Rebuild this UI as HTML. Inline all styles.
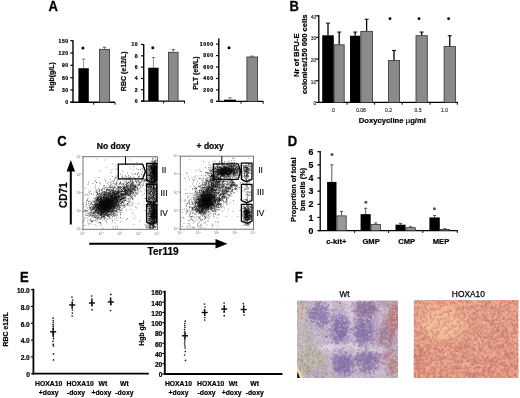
<!DOCTYPE html>
<html><head><meta charset="utf-8"><style>
html,body{margin:0;padding:0;background:#fff;width:520px;height:398px;overflow:hidden}
svg{display:block;will-change:transform}
text{font-family:"Liberation Sans",sans-serif}
</style></head><body>
<svg width="520" height="398" viewBox="0 0 520 398" font-family="Liberation Sans, sans-serif">
<defs>
<filter id="sb" x="-5%" y="-5%" width="110%" height="110%"><feGaussianBlur stdDeviation="1.15"/></filter>
<filter id="b6" x="-50%" y="-50%" width="200%" height="200%"><feGaussianBlur stdDeviation="6"/></filter>
<filter id="sb2" x="-5%" y="-5%" width="110%" height="110%"><feGaussianBlur stdDeviation="0.7"/></filter>
<filter id="sb3" x="-5%" y="-5%" width="110%" height="110%"><feGaussianBlur stdDeviation="1.3"/></filter>
<filter id="b2" x="-50%" y="-50%" width="200%" height="200%"><feGaussianBlur stdDeviation="2"/></filter>
<filter id="b3" x="-50%" y="-50%" width="200%" height="200%"><feGaussianBlur stdDeviation="3"/></filter>
<filter id="b4" x="-50%" y="-50%" width="200%" height="200%"><feGaussianBlur stdDeviation="4"/></filter>
<clipPath id="cL"><rect x="83" y="156.7" width="74" height="72.6"/></clipPath>
<clipPath id="cR"><rect x="180.3" y="156.2" width="73.2" height="73"/></clipPath>
<filter id="blur3" x="-50%" y="-50%" width="200%" height="200%"><feGaussianBlur stdDeviation="3.5"/></filter>
<filter id="blur2" x="-50%" y="-50%" width="200%" height="200%"><feGaussianBlur stdDeviation="2"/></filter>
<filter id="nz1" x="0" y="0" width="100%" height="100%"><feTurbulence type="fractalNoise" baseFrequency="0.42" numOctaves="2" seed="3"/><feColorMatrix type="matrix" values="0 0 0 0 1  0 0 0 0 0.97  0 0 0 0 0.95  3 0 0 0 -1.45"/></filter>
<filter id="nz2" x="0" y="0" width="100%" height="100%"><feTurbulence type="fractalNoise" baseFrequency="0.38" numOctaves="2" seed="11"/><feColorMatrix type="matrix" values="0 0 0 0 0.3  0 0 0 0 0.22  0 0 0 0 0.42  0 3 0 0 -1.5"/></filter>
<filter id="nz3" x="0" y="0" width="100%" height="100%"><feTurbulence type="fractalNoise" baseFrequency="0.38" numOctaves="2" seed="11"/><feColorMatrix type="matrix" values="0 0 0 0 0.6  0 0 0 0 0.3  0 0 0 0 0.3  0 3 0 0 -1.5"/></filter>
<filter id="noiseA" x="0" y="0" width="100%" height="100%"><feTurbulence type="fractalNoise" baseFrequency="0.45" numOctaves="2" seed="3"/><feColorMatrix type="matrix" values="0 0 0 0 1  0 0 0 0 1  0 0 0 0 1  3 0 0 0 -1.4"/></filter>
<filter id="noiseB" x="0" y="0" width="100%" height="100%"><feTurbulence type="fractalNoise" baseFrequency="0.5" numOctaves="2" seed="9"/><feColorMatrix type="matrix" values="0 0 0 0 0.45  0 0 0 0 0.2  0 0 0 0 0.3  3 0 0 0 -1.5"/></filter>
<clipPath id="cw"><rect x="297" y="300.5" width="101" height="77.5"/></clipPath>
<clipPath id="ch"><rect x="413.6" y="300.1" width="105" height="77.8"/></clipPath>
<linearGradient id="gr1" x1="0" x2="1" y1="0" y2="0"><stop offset="0.75" stop-color="#c25a5a" stop-opacity="0"/><stop offset="1" stop-color="#c25a5a" stop-opacity="0.8"/></linearGradient>
<radialGradient id="gh1" cx="0.3" cy="0.3" r="0.35"><stop offset="0" stop-color="#f3d6a6"/><stop offset="1" stop-color="#f3d6a6" stop-opacity="0"/></radialGradient>
</defs>
<rect width="520" height="398" fill="#fff"/>
<text transform="translate(48.6,10.7) scale(0.93,1)" font-size="14" font-weight="bold" stroke="#000" stroke-width="0.3">A</text>
<line x1="73" y1="40.3" x2="73" y2="103" stroke="#000" stroke-width="1.4"/>
<line x1="70.3" y1="102.3" x2="73" y2="102.3" stroke="#000" stroke-width="1.2"/>
<text x="68.8" y="104.14" font-size="5.1" font-weight="bold" text-anchor="end" fill="#000" stroke="#000" stroke-width="0.2" letter-spacing="0.6">0</text>
<line x1="70.3" y1="89.98" x2="73" y2="89.98" stroke="#000" stroke-width="1.2"/>
<text x="68.8" y="91.82" font-size="5.1" font-weight="bold" text-anchor="end" fill="#000" stroke="#000" stroke-width="0.2" letter-spacing="0.6">30</text>
<line x1="70.3" y1="77.66" x2="73" y2="77.66" stroke="#000" stroke-width="1.2"/>
<text x="68.8" y="79.5" font-size="5.1" font-weight="bold" text-anchor="end" fill="#000" stroke="#000" stroke-width="0.2" letter-spacing="0.6">60</text>
<line x1="70.3" y1="65.34" x2="73" y2="65.34" stroke="#000" stroke-width="1.2"/>
<text x="68.8" y="67.18" font-size="5.1" font-weight="bold" text-anchor="end" fill="#000" stroke="#000" stroke-width="0.2" letter-spacing="0.6">90</text>
<line x1="70.3" y1="53.02" x2="73" y2="53.02" stroke="#000" stroke-width="1.2"/>
<text x="68.8" y="54.86" font-size="5.1" font-weight="bold" text-anchor="end" fill="#000" stroke="#000" stroke-width="0.2" letter-spacing="0.6">120</text>
<line x1="70.3" y1="40.7" x2="73" y2="40.7" stroke="#000" stroke-width="1.2"/>
<text x="68.8" y="42.54" font-size="5.1" font-weight="bold" text-anchor="end" fill="#000" stroke="#000" stroke-width="0.2" letter-spacing="0.6">150</text>
<line x1="70.3" y1="102.3" x2="115" y2="102.3" stroke="#000" stroke-width="1.4"/>
<line x1="93.7" y1="102.3" x2="93.7" y2="104.6" stroke="#000" stroke-width="1"/>
<line x1="115" y1="102.3" x2="115" y2="104.6" stroke="#000" stroke-width="1"/>
<line x1="83.6" y1="68.21" x2="83.6" y2="59.18" stroke="#777" stroke-width="0.8"/>
<line x1="82" y1="59.18" x2="85.2" y2="59.18" stroke="#777" stroke-width="1.0"/>
<rect x="78.4" y="68.21" width="10.4" height="34.09" fill="#000" stroke="none" stroke-width="0"/>
<line x1="104.5" y1="48.91" x2="104.5" y2="47.27" stroke="#555" stroke-width="0.8"/>
<line x1="102.9" y1="47.27" x2="106.1" y2="47.27" stroke="#555" stroke-width="1.0"/>
<rect x="99.4" y="49.31" width="10.2" height="52.99" fill="#8a8a8a" stroke="#333" stroke-width="0.8"/>
<circle cx="82.9" cy="47.9" r="1.5" fill="#000"/>
<text transform="translate(51.5,76.5) rotate(-90)" x="0" y="0" font-size="7" font-weight="bold" text-anchor="middle" dominant-baseline="central" fill="#000" stroke="#000" stroke-width="0.2">Hgb(g/L)</text>
<line x1="143.7" y1="44.2" x2="143.7" y2="101.8" stroke="#000" stroke-width="1.4"/>
<line x1="141" y1="101.1" x2="143.7" y2="101.1" stroke="#000" stroke-width="1.2"/>
<text x="138.3" y="102.94" font-size="5.1" font-weight="bold" text-anchor="end" fill="#000" stroke="#000" stroke-width="0.2" letter-spacing="0.6">0</text>
<line x1="141" y1="89.78" x2="143.7" y2="89.78" stroke="#000" stroke-width="1.2"/>
<text x="138.3" y="91.62" font-size="5.1" font-weight="bold" text-anchor="end" fill="#000" stroke="#000" stroke-width="0.2" letter-spacing="0.6">2</text>
<line x1="141" y1="78.46" x2="143.7" y2="78.46" stroke="#000" stroke-width="1.2"/>
<text x="138.3" y="80.3" font-size="5.1" font-weight="bold" text-anchor="end" fill="#000" stroke="#000" stroke-width="0.2" letter-spacing="0.6">4</text>
<line x1="141" y1="67.14" x2="143.7" y2="67.14" stroke="#000" stroke-width="1.2"/>
<text x="138.3" y="68.98" font-size="5.1" font-weight="bold" text-anchor="end" fill="#000" stroke="#000" stroke-width="0.2" letter-spacing="0.6">6</text>
<line x1="141" y1="55.82" x2="143.7" y2="55.82" stroke="#000" stroke-width="1.2"/>
<text x="138.3" y="57.66" font-size="5.1" font-weight="bold" text-anchor="end" fill="#000" stroke="#000" stroke-width="0.2" letter-spacing="0.6">8</text>
<line x1="141" y1="44.5" x2="143.7" y2="44.5" stroke="#000" stroke-width="1.2"/>
<text x="138.3" y="46.34" font-size="5.1" font-weight="bold" text-anchor="end" fill="#000" stroke="#000" stroke-width="0.2" letter-spacing="0.6">10</text>
<line x1="141.3" y1="101.1" x2="184.8" y2="101.1" stroke="#000" stroke-width="1.4"/>
<line x1="163.7" y1="101.1" x2="163.7" y2="103.4" stroke="#000" stroke-width="1"/>
<line x1="184.5" y1="101.1" x2="184.5" y2="103.4" stroke="#000" stroke-width="1"/>
<line x1="153.4" y1="67.71" x2="153.4" y2="57.52" stroke="#777" stroke-width="0.8"/>
<line x1="151.8" y1="57.52" x2="155" y2="57.52" stroke="#777" stroke-width="1.0"/>
<rect x="148.2" y="67.71" width="10.4" height="33.39" fill="#000" stroke="none" stroke-width="0"/>
<line x1="173.25" y1="51.86" x2="173.25" y2="49.59" stroke="#555" stroke-width="0.8"/>
<line x1="171.65" y1="49.59" x2="174.85" y2="49.59" stroke="#555" stroke-width="1.0"/>
<rect x="168.4" y="52.26" width="9.7" height="48.84" fill="#8a8a8a" stroke="#333" stroke-width="0.8"/>
<circle cx="152.8" cy="47.8" r="1.5" fill="#000"/>
<text transform="translate(123.8,71.3) rotate(-90)" x="0" y="0" font-size="7" font-weight="bold" text-anchor="middle" dominant-baseline="central" fill="#000" stroke="#000" stroke-width="0.2">RBC (e12/L)</text>
<line x1="218.8" y1="38.4" x2="218.8" y2="102.1" stroke="#000" stroke-width="1.4"/>
<line x1="216.1" y1="101.4" x2="218.8" y2="101.4" stroke="#000" stroke-width="1.2"/>
<text x="213.6" y="103.24" font-size="5.1" font-weight="bold" text-anchor="end" fill="#000" stroke="#000" stroke-width="0.2" letter-spacing="0.6">0</text>
<line x1="216.1" y1="89.94" x2="218.8" y2="89.94" stroke="#000" stroke-width="1.2"/>
<text x="213.6" y="91.78" font-size="5.1" font-weight="bold" text-anchor="end" fill="#000" stroke="#000" stroke-width="0.2" letter-spacing="0.6">200</text>
<line x1="216.1" y1="78.48" x2="218.8" y2="78.48" stroke="#000" stroke-width="1.2"/>
<text x="213.6" y="80.32" font-size="5.1" font-weight="bold" text-anchor="end" fill="#000" stroke="#000" stroke-width="0.2" letter-spacing="0.6">400</text>
<line x1="216.1" y1="67.02" x2="218.8" y2="67.02" stroke="#000" stroke-width="1.2"/>
<text x="213.6" y="68.86" font-size="5.1" font-weight="bold" text-anchor="end" fill="#000" stroke="#000" stroke-width="0.2" letter-spacing="0.6">600</text>
<line x1="216.1" y1="55.56" x2="218.8" y2="55.56" stroke="#000" stroke-width="1.2"/>
<text x="213.6" y="57.4" font-size="5.1" font-weight="bold" text-anchor="end" fill="#000" stroke="#000" stroke-width="0.2" letter-spacing="0.6">800</text>
<line x1="216.1" y1="44.1" x2="218.8" y2="44.1" stroke="#000" stroke-width="1.2"/>
<text x="213.6" y="45.94" font-size="5.1" font-weight="bold" text-anchor="end" fill="#000" stroke="#000" stroke-width="0.2" letter-spacing="0.6">1000</text>
<line x1="216.1" y1="101.4" x2="263.4" y2="101.4" stroke="#000" stroke-width="1.4"/>
<line x1="241" y1="101.4" x2="241" y2="103.7" stroke="#000" stroke-width="1"/>
<line x1="263.2" y1="101.4" x2="263.2" y2="103.7" stroke="#000" stroke-width="1"/>
<line x1="230" y1="99.68" x2="230" y2="97.68" stroke="#777" stroke-width="0.8"/>
<line x1="228.4" y1="97.68" x2="231.6" y2="97.68" stroke="#777" stroke-width="1.0"/>
<rect x="224" y="99.68" width="12" height="1.72" fill="#000" stroke="none" stroke-width="0"/>
<line x1="252.25" y1="56.59" x2="252.25" y2="56.13" stroke="#555" stroke-width="0.8"/>
<line x1="250.65" y1="56.13" x2="253.85" y2="56.13" stroke="#555" stroke-width="1.0"/>
<rect x="246.9" y="56.99" width="10.7" height="44.41" fill="#8a8a8a" stroke="#333" stroke-width="0.8"/>
<circle cx="229" cy="47.8" r="1.5" fill="#000"/>
<text transform="translate(195.8,73) rotate(-90)" x="0" y="0" font-size="7" font-weight="bold" text-anchor="middle" dominant-baseline="central" fill="#000" stroke="#000" stroke-width="0.2">PLT (e9/L)</text>
<text transform="translate(289.5,11) scale(0.93,1)" font-size="14" font-weight="bold" stroke="#000" stroke-width="0.3">B</text>
<line x1="318.8" y1="15.3" x2="318.8" y2="103.05" stroke="#000" stroke-width="1.3"/>
<line x1="316.1" y1="102.4" x2="318.8" y2="102.4" stroke="#000" stroke-width="1.2"/>
<text x="316.2" y="105.33" font-size="4.8" font-weight="normal" text-anchor="end" fill="#222" stroke="#222" stroke-width="0.12" >0</text>
<line x1="316.1" y1="80.75" x2="318.8" y2="80.75" stroke="#000" stroke-width="1.2"/>
<text x="316.2" y="83.68" font-size="4.8" font-weight="normal" text-anchor="end" fill="#222" stroke="#222" stroke-width="0.12" >10</text>
<line x1="316.1" y1="59.1" x2="318.8" y2="59.1" stroke="#000" stroke-width="1.2"/>
<text x="316.2" y="62.03" font-size="4.8" font-weight="normal" text-anchor="end" fill="#222" stroke="#222" stroke-width="0.12" >20</text>
<line x1="316.1" y1="37.45" x2="318.8" y2="37.45" stroke="#000" stroke-width="1.2"/>
<text x="316.2" y="40.38" font-size="4.8" font-weight="normal" text-anchor="end" fill="#222" stroke="#222" stroke-width="0.12" >30</text>
<line x1="316.1" y1="15.8" x2="318.8" y2="15.8" stroke="#000" stroke-width="1.2"/>
<text x="316.2" y="18.73" font-size="4.8" font-weight="normal" text-anchor="end" fill="#222" stroke="#222" stroke-width="0.12" >40</text>
<line x1="318" y1="102.4" x2="457.8" y2="102.4" stroke="#000" stroke-width="1.3"/>
<line x1="347" y1="102.4" x2="347" y2="104.7" stroke="#000" stroke-width="1"/>
<line x1="374.6" y1="102.4" x2="374.6" y2="104.7" stroke="#000" stroke-width="1"/>
<line x1="402.2" y1="102.4" x2="402.2" y2="104.7" stroke="#000" stroke-width="1"/>
<line x1="430" y1="102.4" x2="430" y2="104.7" stroke="#000" stroke-width="1"/>
<line x1="457.3" y1="102.4" x2="457.3" y2="104.7" stroke="#000" stroke-width="1"/>
<line x1="328" y1="35.29" x2="328" y2="23.16" stroke="#000" stroke-width="1.3"/>
<line x1="326" y1="23.16" x2="330" y2="23.16" stroke="#000" stroke-width="1.0"/>
<rect x="322.2" y="35.29" width="11.6" height="67.11" fill="#000" stroke="none" stroke-width="0"/>
<line x1="339.2" y1="44.38" x2="339.2" y2="32.04" stroke="#000" stroke-width="1.3"/>
<line x1="337.2" y1="32.04" x2="341.2" y2="32.04" stroke="#000" stroke-width="1.0"/>
<rect x="334.2" y="44.78" width="10" height="57.62" fill="#8a8a8a" stroke="#333" stroke-width="0.8"/>
<line x1="355.2" y1="35.72" x2="355.2" y2="32.04" stroke="#000" stroke-width="1.3"/>
<line x1="353.2" y1="32.04" x2="357.2" y2="32.04" stroke="#000" stroke-width="1.0"/>
<rect x="350" y="35.72" width="10.4" height="66.68" fill="#000" stroke="none" stroke-width="0"/>
<line x1="366.6" y1="30.95" x2="366.6" y2="19.26" stroke="#000" stroke-width="1.3"/>
<line x1="364.6" y1="19.26" x2="368.6" y2="19.26" stroke="#000" stroke-width="1.0"/>
<rect x="360.8" y="31.35" width="11.6" height="71.05" fill="#8a8a8a" stroke="#333" stroke-width="0.8"/>
<line x1="394" y1="60.18" x2="394" y2="50.44" stroke="#000" stroke-width="1.3"/>
<line x1="392" y1="50.44" x2="396" y2="50.44" stroke="#000" stroke-width="1.0"/>
<rect x="388.4" y="60.58" width="11.2" height="41.82" fill="#8a8a8a" stroke="#333" stroke-width="0.8"/>
<line x1="421.65" y1="35.29" x2="421.65" y2="32.04" stroke="#000" stroke-width="1.3"/>
<line x1="419.65" y1="32.04" x2="423.65" y2="32.04" stroke="#000" stroke-width="1.0"/>
<rect x="416" y="35.69" width="11.3" height="66.71" fill="#8a8a8a" stroke="#333" stroke-width="0.8"/>
<line x1="449.75" y1="46.11" x2="449.75" y2="35.72" stroke="#000" stroke-width="1.3"/>
<line x1="447.75" y1="35.72" x2="451.75" y2="35.72" stroke="#000" stroke-width="1.0"/>
<rect x="444.1" y="46.51" width="11.3" height="55.89" fill="#8a8a8a" stroke="#333" stroke-width="0.8"/>
<circle cx="390" cy="18.7" r="1.4" fill="#000"/>
<circle cx="419" cy="18.7" r="1.4" fill="#000"/>
<circle cx="448.6" cy="18.7" r="1.4" fill="#000"/>
<text x="333.5" y="112.3" font-size="5" font-weight="normal" text-anchor="middle" fill="#222" stroke="#222" stroke-width="0.12" >0</text>
<text x="361" y="112.3" font-size="5" font-weight="normal" text-anchor="middle" fill="#222" stroke="#222" stroke-width="0.12" >0.08</text>
<text x="388.5" y="112.3" font-size="5" font-weight="normal" text-anchor="middle" fill="#222" stroke="#222" stroke-width="0.12" >0.2</text>
<text x="418" y="112.3" font-size="5" font-weight="normal" text-anchor="middle" fill="#222" stroke="#222" stroke-width="0.12" >0.5</text>
<text x="444.5" y="112.3" font-size="5" font-weight="normal" text-anchor="middle" fill="#222" stroke="#222" stroke-width="0.12" >1.0</text>
<text x="358.7" y="123.3" font-size="7.7" font-weight="bold" text-anchor="start" fill="#000" stroke="#000" stroke-width="0.2" >Doxycycline <tspan font-weight="normal">µ</tspan>g/ml</text>
<g transform="translate(298.7,55.2) rotate(-90)"><text x="0" y="0" font-size="7.7" font-weight="bold" text-anchor="middle" stroke="#000" stroke-width="0.2">Nr of BFU-E</text></g>
<g transform="translate(306.6,54.2) rotate(-90)"><text x="0" y="0" font-size="7.6" font-weight="bold" text-anchor="middle" stroke="#000" stroke-width="0.2">colonies/150 000 cells</text></g>
<text transform="translate(57.2,145.7) scale(0.93,1)" font-size="14" font-weight="bold" stroke="#000" stroke-width="0.3">C</text>
<text x="96.8" y="148.9" font-size="8.5" font-weight="bold" text-anchor="start" fill="#000" stroke="#000" stroke-width="0.2" >No doxy</text>
<text x="196.6" y="148.9" font-size="8.5" font-weight="bold" text-anchor="start" fill="#000" stroke="#000" stroke-width="0.2" >+ doxy</text>
<line x1="70.8" y1="171" x2="70.8" y2="224.5" stroke="#000" stroke-width="2"/>
<polygon points="70.8,160 66.6,171.5 75,171.5" fill="#000"/>
<line x1="89.2" y1="243.7" x2="216" y2="243.7" stroke="#000" stroke-width="2"/>
<polygon points="227.5,243.7 215.5,239 215.5,248.4" fill="#000"/>
<text transform="translate(63.8,195.2) rotate(-90)" x="0" y="0" font-size="10" font-weight="bold" text-anchor="middle" dominant-baseline="central" fill="#000" stroke="#000" stroke-width="0.2">CD71</text>
<text x="147.6" y="255.4" font-size="10" font-weight="bold" text-anchor="start" fill="#000" stroke="#000" stroke-width="0.2" >Ter119</text>
<rect x="83" y="156.7" width="74.5" height="72.6" fill="#fff"/>
<g transform="scale(.5)" filter="url(#sb)">
<path fill="none" stroke="#000" stroke-opacity="0.5" stroke-width="1.6" stroke-linecap="square" d="M311 315h0m-6 3h0m0 2h0m8 1h0m-10 1h0m5 0h0m4 0h0m-7 1h0m-31 2h0m33 0h0m3 0h0m2 0h0m-4 2h0m2 0h0m-6 1h0m5 0h0m4 0h0m-9 1h0m2 0h0m-3 1h0m4 0h0m1 0h0m-12 1h0m10 0h0m3 0h0m-16 1h0m12 0h0m2 0h0m1 0h0m2 0h0m-16 1h0m7 0h0m2 0h0m4 0h0m2 0h0m1 0h0m1 0h0m-2 1h0m1 0h0m-21 1h0m13 0h0m2 0h0m1 0h0m2 0h0m1 0h0m1 0h0m2 0h0m1 0h0m-16 1h0m7 0h0m1 0h0m3 0h0m1 0h0m4 0h0m-16 1h0m4 0h0m3 0h0m1 0h0m1 0h0m1 0h0m2 0h0m2 0h0m2 0h0m-39 1h0m32 0h0m1 0h0m1 0h0m3 0h0m1 0h0m1 0h0m-35 1h0m4 0h0m23 0h0m3 0h0m3 0h0m2 0h0m-12 1h0m2 0h0m5 0h0m1 0h0m2 0h0m1 0h0m-9 1h0m2 0h0m2 0h0m1 0h0m3 0h0m1 0h0m1 0h0m-9 1h0m2 0h0m3 0h0m2 0h0m1 0h0m1 0h0m-8 1h0m3 0h0m2 0h0m1 0h0m-10 1h0m2 0h0m2 0h0m2 0h0m1 0h0m1 0h0m1 0h0m1 0h0m1 0h0m1 0h0m-35 1h0m27 0h0m3 0h0m1 0h0m1 0h0m1 0h0m1 0h0m1 0h0m-20 1h0m8 0h0m1 0h0m1 0h0m6 0h0m1 0h0m1 0h0m2 0h0m-11 1h0m2 0h0m1 0h0m1 0h0m1 0h0m1 0h0m1 0h0m2 0h0m3 0h0m-18 1h0m2 0h0m5 0h0m3 0h0m1 0h0m1 0h0m4 0h0m1 0h0m1 0h0m-30 1h0m21 0h0m1 0h0m1 0h0m1 0h0m1 0h0m1 0h0m3 0h0m1 0h0m-68 1h0m44 0h0m7 0h0m9 0h0m1 0h0m1 0h0m1 0h0m1 0h0m3 0h0m-19 1h0m3 0h0m2 0h0m4 0h0m6 0h0m1 0h0m1 0h0m-75 1h0m67 0h0m1 0h0m3 0h0m4 0h0m1 0h0m1 0h0m-68 1h0m57 0h0m3 0h0m2 0h0m1 0h0m1 0h0m3 0h0m-43 1h0m40 0h0m1 0h0m1 0h0m1 0h0m-54 1h0m41 0h0m4 0h0m2 0h0m1 0h0m1 0h0m2 0h0m1 0h0m-65 1h0m9 0h0m34 0h0m6 0h0m9 0h0m10 0h0m-52 1h0m26 0h0m4 0h0m4 0h0m10 0h0m3 0h0m1 0h0m1 0h0m2 0h0m-27 1h0m1 0h0m19 0h0m2 0h0m1 0h0m3 0h0m1 0h0m-91 1h0m20 0h0m16 0h0m35 0h0m9 0h0m1 0h0m1 0h0m7 0h0m-61 1h0m42 0h0m6 0h0m2 0h0m-70 1h0m69 0h0m4 0h0m9 0h0m-75 1h0m40 0h0m10 0h0m4 0h0m8 0h0m8 0h0m8 0h0m-91 1h0m30 0h0m14 0h0m36 0h0m2 0h0m5 0h0m3 0h0m-71 1h0m12 0h0m20 0h0m25 0h0m4 0h0m2 0h0m3 0h0m2 0h0m2 0h0m-118 1h0m7 0h0m52 0h0m5 0h0m7 0h0m1 0h0m2 0h0m6 0h0m7 0h0m24 0h0m3 0h0m3 0h0m2 0h0m-78 1h0m15 0h0m6 0h0m2 0h0m7 0h0m34 0h0m1 0h0m2 0h0m4 0h0m2 0h0m6 0h0m-113 1h0m14 0h0m13 0h0m14 0h0m22 0h0m33 0h0m2 0h0m7 0h0m4 0h0m-132 1h0m44 0h0m9 0h0m15 0h0m2 0h0m7 0h0m11 0h0m2 0h0m3 0h0m6 0h0m17 0h0m10 0h0m4 0h0m-60 1h0m4 0h0m28 0h0m21 0h0m3 0h0m4 0h0m1 0h0m1 0h0m1 0h0m-47 1h0m2 0h0m1 0h0m4 0h0m29 0h0m8 0h0m2 0h0m2 0h0m-102 1h0m45 0h0m1 0h0m3 0h0m21 0h0m23 0h0m-95 1h0m5 0h0m32 0h0m5 0h0m6 0h0m10 0h0m31 0h0m16 0h0m-83 1h0m19 0h0m2 0h0m3 0h0m18 0h0m24 0h0m8 0h0m4 0h0m-77 1h0m7 0h0m5 0h0m14 0h0m12 0h0m3 0h0m1 0h0m25 0h0m3 0h0m2 0h0m4 0h0m1 0h0m2 0h0m-89 1h0m3 0h0m19 0h0m16 0h0m4 0h0m38 0h0m1 0h0m6 0h0m6 0h0m-99 1h0m1 0h0m12 0h0m11 0h0m12 0h0m6 0h0m1 0h0m4 0h0m13 0h0m1 0h0m25 0h0m2 0h0m8 0h0m-84 1h0m11 0h0m4 0h0m5 0h0m1 0h0m14 0h0m7 0h0m7 0h0m31 0h0m3 0h0m-53 1h0m1 0h0m1 0h0m5 0h0m1 0h0m6 0h0m-67 1h0m1 0h0m21 0h0m18 0h0m14 0h0m1 0h0m2 0h0m5 0h0m3 0h0m1 0h0m37 0h0m1 0h0m2 0h0m-105 1h0m9 0h0m24 0h0m7 0h0m8 0h0m2 0h0m3 0h0m51 0h0m-95 1h0m4 0h0m7 0h0m21 0h0m6 0h0m10 0h0m9 0h0m1 0h0m2 0h0m26 0h0m1 0h0m3 0h0m6 0h0m-99 1h0m4 0h0m1 0h0m8 0h0m2 0h0m2 0h0m3 0h0m5 0h0m1 0h0m7 0h0m5 0h0m12 0h0m2 0h0m13 0h0m26 0h0m3 0h0m-106 1h0m1 0h0m11 0h0m8 0h0m15 0h0m15 0h0m1 0h0m10 0h0m6 0h0m41 0h0m2 0h0m-100 1h0m1 0h0m4 0h0m6 0h0m9 0h0m8 0h0m4 0h0m2 0h0m7 0h0m2 0h0m11 0h0m5 0h0m4 0h0m34 0h0m7 0h0m-117 1h0m5 0h0m12 0h0m6 0h0m7 0h0m1 0h0m11 0h0m2 0h0m11 0h0m2 0h0m18 0h0m39 0h0m-106 1h0m5 0h0m2 0h0m11 0h0m3 0h0m5 0h0m4 0h0m18 0h0m7 0h0m10 0h0m31 0h0m2 0h0m-122 1h0m4 0h0m37 0h0m1 0h0m2 0h0m8 0h0m2 0h0m3 0h0m2 0h0m13 0h0m5 0h0m8 0h0m9 0h0m23 0h0m9 0h0m2 0h0m1 0h0m-105 1h0m9 0h0m1 0h0m4 0h0m1 0h0m6 0h0m3 0h0m8 0h0m2 0h0m5 0h0m5 0h0m4 0h0m10 0h0m14 0h0m32 0h0m2 0h0m-138 1h0m23 0h0m9 0h0m13 0h0m1 0h0m9 0h0m3 0h0m8 0h0m10 0h0m2 0h0m1 0h0m1 0h0m6 0h0m41 0h0m-106 1h0m6 0h0m3 0h0m10 0h0m1 0h0m7 0h0m3 0h0m1 0h0m2 0h0m5 0h0m5 0h0m12 0h0m1 0h0m1 0h0m1 0h0m5 0h0m1 0h0m2 0h0m42 0h0m2 0h0m-86 1h0m6 0h0m5 0h0m3 0h0m1 0h0m2 0h0m4 0h0m20 0h0m2 0h0m3 0h0m45 0h0m6 0h0m-120 1h0m9 0h0m4 0h0m4 0h0m1 0h0m11 0h0m1 0h0m11 0h0m9 0h0m4 0h0m51 0h0m10 0h0m-112 1h0m1 0h0m12 0h0m5 0h0m5 0h0m2 0h0m1 0h0m3 0h0m4 0h0m4 0h0m4 0h0m1 0h0m4 0h0m19 0h0m9 0h0m28 0h0m8 0h0m1 0h0m4 0h0m-115 1h0m6 0h0m13 0h0m2 0h0m4 0h0m4 0h0m1 0h0m4 0h0m1 0h0m3 0h0m5 0h0m2 0h0m5 0h0m4 0h0m13 0h0m40 0h0m1 0h0m4 0h0m-116 1h0m5 0h0m23 0h0m1 0h0m5 0h0m3 0h0m6 0h0m10 0h0m18 0h0m36 0h0m1 0h0m7 0h0m2 0h0m-116 1h0m3 0h0m12 0h0m5 0h0m1 0h0m5 0h0m2 0h0m3 0h0m2 0h0m7 0h0m5 0h0m2 0h0m5 0h0m5 0h0m53 0h0m4 0h0m1 0h0m-132 1h0m20 0h0m5 0h0m2 0h0m5 0h0m5 0h0m4 0h0m5 0h0m7 0h0m5 0h0m10 0h0m2 0h0m1 0h0m3 0h0m10 0h0m6 0h0m25 0h0m4 0h0m2 0h0m3 0h0m6 0h0m4 0h0m1 0h0m-122 1h0m3 0h0m11 0h0m6 0h0m1 0h0m1 0h0m1 0h0m1 0h0m2 0h0m2 0h0m3 0h0m2 0h0m2 0h0m2 0h0m5 0h0m1 0h0m3 0h0m13 0h0m10 0h0m6 0h0m1 0h0m39 0h0m1 0h0m1 0h0m4 0h0m-118 1h0m1 0h0m7 0h0m4 0h0m1 0h0m2 0h0m1 0h0m6 0h0m2 0h0m3 0h0m1 0h0m5 0h0m2 0h0m2 0h0m2 0h0m2 0h0m3 0h0m3 0h0m2 0h0m1 0h0m55 0h0m2 0h0m5 0h0m6 0h0m-108 1h0m3 0h0m1 0h0m5 0h0m1 0h0m1 0h0m1 0h0m1 0h0m3 0h0m1 0h0m2 0h0m2 0h0m5 0h0m5 0h0m1 0h0m1 0h0m3 0h0m19 0h0m40 0h0m4 0h0m-109 1h0m6 0h0m9 0h0m1 0h0m1 0h0m1 0h0m3 0h0m4 0h0m1 0h0m2 0h0m1 0h0m3 0h0m1 0h0m1 0h0m1 0h0m2 0h0m1 0h0m21 0h0m44 0h0m7 0h0m3 0h0m-111 1h0m2 0h0m2 0h0m3 0h0m2 0h0m1 0h0m2 0h0m2 0h0m1 0h0m1 0h0m4 0h0m2 0h0m1 0h0m1 0h0m4 0h0m1 0h0m1 0h0m1 0h0m2 0h0m2 0h0m2 0h0m1 0h0m3 0h0m4 0h0m21 0h0m41 0h0m6 0h0m-110 1h0m3 0h0m3 0h0m5 0h0m1 0h0m1 0h0m2 0h0m1 0h0m4 0h0m1 0h0m1 0h0m1 0h0m1 0h0m1 0h0m1 0h0m1 0h0m1 0h0m7 0h0m3 0h0m4 0h0m2 0h0m1 0h0m3 0h0m55 0h0m4 0h0m3 0h0m2 0h0m1 0h0m-112 1h0m2 0h0m1 0h0m5 0h0m1 0h0m2 0h0m2 0h0m3 0h0m1 0h0m1 0h0m1 0h0m1 0h0m3 0h0m3 0h0m2 0h0m5 0h0m3 0h0m2 0h0m29 0h0m-64 1h0m1 0h0m4 0h0m2 0h0m1 0h0m1 0h0m4 0h0m2 0h0m3 0h0m1 0h0m1 0h0m2 0h0m2 0h0m1 0h0m2 0h0m1 0h0m3 0h0m3 0h0m62 0h0m3 0h0m1 0h0m2 0h0m1 0h0m4 0h0m2 0h0m-137 1h0m9 0h0m10 0h0m6 0h0m2 0h0m2 0h0m2 0h0m4 0h0m3 0h0m2 0h0m1 0h0m3 0h0m2 0h0m2 0h0m3 0h0m2 0h0m1 0h0m1 0h0m2 0h0m1 0h0m1 0h0m71 0h0m2 0h0m3 0h0m1 0h0m-132 1h0m13 0h0m4 0h0m1 0h0m5 0h0m2 0h0m1 0h0m1 0h0m1 0h0m4 0h0m1 0h0m1 0h0m1 0h0m1 0h0m2 0h0m1 0h0m2 0h0m2 0h0m2 0h0m1 0h0m1 0h0m1 0h0m2 0h0m1 0h0m4 0h0m5 0h0m1 0h0m17 0h0m10 0h0m34 0h0m8 0h0m2 0h0m-110 1h0m2 0h0m1 0h0m3 0h0m2 0h0m1 0h0m4 0h0m1 0h0m1 0h0m1 0h0m1 0h0m1 0h0m1 0h0m2 0h0m2 0h0m2 0h0m2 0h0m1 0h0m1 0h0m1 0h0m2 0h0m2 0h0m10 0h0m8 0h0m5 0h0m10 0h0m32 0h0m4 0h0m-114 1h0m1 0h0m3 0h0m7 0h0m4 0h0m1 0h0m1 0h0m4 0h0m1 0h0m1 0h0m2 0h0m1 0h0m1 0h0m1 0h0m12 0h0m25 0h0m3 0h0m41 0h0m1 0h0m3 0h0m10 0h0m-144 1h0m5 0h0m20 0h0m1 0h0m1 0h0m5 0h0m1 0h0m2 0h0m2 0h0m1 0h0m1 0h0m1 0h0m1 0h0m2 0h0m1 0h0m2 0h0m2 0h0m1 0h0m1 0h0m1 0h0m2 0h0m6 0h0m3 0h0m4 0h0m3 0h0m3 0h0m9 0h0m48 0h0m13 0h0m1 0h0m1 0h0m-126 1h0m13 0h0m2 0h0m1 0h0m2 0h0m1 0h0m3 0h0m1 0h0m3 0h0m2 0h0m2 0h0m1 0h0m1 0h0m1 0h0m1 0h0m1 0h0m1 0h0m2 0h0m1 0h0m17 0h0m2 0h0m6 0h0m15 0h0m35 0h0m5 0h0m1 0h0m1 0h0m7 0h0m-134 1h0m8 0h0m3 0h0m3 0h0m1 0h0m10 0h0m3 0h0m2 0h0m3 0h0m1 0h0m1 0h0m1 0h0m2 0h0m2 0h0m1 0h0m1 0h0m3 0h0m1 0h0m2 0h0m4 0h0m12 0h0m59 0h0m5 0h0m2 0h0m4 0h0m-125 1h0m3 0h0m1 0h0m3 0h0m4 0h0m1 0h0m2 0h0m2 0h0m1 0h0m1 0h0m3 0h0m2 0h0m1 0h0m1 0h0m1 0h0m1 0h0m4 0h0m4 0h0m2 0h0m1 0h0m1 0h0m68 0h0m1 0h0m4 0h0m4 0h0m3 0h0m1 0h0m3 0h0m-124 1h0m3 0h0m6 0h0m1 0h0m1 0h0m5 0h0m3 0h0m1 0h0m2 0h0m1 0h0m1 0h0m2 0h0m2 0h0m1 0h0m1 0h0m1 0h0m1 0h0m1 0h0m2 0h0m1 0h0m7 0h0m5 0h0m2 0h0m12 0h0m1 0h0m47 0h0m4 0h0m2 0h0m1 0h0m1 0h0m4 0h0m-142 1h0m12 0h0m2 0h0m4 0h0m5 0h0m4 0h0m2 0h0m1 0h0m4 0h0m1 0h0m1 0h0m1 0h0m1 0h0m1 0h0m3 0h0m3 0h0m2 0h0m3 0h0m1 0h0m1 0h0m1 0h0m2 0h0m6 0h0m11 0h0m2 0h0m65 0h0m3 0h0m2 0h0m-135 1h0m3 0h0m8 0h0m1 0h0m5 0h0m4 0h0m9 0h0m2 0h0m2 0h0m2 0h0m2 0h0m2 0h0m2 0h0m1 0h0m6 0h0m2 0h0m1 0h0m1 0h0m4 0h0m68 0h0m6 0h0m2 0h0m2 0h0m1 0h0m-123 1h0m6 0h0m2 0h0m1 0h0m3 0h0m3 0h0m2 0h0m1 0h0m2 0h0m2 0h0m2 0h0m1 0h0m1 0h0m5 0h0m3 0h0m1 0h0m3 0h0m6 0h0m66 0h0m1 0h0m2 0h0m1 0h0m1 0h0m1 0h0m1 0h0m3 0h0m-128 1h0m5 0h0m4 0h0m9 0h0m3 0h0m1 0h0m1 0h0m1 0h0m2 0h0m1 0h0m1 0h0m4 0h0m2 0h0m1 0h0m2 0h0m3 0h0m3 0h0m1 0h0m5 0h0m9 0h0m5 0h0m60 0h0m1 0h0m3 0h0m-125 1h0m1 0h0m8 0h0m6 0h0m2 0h0m1 0h0m2 0h0m1 0h0m1 0h0m2 0h0m7 0h0m1 0h0m1 0h0m11 0h0m7 0h0m5 0h0m61 0h0m3 0h0m1 0h0m2 0h0m1 0h0m2 0h0m2 0h0m1 0h0m-127 1h0m9 0h0m4 0h0m4 0h0m2 0h0m4 0h0m3 0h0m1 0h0m2 0h0m2 0h0m2 0h0m1 0h0m23 0h0m57 0h0m6 0h0m4 0h0m2 0h0m1 0h0m-128 1h0m6 0h0m1 0h0m5 0h0m1 0h0m2 0h0m2 0h0m5 0h0m1 0h0m1 0h0m1 0h0m1 0h0m1 0h0m2 0h0m1 0h0m3 0h0m1 0h0m2 0h0m4 0h0m6 0h0m11 0h0m58 0h0m2 0h0m7 0h0m1 0h0m-118 1h0m8 0h0m5 0h0m2 0h0m13 0h0m3 0h0m1 0h0m3 0h0m1 0h0m6 0h0m66 0h0m1 0h0m1 0h0m4 0h0m2 0h0m3 0h0m1 0h0m-144 1h0m17 0h0m17 0h0m3 0h0m8 0h0m3 0h0m6 0h0m2 0h0m1 0h0m10 0h0m63 0h0m3 0h0m3 0h0m1 0h0m1 0h0m1 0h0m1 0h0m2 0h0m1 0h0m2 0h0m-141 1h0m20 0h0m12 0h0m3 0h0m1 0h0m1 0h0m1 0h0m7 0h0m6 0h0m18 0h0m62 0h0m1 0h0m2 0h0m1 0h0m1 0h0m1 0h0m2 0h0m2 0h0m1 0h0m-131 1h0m5 0h0m2 0h0m2 0h0m7 0h0m7 0h0m3 0h0m2 0h0m13 0h0m1 0h0m74 0h0m4 0h0m2 0h0m1 0h0m2 0h0m1 0h0m1 0h0m3 0h0m-131 1h0m15 0h0m6 0h0m1 0h0m2 0h0m3 0h0m10 0h0m9 0h0m9 0h0m65 0h0m1 0h0m2 0h0m1 0h0m1 0h0m2 0h0m1 0h0m1 0h0m1 0h0m-113 1h0m1 0h0m2 0h0m1 0h0m11 0h0m5 0h0m79 0h0m1 0h0m5 0h0m3 0h0m1 0h0m2 0h0m1 0h0m1 0h0m-117 1h0m6 0h0m4 0h0m2 0h0m5 0h0m2 0h0m2 0h0m11 0h0m76 0h0m3 0h0m2 0h0m2 0h0m-118 1h0m12 0h0m1 0h0m3 0h0m1 0h0m1 0h0m8 0h0m2 0h0m2 0h0m1 0h0m75 0h0m5 0h0m1 0h0m1 0h0m4 0h0m1 0h0m1 0h0m1 0h0m-140 1h0m11 0h0m3 0h0m15 0h0m1 0h0m2 0h0m6 0h0m1 0h0m2 0h0m23 0h0m6 0h0m63 0h0m1 0h0m1 0h0m1 0h0m1 0h0m2 0h0m-116 1h0m7 0h0m5 0h0m9 0h0m13 0h0m5 0h0m70 0h0m1 0h0m1 0h0m1 0h0m1 0h0m2 0h0m2 0h0m-134 1h0m11 0h0m41 0h0m69 0h0m3 0h0m1 0h0m3 0h0m1 0h0m1 0h0m1 0h0m3 0h0m-103 1h0m1 0h0m87 0h0m3 0h0m1 0h0m3 0h0m1 0h0m1 0h0m1 0h0m1 0h0m1 0h0m1 0h0m3 0h0m-9 1h0m1 0h0m1 0h0m1 0h0m1 0h0m1 0h0m3 0h0m-141 1h0m19 0h0m6 0h0m106 0h0m2 0h0m1 0h0m2 0h0m1 0h0m1 0h0m3 0h0m-129 1h0m9 0h0m9 0h0m3 0h0m7 0h0m9 0h0m2 0h0m12 0h0m9 0h0m62 0h0m2 0h0m4 0h0m1 0h0m-119 1h0m3 0h0m103 0h0m3 0h0m2 0h0m1 0h0m1 0h0m2 0h0m1 0h0m2 0h0m2 0h0m-98 1h0m88 0h0m3 0h0m2 0h0m1 0h0m-107 1h0m8 0h0m91 0h0m9 0h0m3 0h0m-132 1h0m117 0h0m9 0h0m-94 1h0m86 0h0m4 0h0m2 0h0m3 0h0m2 0h0m2 0h0m-14 1h0m9 0h0m4 0h0m-127 1h0m2 0h0m117 0h0m1 0h0m3 0h0m3 0h0m3 0h0m-130 1h0m59 0h0m55 0h0m7 0h0m3 0h0m1 0h0m-107 1h0m1 0h0m103 0h0m2 0h0m1 0h0m1 0h0m3 0h0m-135 1h0m25 0h0m94 0h0m2 0h0m2 0h0m2 0h0m5 0h0m4 0h0m3 0h0m-12 1h0m1 0h0m5 1h0m1 0h0m5 0h0m-123 1h0m78 0h0m31 0h0m1 0h0m2 0h0m1 0h0m-3 1h0m7 0h0m2 0h0m-17 1h0m4 0h0m2 0h0m3 0h0m4 0h0m-3 1h0m2 0h0m1 0h0m4 1h0m-16 1h0m1 0h0m2 0h0m11 0h0m3 0h0m2 0h0m-10 1h0m9 0h0m-15 1h0m8 0h0m-5 1h0m6 0h0"/>
<path fill="none" stroke="#000" stroke-opacity="0.5" stroke-width="1.6" stroke-linecap="square" d="M307 317h0m4 3h0m-1 3h0m-9 1h0m8 1h0m2 0h0m-5 2h0m5 0h0m1 0h0m-86 1h0m80 0h0m1 0h0m1 0h0m1 1h0m-14 1h0m7 0h0m3 0h0m2 0h0m3 0h0m1 0h0m-17 1h0m6 0h0m1 0h0m3 0h0m5 0h0m1 0h0m-11 1h0m2 0h0m2 0h0m1 0h0m1 0h0m5 0h0m3 0h0m-46 1h0m29 0h0m3 0h0m3 0h0m1 0h0m5 0h0m4 0h0m-13 1h0m4 0h0m1 0h0m1 0h0m8 0h0m-13 1h0m3 0h0m2 0h0m1 0h0m2 0h0m2 0h0m1 0h0m-10 1h0m1 0h0m3 0h0m2 0h0m1 0h0m1 0h0m1 0h0m1 0h0m-9 1h0m3 0h0m1 0h0m1 0h0m1 0h0m2 0h0m1 0h0m1 0h0m-15 1h0m1 0h0m2 0h0m3 0h0m2 0h0m1 0h0m2 0h0m1 0h0m1 0h0m1 0h0m1 0h0m-15 1h0m6 0h0m1 0h0m1 0h0m2 0h0m4 0h0m-9 1h0m1 0h0m2 0h0m1 0h0m2 0h0m2 0h0m-26 1h0m12 0h0m9 0h0m2 0h0m1 0h0m1 0h0m2 0h0m-111 1h0m97 0h0m8 0h0m1 0h0m3 0h0m1 0h0m2 0h0m-14 1h0m1 0h0m7 0h0m1 0h0m1 0h0m2 0h0m1 0h0m-17 1h0m10 0h0m1 0h0m1 0h0m2 0h0m2 0h0m1 0h0m1 0h0m-27 1h0m4 0h0m6 0h0m7 0h0m4 0h0m1 0h0m1 0h0m2 0h0m-14 1h0m10 0h0m1 0h0m3 0h0m1 0h0m-14 1h0m8 0h0m1 0h0m1 0h0m1 0h0m1 0h0m1 0h0m1 0h0m1 0h0m1 0h0m-31 1h0m16 0h0m9 0h0m1 0h0m1 0h0m1 0h0m-43 1h0m27 0h0m8 0h0m2 0h0m2 0h0m2 0h0m4 0h0m-37 1h0m24 0h0m1 0h0m2 0h0m4 0h0m1 0h0m1 0h0m3 0h0m1 0h0m-55 1h0m40 0h0m3 0h0m1 0h0m1 0h0m2 0h0m3 0h0m1 0h0m1 0h0m-2 1h0m1 0h0m1 0h0m2 0h0m1 0h0m-87 1h0m36 0h0m42 0h0m1 0h0m1 0h0m1 0h0m1 0h0m1 0h0m2 0h0m1 0h0m2 0h0m-83 1h0m14 0h0m54 0h0m2 0h0m2 0h0m4 0h0m4 0h0m1 0h0m2 0h0m-67 1h0m56 0h0m2 0h0m1 0h0m1 0h0m2 0h0m1 0h0m-49 1h0m39 0h0m4 0h0m3 0h0m1 0h0m1 0h0m2 0h0m3 0h0m-82 1h0m43 0h0m22 0h0m4 0h0m4 0h0m2 0h0m3 0h0m-99 1h0m19 0h0m31 0h0m11 0h0m16 0h0m8 0h0m3 0h0m3 0h0m2 0h0m1 0h0m2 0h0m1 0h0m-54 1h0m6 0h0m24 0h0m18 0h0m3 0h0m3 0h0m2 0h0m2 0h0m-63 1h0m10 0h0m20 0h0m10 0h0m14 0h0m6 0h0m2 0h0m-45 1h0m24 0h0m14 0h0m1 0h0m3 0h0m2 0h0m3 0h0m-87 1h0m39 0h0m18 0h0m1 0h0m26 0h0m-48 1h0m34 0h0m6 0h0m12 0h0m-80 1h0m27 0h0m32 0h0m9 0h0m11 0h0m-119 1h0m29 0h0m18 0h0m59 0h0m5 0h0m3 0h0m2 0h0m-79 1h0m34 0h0m2 0h0m11 0h0m3 0h0m-47 1h0m6 0h0m1 0h0m14 0h0m1 0h0m7 0h0m18 0h0m16 0h0m3 0h0m4 0h0m2 0h0m4 0h0m1 0h0m1 0h0m1 0h0m1 0h0m-89 1h0m23 0h0m14 0h0m43 0h0m2 0h0m1 0h0m2 0h0m-70 1h0m14 0h0m8 0h0m5 0h0m37 0h0m-112 1h0m9 0h0m34 0h0m33 0h0m9 0h0m17 0h0m8 0h0m-80 1h0m45 0h0m5 0h0m15 0h0m5 0h0m13 0h0m-66 1h0m20 0h0m13 0h0m14 0h0m15 0h0m3 0h0m1 0h0m2 0h0m1 0h0m-69 1h0m7 0h0m6 0h0m8 0h0m2 0h0m2 0h0m6 0h0m26 0h0m7 0h0m5 0h0m-82 1h0m5 0h0m16 0h0m1 0h0m1 0h0m5 0h0m17 0h0m5 0h0m19 0h0m1 0h0m1 0h0m1 0h0m4 0h0m3 0h0m3 0h0m-96 1h0m9 0h0m19 0h0m8 0h0m1 0h0m1 0h0m7 0h0m9 0h0m1 0h0m16 0h0m15 0h0m7 0h0m3 0h0m1 0h0m-84 1h0m3 0h0m22 0h0m3 0h0m11 0h0m34 0h0m5 0h0m1 0h0m1 0h0m4 0h0m3 0h0m-84 1h0m10 0h0m3 0h0m6 0h0m2 0h0m1 0h0m1 0h0m6 0h0m6 0h0m4 0h0m40 0h0m1 0h0m2 0h0m2 0h0m-102 1h0m18 0h0m6 0h0m11 0h0m2 0h0m1 0h0m1 0h0m11 0h0m9 0h0m8 0h0m20 0h0m3 0h0m10 0h0m2 0h0m-94 1h0m2 0h0m24 0h0m10 0h0m14 0h0m34 0h0m9 0h0m-111 1h0m5 0h0m10 0h0m18 0h0m18 0h0m1 0h0m7 0h0m9 0h0m36 0h0m-109 1h0m9 0h0m19 0h0m2 0h0m2 0h0m1 0h0m2 0h0m7 0h0m9 0h0m4 0h0m3 0h0m4 0h0m1 0h0m7 0h0m2 0h0m3 0h0m1 0h0m38 0h0m-88 1h0m4 0h0m7 0h0m5 0h0m3 0h0m5 0h0m11 0h0m3 0h0m37 0h0m2 0h0m12 0h0m3 0h0m-119 1h0m33 0h0m4 0h0m1 0h0m1 0h0m5 0h0m8 0h0m1 0h0m2 0h0m1 0h0m2 0h0m4 0h0m3 0h0m3 0h0m1 0h0m1 0h0m33 0h0m5 0h0m9 0h0m-120 1h0m18 0h0m5 0h0m7 0h0m1 0h0m1 0h0m2 0h0m1 0h0m8 0h0m2 0h0m3 0h0m3 0h0m10 0h0m4 0h0m54 0h0m-131 1h0m35 0h0m4 0h0m11 0h0m9 0h0m16 0h0m1 0h0m42 0h0m3 0h0m1 0h0m8 0h0m1 0h0m-105 1h0m10 0h0m5 0h0m1 0h0m5 0h0m6 0h0m3 0h0m1 0h0m3 0h0m3 0h0m9 0h0m1 0h0m1 0h0m3 0h0m2 0h0m2 0h0m35 0h0m14 0h0m5 0h0m-118 1h0m4 0h0m7 0h0m6 0h0m4 0h0m11 0h0m2 0h0m1 0h0m3 0h0m1 0h0m1 0h0m10 0h0m4 0h0m3 0h0m1 0h0m1 0h0m8 0h0m44 0h0m-95 1h0m4 0h0m2 0h0m20 0h0m5 0h0m3 0h0m1 0h0m19 0h0m9 0h0m21 0h0m2 0h0m7 0h0m2 0h0m1 0h0m2 0h0m-103 1h0m2 0h0m5 0h0m5 0h0m4 0h0m6 0h0m4 0h0m4 0h0m4 0h0m1 0h0m1 0h0m4 0h0m6 0h0m8 0h0m40 0h0m1 0h0m10 0h0m-109 1h0m6 0h0m21 0h0m2 0h0m1 0h0m4 0h0m8 0h0m3 0h0m6 0h0m1 0h0m16 0h0m16 0h0m-88 1h0m7 0h0m7 0h0m3 0h0m9 0h0m1 0h0m4 0h0m1 0h0m11 0h0m4 0h0m3 0h0m18 0h0m35 0h0m-89 1h0m9 0h0m3 0h0m1 0h0m4 0h0m1 0h0m1 0h0m6 0h0m2 0h0m4 0h0m17 0h0m3 0h0m35 0h0m4 0h0m1 0h0m-97 1h0m1 0h0m1 0h0m13 0h0m1 0h0m1 0h0m1 0h0m4 0h0m2 0h0m1 0h0m4 0h0m1 0h0m7 0h0m13 0h0m51 0h0m-111 1h0m6 0h0m6 0h0m2 0h0m3 0h0m2 0h0m4 0h0m2 0h0m1 0h0m3 0h0m3 0h0m1 0h0m4 0h0m1 0h0m1 0h0m1 0h0m4 0h0m3 0h0m58 0h0m5 0h0m6 0h0m-117 1h0m10 0h0m2 0h0m1 0h0m1 0h0m2 0h0m2 0h0m4 0h0m1 0h0m2 0h0m1 0h0m2 0h0m6 0h0m3 0h0m1 0h0m4 0h0m12 0h0m2 0h0m13 0h0m43 0h0m1 0h0m4 0h0m-113 1h0m2 0h0m5 0h0m5 0h0m2 0h0m5 0h0m3 0h0m1 0h0m2 0h0m2 0h0m1 0h0m1 0h0m1 0h0m3 0h0m1 0h0m5 0h0m2 0h0m4 0h0m6 0h0m2 0h0m8 0h0m46 0h0m-105 1h0m6 0h0m1 0h0m2 0h0m3 0h0m1 0h0m1 0h0m4 0h0m4 0h0m3 0h0m1 0h0m1 0h0m3 0h0m1 0h0m1 0h0m4 0h0m7 0h0m2 0h0m2 0h0m7 0h0m-60 1h0m1 0h0m3 0h0m3 0h0m2 0h0m3 0h0m5 0h0m1 0h0m2 0h0m2 0h0m4 0h0m5 0h0m1 0h0m2 0h0m1 0h0m6 0h0m1 0h0m6 0h0m3 0h0m15 0h0m4 0h0m1 0h0m34 0h0m6 0h0m6 0h0m-115 1h0m2 0h0m4 0h0m5 0h0m4 0h0m2 0h0m1 0h0m1 0h0m1 0h0m1 0h0m4 0h0m1 0h0m1 0h0m4 0h0m3 0h0m2 0h0m4 0h0m69 0h0m4 0h0m-117 1h0m1 0h0m1 0h0m6 0h0m1 0h0m1 0h0m2 0h0m4 0h0m3 0h0m1 0h0m1 0h0m2 0h0m1 0h0m1 0h0m1 0h0m3 0h0m2 0h0m2 0h0m4 0h0m2 0h0m2 0h0m7 0h0m7 0h0m-75 1h0m13 0h0m8 0h0m8 0h0m7 0h0m6 0h0m1 0h0m1 0h0m1 0h0m1 0h0m3 0h0m2 0h0m1 0h0m1 0h0m2 0h0m6 0h0m5 0h0m3 0h0m9 0h0m48 0h0m11 0h0m-117 1h0m1 0h0m2 0h0m1 0h0m4 0h0m1 0h0m4 0h0m2 0h0m1 0h0m2 0h0m2 0h0m1 0h0m2 0h0m1 0h0m1 0h0m2 0h0m1 0h0m2 0h0m7 0h0m5 0h0m2 0h0m7 0h0m51 0h0m9 0h0m3 0h0m4 0h0m-131 1h0m6 0h0m5 0h0m10 0h0m1 0h0m4 0h0m1 0h0m2 0h0m1 0h0m1 0h0m2 0h0m3 0h0m1 0h0m3 0h0m3 0h0m2 0h0m1 0h0m3 0h0m6 0h0m4 0h0m55 0h0m3 0h0m3 0h0m3 0h0m6 0h0m-114 1h0m3 0h0m2 0h0m1 0h0m1 0h0m5 0h0m2 0h0m1 0h0m1 0h0m1 0h0m4 0h0m1 0h0m2 0h0m1 0h0m2 0h0m1 0h0m2 0h0m1 0h0m1 0h0m2 0h0m4 0h0m12 0h0m3 0h0m49 0h0m8 0h0m-117 1h0m2 0h0m3 0h0m6 0h0m5 0h0m1 0h0m3 0h0m2 0h0m1 0h0m2 0h0m2 0h0m1 0h0m1 0h0m1 0h0m2 0h0m4 0h0m3 0h0m3 0h0m5 0h0m67 0h0m9 0h0m-119 1h0m8 0h0m4 0h0m3 0h0m2 0h0m3 0h0m1 0h0m2 0h0m1 0h0m1 0h0m1 0h0m2 0h0m6 0h0m3 0h0m8 0h0m3 0h0m2 0h0m4 0h0m49 0h0m6 0h0m10 0h0m-110 1h0m1 0h0m1 0h0m2 0h0m1 0h0m2 0h0m1 0h0m8 0h0m1 0h0m1 0h0m2 0h0m1 0h0m1 0h0m2 0h0m2 0h0m5 0h0m1 0h0m8 0h0m56 0h0m8 0h0m1 0h0m1 0h0m3 0h0m-144 1h0m15 0h0m10 0h0m6 0h0m1 0h0m2 0h0m5 0h0m5 0h0m1 0h0m5 0h0m1 0h0m4 0h0m1 0h0m3 0h0m1 0h0m1 0h0m1 0h0m1 0h0m1 0h0m18 0h0m60 0h0m2 0h0m-119 1h0m5 0h0m1 0h0m5 0h0m1 0h0m4 0h0m1 0h0m2 0h0m1 0h0m1 0h0m2 0h0m2 0h0m1 0h0m1 0h0m1 0h0m1 0h0m6 0h0m4 0h0m1 0h0m6 0h0m65 0h0m1 0h0m3 0h0m1 0h0m-129 1h0m15 0h0m1 0h0m1 0h0m1 0h0m2 0h0m3 0h0m1 0h0m2 0h0m4 0h0m1 0h0m1 0h0m1 0h0m1 0h0m1 0h0m1 0h0m1 0h0m2 0h0m1 0h0m4 0h0m1 0h0m6 0h0m3 0h0m1 0h0m3 0h0m59 0h0m1 0h0m10 0h0m1 0h0m1 0h0m1 0h0m4 0h0m-115 1h0m1 0h0m3 0h0m1 0h0m2 0h0m1 0h0m1 0h0m2 0h0m1 0h0m1 0h0m2 0h0m1 0h0m1 0h0m2 0h0m1 0h0m2 0h0m3 0h0m1 0h0m1 0h0m4 0h0m1 0h0m5 0h0m2 0h0m3 0h0m9 0h0m7 0h0m4 0h0m34 0h0m6 0h0m7 0h0m-115 1h0m5 0h0m1 0h0m1 0h0m3 0h0m3 0h0m1 0h0m3 0h0m1 0h0m1 0h0m1 0h0m2 0h0m1 0h0m1 0h0m1 0h0m3 0h0m6 0h0m1 0h0m3 0h0m1 0h0m1 0h0m6 0h0m54 0h0m6 0h0m5 0h0m2 0h0m1 0h0m1 0h0m2 0h0m2 0h0m2 0h0m-141 1h0m14 0h0m1 0h0m8 0h0m1 0h0m2 0h0m4 0h0m4 0h0m1 0h0m4 0h0m1 0h0m1 0h0m1 0h0m1 0h0m1 0h0m3 0h0m2 0h0m1 0h0m1 0h0m3 0h0m3 0h0m1 0h0m73 0h0m2 0h0m1 0h0m3 0h0m2 0h0m1 0h0m-118 1h0m1 0h0m3 0h0m3 0h0m1 0h0m1 0h0m2 0h0m2 0h0m1 0h0m4 0h0m2 0h0m2 0h0m1 0h0m2 0h0m3 0h0m8 0h0m6 0h0m3 0h0m68 0h0m1 0h0m2 0h0m-126 1h0m10 0h0m3 0h0m3 0h0m1 0h0m3 0h0m2 0h0m1 0h0m1 0h0m1 0h0m1 0h0m1 0h0m1 0h0m2 0h0m1 0h0m3 0h0m4 0h0m8 0h0m4 0h0m64 0h0m4 0h0m1 0h0m2 0h0m3 0h0m1 0h0m1 0h0m2 0h0m-126 1h0m4 0h0m3 0h0m4 0h0m2 0h0m3 0h0m1 0h0m6 0h0m1 0h0m1 0h0m2 0h0m3 0h0m3 0h0m2 0h0m1 0h0m1 0h0m1 0h0m1 0h0m4 0h0m66 0h0m7 0h0m6 0h0m3 0h0m-130 1h0m4 0h0m3 0h0m5 0h0m10 0h0m2 0h0m2 0h0m1 0h0m1 0h0m1 0h0m1 0h0m1 0h0m1 0h0m1 0h0m3 0h0m1 0h0m3 0h0m3 0h0m4 0h0m4 0h0m66 0h0m8 0h0m1 0h0m1 0h0m-126 1h0m13 0h0m2 0h0m2 0h0m5 0h0m1 0h0m1 0h0m3 0h0m2 0h0m4 0h0m1 0h0m1 0h0m11 0h0m71 0h0m5 0h0m2 0h0m1 0h0m1 0h0m2 0h0m1 0h0m1 0h0m-126 1h0m7 0h0m4 0h0m1 0h0m1 0h0m1 0h0m1 0h0m1 0h0m2 0h0m1 0h0m2 0h0m1 0h0m1 0h0m1 0h0m1 0h0m2 0h0m1 0h0m1 0h0m2 0h0m1 0h0m1 0h0m1 0h0m1 0h0m16 0h0m56 0h0m12 0h0m1 0h0m1 0h0m1 0h0m2 0h0m2 0h0m-130 1h0m10 0h0m1 0h0m7 0h0m2 0h0m2 0h0m4 0h0m3 0h0m2 0h0m3 0h0m10 0h0m8 0h0m63 0h0m1 0h0m7 0h0m2 0h0m1 0h0m3 0h0m1 0h0m1 0h0m-139 1h0m18 0h0m2 0h0m3 0h0m6 0h0m1 0h0m3 0h0m1 0h0m1 0h0m2 0h0m4 0h0m3 0h0m6 0h0m2 0h0m16 0h0m59 0h0m3 0h0m1 0h0m1 0h0m1 0h0m1 0h0m1 0h0m2 0h0m2 0h0m-144 1h0m14 0h0m9 0h0m1 0h0m2 0h0m1 0h0m3 0h0m3 0h0m1 0h0m4 0h0m1 0h0m3 0h0m1 0h0m3 0h0m2 0h0m9 0h0m3 0h0m3 0h0m69 0h0m2 0h0m4 0h0m1 0h0m1 0h0m1 0h0m2 0h0m-123 1h0m3 0h0m3 0h0m6 0h0m7 0h0m1 0h0m3 0h0m4 0h0m2 0h0m1 0h0m11 0h0m3 0h0m1 0h0m71 0h0m1 0h0m1 0h0m2 0h0m-120 1h0m4 0h0m8 0h0m3 0h0m2 0h0m1 0h0m1 0h0m9 0h0m2 0h0m2 0h0m5 0h0m12 0h0m66 0h0m2 0h0m3 0h0m2 0h0m2 0h0m-117 1h0m1 0h0m6 0h0m4 0h0m1 0h0m1 0h0m4 0h0m1 0h0m1 0h0m1 0h0m11 0h0m75 0h0m1 0h0m1 0h0m1 0h0m1 0h0m2 0h0m1 0h0m2 0h0m2 0h0m-138 1h0m1 0h0m8 0h0m3 0h0m2 0h0m3 0h0m9 0h0m5 0h0m2 0h0m4 0h0m2 0h0m5 0h0m12 0h0m10 0h0m55 0h0m3 0h0m1 0h0m3 0h0m1 0h0m1 0h0m1 0h0m2 0h0m1 0h0m1 0h0m1 0h0m-127 1h0m4 0h0m7 0h0m2 0h0m5 0h0m20 0h0m80 0h0m2 0h0m1 0h0m6 0h0m1 0h0m-126 1h0m1 0h0m2 0h0m12 0h0m12 0h0m1 0h0m13 0h0m2 0h0m73 0h0m6 0h0m1 0h0m1 0h0m-120 1h0m8 0h0m2 0h0m4 0h0m3 0h0m3 0h0m1 0h0m19 0h0m11 0h0m58 0h0m3 0h0m1 0h0m4 0h0m1 0h0m1 0h0m2 0h0m1 0h0m1 0h0m-137 1h0m4 0h0m2 0h0m4 0h0m13 0h0m5 0h0m2 0h0m4 0h0m6 0h0m1 0h0m3 0h0m79 0h0m4 0h0m2 0h0m5 0h0m1 0h0m1 0h0m-138 1h0m13 0h0m3 0h0m13 0h0m9 0h0m3 0h0m11 0h0m76 0h0m2 0h0m1 0h0m2 0h0m1 0h0m1 0h0m-103 1h0m9 0h0m2 0h0m76 0h0m5 0h0m3 0h0m3 0h0m2 0h0m1 0h0m5 0h0m-133 1h0m25 0h0m1 0h0m4 0h0m6 0h0m3 0h0m2 0h0m10 0h0m78 0h0m1 0h0m3 0h0m-103 1h0m90 0h0m4 0h0m1 0h0m2 0h0m2 0h0m2 0h0m1 0h0m1 0h0m-109 1h0m4 0h0m3 0h0m92 0h0m2 0h0m1 0h0m2 0h0m2 0h0m1 0h0m2 0h0m-107 1h0m13 0h0m82 0h0m5 0h0m6 0h0m2 0h0m-120 1h0m16 0h0m87 0h0m3 0h0m3 0h0m4 0h0m1 0h0m2 0h0m1 0h0m1 0h0m-142 1h0m26 0h0m3 0h0m5 0h0m21 0h0m73 0h0m8 0h0m2 0h0m3 0h0m2 0h0m1 0h0m-14 1h0m1 0h0m3 0h0m1 0h0m3 0h0m2 0h0m-103 1h0m89 0h0m5 0h0m4 0h0m5 0h0m1 0h0m2 0h0m-125 1h0m2 0h0m2 0h0m41 0h0m74 0h0m6 0h0m-33 1h0m30 0h0m-8 1h0m8 0h0m-143 1h0m59 0h0m70 0h0m6 0h0m1 0h0m4 0h0m2 0h0m3 0h0m-8 1h0m5 0h0m-5 1h0m4 0h0m4 0h0m-133 1h0m121 0h0m5 0h0m-101 1h0m11 0h0m93 1h0m-3 1h0m1 0h0m3 0h0m5 0h0m-142 1h0m130 0h0m-1 3h0m3 0h0m3 0h0m2 0h0m-14 1h0m6 0h0m6 0h0m2 0h0m-73 1h0m57 0h0m9 1h0m3 0h0"/>
<path fill="none" stroke="#000" stroke-opacity="0.5" stroke-width="1.6" stroke-linecap="square" d="M306 316h0m-112 2h0m118 0h0m-1 3h0m-3 1h0m1 0h0m2 1h0m-7 1h0m5 0h0m1 1h0m-2 1h0m2 0h0m-5 1h0m3 0h0m4 0h0m-58 1h0m51 0h0m-73 2h0m68 0h0m4 0h0m2 0h0m3 0h0m1 0h0m-13 1h0m2 0h0m8 0h0m3 0h0m-9 1h0m3 0h0m1 0h0m2 0h0m1 0h0m1 0h0m1 0h0m3 0h0m-11 1h0m4 0h0m1 0h0m1 0h0m1 0h0m2 0h0m-99 1h0m86 0h0m5 0h0m1 0h0m3 0h0m1 0h0m1 0h0m4 0h0m-7 1h0m3 0h0m1 0h0m1 0h0m1 0h0m-13 1h0m4 0h0m4 0h0m1 0h0m1 0h0m2 0h0m1 0h0m1 0h0m-13 1h0m2 0h0m2 0h0m1 0h0m1 0h0m1 0h0m1 0h0m1 0h0m-74 1h0m67 0h0m1 0h0m2 0h0m1 0h0m1 0h0m2 0h0m2 0h0m-45 1h0m33 0h0m1 0h0m3 0h0m1 0h0m2 0h0m2 0h0m1 0h0m1 0h0m1 0h0m-17 1h0m1 0h0m4 0h0m3 0h0m1 0h0m1 0h0m1 0h0m1 0h0m1 0h0m2 0h0m1 0h0m3 0h0m-17 1h0m2 0h0m1 0h0m5 0h0m3 0h0m1 0h0m2 0h0m1 0h0m1 0h0m-19 1h0m9 0h0m1 0h0m2 0h0m1 0h0m1 0h0m1 0h0m1 0h0m1 0h0m-10 1h0m1 0h0m3 0h0m2 0h0m1 0h0m3 0h0m1 0h0m-9 1h0m2 0h0m2 0h0m2 0h0m1 0h0m1 0h0m-13 1h0m4 0h0m3 0h0m2 0h0m2 0h0m1 0h0m1 0h0m1 0h0m1 0h0m1 0h0m-58 1h0m45 0h0m3 0h0m3 0h0m1 0h0m1 0h0m1 0h0m1 0h0m1 0h0m2 0h0m-42 1h0m5 0h0m25 0h0m5 0h0m1 0h0m2 0h0m1 0h0m1 0h0m-40 1h0m30 0h0m3 0h0m1 0h0m2 0h0m1 0h0m1 0h0m-22 1h0m13 0h0m5 0h0m3 0h0m1 0h0m1 0h0m1 0h0m1 0h0m1 0h0m-18 1h0m1 0h0m4 0h0m2 0h0m4 0h0m1 0h0m2 0h0m1 0h0m2 0h0m-14 1h0m5 0h0m3 0h0m1 0h0m2 0h0m1 0h0m2 0h0m-33 1h0m1 0h0m5 0h0m15 0h0m1 0h0m1 0h0m6 0h0m1 0h0m1 0h0m-56 1h0m23 0h0m1 0h0m29 0h0m1 0h0m2 0h0m1 0h0m1 0h0m-62 1h0m8 0h0m38 0h0m6 0h0m1 0h0m1 0h0m4 0h0m-48 1h0m16 0h0m31 0h0m2 0h0m1 0h0m1 0h0m1 0h0m-120 1h0m71 0h0m39 0h0m6 0h0m1 0h0m-32 1h0m26 0h0m4 0h0m5 0h0m-12 1h0m3 0h0m1 0h0m3 0h0m4 0h0m1 0h0m-41 1h0m24 0h0m13 0h0m2 0h0m2 0h0m-24 1h0m15 0h0m3 0h0m2 0h0m3 0h0m-82 1h0m32 0h0m3 0h0m31 0h0m8 0h0m4 0h0m2 0h0m-59 1h0m4 0h0m7 0h0m41 0h0m3 0h0m2 0h0m-117 1h0m72 0h0m10 0h0m5 0h0m26 0h0m4 0h0m1 0h0m1 0h0m2 0h0m1 0h0m-85 1h0m14 0h0m38 0h0m28 0h0m2 0h0m3 0h0m-95 1h0m24 0h0m18 0h0m47 0h0m3 0h0m-76 1h0m26 0h0m4 0h0m23 0h0m11 0h0m2 0h0m1 0h0m4 0h0m1 0h0m1 0h0m5 0h0m2 0h0m-21 1h0m9 0h0m1 0h0m-67 1h0m9 0h0m22 0h0m21 0h0m8 0h0m1 0h0m9 0h0m1 0h0m7 0h0m-83 1h0m33 0h0m15 0h0m1 0h0m21 0h0m5 0h0m-88 1h0m6 0h0m30 0h0m3 0h0m1 0h0m3 0h0m1 0h0m1 0h0m7 0h0m7 0h0m7 0h0m11 0h0m7 0h0m2 0h0m1 0h0m1 0h0m3 0h0m2 0h0m3 0h0m-65 1h0m50 0h0m3 0h0m6 0h0m-99 1h0m41 0h0m4 0h0m2 0h0m9 0h0m3 0h0m1 0h0m3 0h0m28 0h0m13 0h0m-92 1h0m2 0h0m14 0h0m18 0h0m11 0h0m2 0h0m2 0h0m2 0h0m2 0h0m27 0h0m1 0h0m2 0h0m5 0h0m-47 1h0m36 0h0m2 0h0m7 0h0m3 0h0m3 0h0m-104 1h0m12 0h0m9 0h0m10 0h0m9 0h0m2 0h0m4 0h0m1 0h0m15 0h0m5 0h0m18 0h0m14 0h0m5 0h0m-115 1h0m15 0h0m9 0h0m14 0h0m13 0h0m6 0h0m1 0h0m3 0h0m3 0h0m6 0h0m3 0h0m-42 1h0m4 0h0m8 0h0m33 0h0m27 0h0m4 0h0m2 0h0m3 0h0m-103 1h0m3 0h0m5 0h0m35 0h0m1 0h0m1 0h0m1 0h0m11 0h0m1 0h0m3 0h0m2 0h0m28 0h0m4 0h0m1 0h0m5 0h0m4 0h0m-119 1h0m6 0h0m19 0h0m23 0h0m8 0h0m12 0h0m1 0h0m5 0h0m4 0h0m6 0h0m23 0h0m3 0h0m-104 1h0m21 0h0m13 0h0m10 0h0m9 0h0m1 0h0m1 0h0m2 0h0m4 0h0m1 0h0m11 0h0m5 0h0m21 0h0m5 0h0m1 0h0m5 0h0m3 0h0m2 0h0m-89 1h0m6 0h0m18 0h0m2 0h0m2 0h0m9 0h0m33 0h0m3 0h0m10 0h0m-86 1h0m4 0h0m12 0h0m3 0h0m5 0h0m15 0h0m3 0h0m2 0h0m38 0h0m3 0h0m-101 1h0m23 0h0m7 0h0m7 0h0m1 0h0m1 0h0m4 0h0m6 0h0m1 0h0m5 0h0m22 0h0m19 0h0m2 0h0m7 0h0m-99 1h0m16 0h0m3 0h0m1 0h0m5 0h0m2 0h0m1 0h0m17 0h0m1 0h0m3 0h0m5 0h0m32 0h0m7 0h0m3 0h0m1 0h0m2 0h0m-117 1h0m23 0h0m4 0h0m6 0h0m3 0h0m4 0h0m2 0h0m3 0h0m8 0h0m15 0h0m3 0h0m3 0h0m30 0h0m10 0h0m5 0h0m-102 1h0m7 0h0m3 0h0m2 0h0m6 0h0m4 0h0m1 0h0m1 0h0m1 0h0m2 0h0m5 0h0m1 0h0m10 0h0m1 0h0m7 0h0m2 0h0m1 0h0m37 0h0m5 0h0m3 0h0m-112 1h0m2 0h0m3 0h0m11 0h0m5 0h0m4 0h0m6 0h0m1 0h0m3 0h0m11 0h0m1 0h0m1 0h0m3 0h0m1 0h0m4 0h0m2 0h0m10 0h0m35 0h0m5 0h0m6 0h0m-116 1h0m9 0h0m4 0h0m1 0h0m8 0h0m1 0h0m1 0h0m9 0h0m7 0h0m18 0h0m9 0h0m12 0h0m29 0h0m5 0h0m2 0h0m3 0h0m-131 1h0m5 0h0m14 0h0m7 0h0m1 0h0m2 0h0m5 0h0m9 0h0m5 0h0m2 0h0m6 0h0m5 0h0m1 0h0m13 0h0m44 0h0m4 0h0m5 0h0m1 0h0m-111 1h0m1 0h0m1 0h0m6 0h0m1 0h0m1 0h0m1 0h0m2 0h0m4 0h0m2 0h0m1 0h0m4 0h0m1 0h0m2 0h0m3 0h0m1 0h0m12 0h0m1 0h0m4 0h0m4 0h0m1 0h0m5 0h0m48 0h0m1 0h0m1 0h0m2 0h0m-94 1h0m1 0h0m2 0h0m3 0h0m1 0h0m7 0h0m1 0h0m6 0h0m2 0h0m1 0h0m3 0h0m3 0h0m1 0h0m13 0h0m41 0h0m3 0h0m2 0h0m2 0h0m1 0h0m3 0h0m-111 1h0m2 0h0m3 0h0m1 0h0m1 0h0m16 0h0m5 0h0m5 0h0m1 0h0m4 0h0m3 0h0m3 0h0m24 0h0m2 0h0m24 0h0m2 0h0m9 0h0m2 0h0m-108 1h0m3 0h0m18 0h0m1 0h0m4 0h0m3 0h0m3 0h0m4 0h0m3 0h0m4 0h0m5 0h0m17 0h0m-64 1h0m10 0h0m1 0h0m3 0h0m1 0h0m9 0h0m4 0h0m1 0h0m1 0h0m2 0h0m2 0h0m15 0h0m49 0h0m1 0h0m6 0h0m-110 1h0m6 0h0m1 0h0m1 0h0m2 0h0m1 0h0m1 0h0m16 0h0m3 0h0m3 0h0m3 0h0m5 0h0m9 0h0m54 0h0m3 0h0m1 0h0m2 0h0m1 0h0m3 0h0m-119 1h0m4 0h0m2 0h0m1 0h0m2 0h0m6 0h0m1 0h0m5 0h0m4 0h0m1 0h0m5 0h0m1 0h0m2 0h0m2 0h0m3 0h0m3 0h0m1 0h0m2 0h0m2 0h0m7 0h0m52 0h0m5 0h0m-115 1h0m7 0h0m6 0h0m3 0h0m3 0h0m7 0h0m2 0h0m2 0h0m4 0h0m3 0h0m2 0h0m2 0h0m14 0h0m14 0h0m33 0h0m9 0h0m3 0h0m-109 1h0m1 0h0m3 0h0m3 0h0m4 0h0m4 0h0m1 0h0m1 0h0m5 0h0m8 0h0m6 0h0m3 0h0m6 0h0m6 0h0m55 0h0m4 0h0m-106 1h0m2 0h0m1 0h0m3 0h0m5 0h0m3 0h0m1 0h0m1 0h0m2 0h0m1 0h0m1 0h0m6 0h0m3 0h0m6 0h0m1 0h0m3 0h0m5 0h0m2 0h0m1 0h0m2 0h0m5 0h0m45 0h0m13 0h0m-105 1h0m4 0h0m3 0h0m1 0h0m3 0h0m1 0h0m1 0h0m1 0h0m2 0h0m1 0h0m1 0h0m3 0h0m7 0h0m1 0h0m2 0h0m2 0h0m5 0h0m6 0h0m59 0h0m1 0h0m-118 1h0m2 0h0m4 0h0m7 0h0m1 0h0m3 0h0m3 0h0m4 0h0m4 0h0m1 0h0m1 0h0m1 0h0m2 0h0m2 0h0m1 0h0m1 0h0m1 0h0m5 0h0m1 0h0m7 0h0m9 0h0m47 0h0m3 0h0m12 0h0m-132 1h0m14 0h0m3 0h0m4 0h0m2 0h0m1 0h0m2 0h0m1 0h0m1 0h0m3 0h0m3 0h0m1 0h0m1 0h0m1 0h0m2 0h0m1 0h0m1 0h0m1 0h0m3 0h0m2 0h0m2 0h0m4 0h0m1 0h0m64 0h0m4 0h0m5 0h0m5 0h0m-135 1h0m12 0h0m10 0h0m1 0h0m1 0h0m3 0h0m1 0h0m1 0h0m4 0h0m1 0h0m1 0h0m1 0h0m1 0h0m3 0h0m1 0h0m1 0h0m2 0h0m2 0h0m1 0h0m2 0h0m2 0h0m2 0h0m1 0h0m8 0h0m6 0h0m54 0h0m1 0h0m2 0h0m9 0h0m1 0h0m-139 1h0m5 0h0m16 0h0m5 0h0m1 0h0m1 0h0m3 0h0m1 0h0m2 0h0m2 0h0m6 0h0m1 0h0m7 0h0m2 0h0m1 0h0m1 0h0m6 0h0m62 0h0m11 0h0m1 0h0m-124 1h0m14 0h0m2 0h0m3 0h0m3 0h0m2 0h0m1 0h0m1 0h0m2 0h0m1 0h0m3 0h0m2 0h0m2 0h0m1 0h0m1 0h0m2 0h0m2 0h0m2 0h0m3 0h0m2 0h0m1 0h0m11 0h0m1 0h0m15 0h0m47 0h0m6 0h0m-130 1h0m1 0h0m13 0h0m4 0h0m2 0h0m1 0h0m2 0h0m3 0h0m3 0h0m2 0h0m1 0h0m2 0h0m1 0h0m3 0h0m2 0h0m1 0h0m1 0h0m9 0h0m1 0h0m3 0h0m3 0h0m2 0h0m57 0h0m1 0h0m2 0h0m6 0h0m-118 1h0m1 0h0m3 0h0m6 0h0m1 0h0m1 0h0m1 0h0m1 0h0m5 0h0m1 0h0m1 0h0m2 0h0m1 0h0m1 0h0m4 0h0m3 0h0m2 0h0m1 0h0m2 0h0m4 0h0m1 0h0m5 0h0m3 0h0m17 0h0m38 0h0m1 0h0m10 0h0m-123 1h0m8 0h0m1 0h0m1 0h0m4 0h0m3 0h0m1 0h0m2 0h0m2 0h0m1 0h0m2 0h0m1 0h0m2 0h0m1 0h0m1 0h0m2 0h0m3 0h0m1 0h0m2 0h0m2 0h0m1 0h0m2 0h0m5 0h0m1 0h0m1 0h0m4 0h0m4 0h0m61 0h0m4 0h0m2 0h0m-124 1h0m9 0h0m1 0h0m3 0h0m2 0h0m2 0h0m1 0h0m1 0h0m2 0h0m1 0h0m1 0h0m6 0h0m2 0h0m1 0h0m2 0h0m1 0h0m1 0h0m1 0h0m1 0h0m1 0h0m2 0h0m3 0h0m1 0h0m3 0h0m1 0h0m62 0h0m3 0h0m4 0h0m2 0h0m-114 1h0m8 0h0m2 0h0m3 0h0m3 0h0m3 0h0m1 0h0m1 0h0m1 0h0m1 0h0m6 0h0m2 0h0m8 0h0m5 0h0m1 0h0m1 0h0m7 0h0m3 0h0m54 0h0m3 0h0m6 0h0m-120 1h0m1 0h0m4 0h0m5 0h0m2 0h0m1 0h0m1 0h0m1 0h0m2 0h0m1 0h0m1 0h0m1 0h0m2 0h0m1 0h0m1 0h0m1 0h0m3 0h0m2 0h0m1 0h0m2 0h0m1 0h0m4 0h0m1 0h0m6 0h0m1 0h0m3 0h0m6 0h0m57 0h0m3 0h0m2 0h0m1 0h0m-116 1h0m1 0h0m3 0h0m1 0h0m2 0h0m1 0h0m3 0h0m1 0h0m2 0h0m1 0h0m1 0h0m1 0h0m1 0h0m1 0h0m1 0h0m1 0h0m3 0h0m1 0h0m3 0h0m2 0h0m2 0h0m4 0h0m1 0h0m3 0h0m8 0h0m61 0h0m2 0h0m3 0h0m4 0h0m-127 1h0m6 0h0m2 0h0m4 0h0m1 0h0m1 0h0m5 0h0m2 0h0m1 0h0m4 0h0m1 0h0m1 0h0m5 0h0m1 0h0m1 0h0m1 0h0m1 0h0m1 0h0m5 0h0m9 0h0m60 0h0m1 0h0m7 0h0m2 0h0m1 0h0m1 0h0m3 0h0m-123 1h0m5 0h0m4 0h0m2 0h0m3 0h0m1 0h0m1 0h0m1 0h0m1 0h0m4 0h0m4 0h0m1 0h0m1 0h0m1 0h0m1 0h0m3 0h0m2 0h0m2 0h0m2 0h0m1 0h0m3 0h0m1 0h0m3 0h0m37 0h0m31 0h0m3 0h0m4 0h0m3 0h0m-131 1h0m11 0h0m2 0h0m2 0h0m1 0h0m5 0h0m2 0h0m1 0h0m1 0h0m2 0h0m2 0h0m4 0h0m3 0h0m4 0h0m4 0h0m2 0h0m1 0h0m12 0h0m59 0h0m4 0h0m4 0h0m5 0h0m-122 1h0m4 0h0m4 0h0m3 0h0m1 0h0m1 0h0m1 0h0m2 0h0m3 0h0m2 0h0m1 0h0m1 0h0m1 0h0m2 0h0m3 0h0m1 0h0m1 0h0m2 0h0m8 0h0m14 0h0m48 0h0m10 0h0m1 0h0m3 0h0m1 0h0m-126 1h0m5 0h0m6 0h0m5 0h0m2 0h0m5 0h0m3 0h0m4 0h0m1 0h0m1 0h0m1 0h0m2 0h0m3 0h0m1 0h0m1 0h0m8 0h0m9 0h0m58 0h0m10 0h0m1 0h0m1 0h0m-124 1h0m4 0h0m2 0h0m1 0h0m3 0h0m6 0h0m2 0h0m1 0h0m4 0h0m3 0h0m2 0h0m1 0h0m4 0h0m1 0h0m1 0h0m4 0h0m10 0h0m8 0h0m57 0h0m4 0h0m3 0h0m3 0h0m-120 1h0m5 0h0m2 0h0m4 0h0m2 0h0m4 0h0m1 0h0m1 0h0m3 0h0m1 0h0m3 0h0m4 0h0m4 0h0m4 0h0m9 0h0m1 0h0m25 0h0m41 0h0m1 0h0m1 0h0m1 0h0m3 0h0m2 0h0m-142 1h0m18 0h0m4 0h0m8 0h0m2 0h0m1 0h0m1 0h0m3 0h0m5 0h0m1 0h0m2 0h0m1 0h0m11 0h0m1 0h0m26 0h0m45 0h0m2 0h0m1 0h0m3 0h0m3 0h0m1 0h0m2 0h0m3 0h0m-138 1h0m27 0h0m2 0h0m1 0h0m2 0h0m1 0h0m1 0h0m1 0h0m3 0h0m2 0h0m2 0h0m15 0h0m2 0h0m5 0h0m60 0h0m5 0h0m4 0h0m1 0h0m1 0h0m1 0h0m1 0h0m-140 1h0m19 0h0m7 0h0m4 0h0m4 0h0m1 0h0m2 0h0m1 0h0m1 0h0m2 0h0m4 0h0m1 0h0m1 0h0m1 0h0m5 0h0m4 0h0m16 0h0m51 0h0m4 0h0m2 0h0m2 0h0m-113 1h0m5 0h0m2 0h0m3 0h0m1 0h0m7 0h0m3 0h0m5 0h0m1 0h0m2 0h0m3 0h0m1 0h0m3 0h0m1 0h0m72 0h0m1 0h0m1 0h0m3 0h0m1 0h0m1 0h0m4 0h0m-123 1h0m9 0h0m3 0h0m2 0h0m1 0h0m1 0h0m1 0h0m8 0h0m16 0h0m3 0h0m67 0h0m4 0h0m4 0h0m1 0h0m1 0h0m-125 1h0m12 0h0m5 0h0m2 0h0m1 0h0m2 0h0m1 0h0m3 0h0m1 0h0m5 0h0m5 0h0m76 0h0m8 0h0m2 0h0m1 0h0m2 0h0m-132 1h0m11 0h0m8 0h0m3 0h0m6 0h0m1 0h0m3 0h0m5 0h0m50 0h0m33 0h0m4 0h0m1 0h0m3 0h0m1 0h0m1 0h0m1 0h0m1 0h0m1 0h0m-132 1h0m8 0h0m8 0h0m3 0h0m3 0h0m7 0h0m3 0h0m4 0h0m12 0h0m74 0h0m5 0h0m2 0h0m1 0h0m4 0h0m-120 1h0m10 0h0m1 0h0m20 0h0m3 0h0m78 0h0m2 0h0m2 0h0m1 0h0m1 0h0m2 0h0m-111 1h0m7 0h0m3 0h0m1 0h0m6 0h0m15 0h0m69 0h0m1 0h0m2 0h0m1 0h0m2 0h0m2 0h0m-131 1h0m2 0h0m14 0h0m1 0h0m1 0h0m8 0h0m7 0h0m5 0h0m78 0h0m2 0h0m5 0h0m1 0h0m1 0h0m1 0h0m1 0h0m-133 1h0m14 0h0m4 0h0m3 0h0m6 0h0m9 0h0m4 0h0m3 0h0m5 0h0m1 0h0m82 0h0m1 0h0m2 0h0m1 0h0m-124 1h0m20 0h0m14 0h0m10 0h0m41 0h0m32 0h0m3 0h0m1 0h0m4 0h0m-126 1h0m10 0h0m9 0h0m1 0h0m2 0h0m1 0h0m9 0h0m83 0h0m1 0h0m1 0h0m8 0h0m1 0h0m1 0h0m-113 1h0m27 0h0m77 0h0m1 0h0m1 0h0m1 0h0m1 0h0m1 0h0m1 0h0m-122 1h0m14 0h0m11 0h0m30 0h0m59 0h0m1 0h0m3 0h0m3 0h0m1 0h0m2 0h0m1 0h0m2 0h0m-138 1h0m26 0h0m6 0h0m91 0h0m5 0h0m1 0h0m4 0h0m1 0h0m3 0h0m-117 1h0m60 0h0m13 0h0m36 0h0m1 0h0m1 0h0m2 0h0m1 0h0m-127 1h0m32 0h0m88 0h0m3 0h0m3 0h0m3 0h0m2 0h0m-60 1h0m49 0h0m1 0h0m2 0h0m1 0h0m2 0h0m-9 1h0m3 0h0m3 0h0m-137 1h0m57 0h0m74 0h0m2 0h0m3 0h0m5 0h0m1 0h0m-127 1h0m120 0h0m2 0h0m1 0h0m1 0h0m2 0h0m2 0h0m-98 1h0m89 0h0m5 0h0m3 0h0m2 0h0m-129 1h0m116 0h0m8 0h0m-108 1h0m100 0h0m2 0h0m5 0h0m1 0h0m2 0h0m1 0h0m1 0h0m-115 1h0m4 0h0m96 0h0m8 0h0m1 0h0m2 0h0m2 0h0m1 0h0m1 0h0m-11 1h0m1 0h0m4 0h0m2 0h0m1 0h0m5 0h0m-17 1h0m1 0h0m3 0h0m3 0h0m5 0h0m3 0h0m-10 1h0m6 0h0m-7 1h0m6 0h0m-6 1h0m5 1h0m2 0h0m2 0h0m-82 1h0m73 0h0m6 0h0m-7 1h0m1 0h0m6 0h0m-1 1h0m-5 1h0m4 0h0"/>
<path fill="none" stroke="#000" stroke-opacity="0.5" stroke-width="1.6" stroke-linecap="square" d="M210 320h0m49 0h0m49 2h0m-2 1h0m-1 1h0m4 3h0m-3 1h0m0 1h0m3 0h0m-3 1h0m1 0h0m4 0h0m-8 1h0m4 0h0m1 0h0m1 0h0m1 0h0m-11 1h0m3 0h0m2 0h0m3 0h0m4 0h0m2 0h0m-16 1h0m3 0h0m1 0h0m6 0h0m1 0h0m2 0h0m-13 1h0m5 0h0m1 0h0m2 0h0m2 0h0m1 0h0m3 0h0m1 0h0m-15 1h0m4 0h0m2 0h0m1 0h0m1 0h0m3 0h0m1 0h0m-49 1h0m38 0h0m2 0h0m1 0h0m1 0h0m1 0h0m4 0h0m1 0h0m1 0h0m-25 1h0m5 0h0m7 0h0m10 0h0m2 0h0m1 0h0m1 0h0m1 0h0m1 0h0m1 0h0m-82 1h0m76 0h0m2 0h0m1 0h0m-11 1h0m2 0h0m3 0h0m2 0h0m1 0h0m1 0h0m1 0h0m3 0h0m-88 1h0m62 0h0m20 0h0m1 0h0m2 0h0m1 0h0m2 0h0m-7 1h0m3 0h0m2 0h0m3 0h0m-67 1h0m54 0h0m4 0h0m1 0h0m1 0h0m2 0h0m1 0h0m3 0h0m1 0h0m-14 1h0m8 0h0m1 0h0m1 0h0m1 0h0m-6 1h0m1 0h0m1 0h0m1 0h0m2 0h0m1 0h0m-88 1h0m78 0h0m3 0h0m2 0h0m1 0h0m2 0h0m1 0h0m2 0h0m-11 1h0m1 0h0m1 0h0m2 0h0m1 0h0m4 0h0m1 0h0m1 0h0m-5 1h0m1 0h0m1 0h0m1 0h0m1 0h0m3 0h0m-49 1h0m11 0h0m24 0h0m2 0h0m2 0h0m1 0h0m3 0h0m3 0h0m1 0h0m1 0h0m-71 1h0m34 0h0m24 0h0m9 0h0m1 0h0m1 0h0m2 0h0m-16 1h0m3 0h0m1 0h0m6 0h0m1 0h0m2 0h0m3 0h0m-61 1h0m45 0h0m3 0h0m2 0h0m6 0h0m1 0h0m2 0h0m2 0h0m-80 1h0m64 0h0m3 0h0m4 0h0m1 0h0m1 0h0m1 0h0m1 0h0m2 0h0m1 0h0m3 0h0m-15 1h0m4 0h0m1 0h0m3 0h0m1 0h0m1 0h0m3 0h0m-8 1h0m3 0h0m2 0h0m1 0h0m-111 1h0m35 0h0m35 0h0m42 0h0m2 0h0m-81 1h0m20 0h0m31 0h0m17 0h0m2 0h0m1 0h0m2 0h0m1 0h0m1 0h0m-52 1h0m11 0h0m31 0h0m5 0h0m3 0h0m3 0h0m1 0h0m1 0h0m-14 1h0m6 0h0m2 0h0m2 0h0m2 0h0m1 0h0m1 0h0m1 0h0m1 0h0m1 0h0m-76 1h0m47 0h0m7 0h0m10 0h0m3 0h0m1 0h0m4 0h0m1 0h0m1 0h0m-74 1h0m25 0h0m30 0h0m7 0h0m7 0h0m2 0h0m-117 1h0m81 0h0m2 0h0m4 0h0m13 0h0m5 0h0m3 0h0m4 0h0m7 0h0m2 0h0m-100 1h0m1 0h0m75 0h0m12 0h0m1 0h0m3 0h0m3 0h0m2 0h0m1 0h0m3 0h0m-42 1h0m8 0h0m12 0h0m-113 1h0m80 0h0m9 0h0m18 0h0m9 0h0m3 0h0m13 0h0m2 0h0m-52 1h0m8 0h0m6 0h0m8 0h0m22 0h0m2 0h0m2 0h0m1 0h0m3 0h0m1 0h0m-66 1h0m33 0h0m18 0h0m6 0h0m3 0h0m3 0h0m-123 1h0m68 0h0m40 0h0m3 0h0m5 0h0m3 0h0m-52 1h0m12 0h0m9 0h0m27 0h0m4 0h0m-73 1h0m10 0h0m10 0h0m8 0h0m36 0h0m7 0h0m6 0h0m-135 1h0m90 0h0m8 0h0m14 0h0m18 0h0m1 0h0m4 0h0m-76 1h0m28 0h0m3 0h0m3 0h0m9 0h0m1 0h0m19 0h0m2 0h0m1 0h0m8 0h0m-88 1h0m6 0h0m3 0h0m26 0h0m3 0h0m6 0h0m4 0h0m5 0h0m9 0h0m17 0h0m10 0h0m-70 1h0m3 0h0m19 0h0m1 0h0m3 0h0m34 0h0m2 0h0m9 0h0m-73 1h0m7 0h0m9 0h0m1 0h0m8 0h0m9 0h0m2 0h0m32 0h0m3 0h0m-116 1h0m26 0h0m9 0h0m9 0h0m2 0h0m4 0h0m1 0h0m9 0h0m18 0h0m2 0h0m30 0h0m6 0h0m-136 1h0m50 0h0m11 0h0m4 0h0m18 0h0m6 0h0m5 0h0m1 0h0m14 0h0m18 0h0m2 0h0m1 0h0m2 0h0m5 0h0m-102 1h0m39 0h0m7 0h0m12 0h0m5 0h0m1 0h0m37 0h0m1 0h0m4 0h0m-98 1h0m34 0h0m6 0h0m3 0h0m1 0h0m6 0h0m14 0h0m26 0h0m1 0h0m-92 1h0m2 0h0m3 0h0m5 0h0m12 0h0m2 0h0m14 0h0m4 0h0m6 0h0m37 0h0m7 0h0m1 0h0m2 0h0m1 0h0m1 0h0m-91 1h0m2 0h0m6 0h0m12 0h0m10 0h0m7 0h0m1 0h0m1 0h0m5 0h0m2 0h0m25 0h0m8 0h0m6 0h0m-112 1h0m8 0h0m18 0h0m9 0h0m10 0h0m5 0h0m7 0h0m5 0h0m6 0h0m45 0h0m3 0h0m3 0h0m1 0h0m-134 1h0m35 0h0m7 0h0m1 0h0m7 0h0m3 0h0m6 0h0m7 0h0m5 0h0m3 0h0m1 0h0m1 0h0m10 0h0m14 0h0m21 0h0m4 0h0m3 0h0m4 0h0m-129 1h0m26 0h0m2 0h0m30 0h0m2 0h0m2 0h0m7 0h0m2 0h0m6 0h0m5 0h0m1 0h0m5 0h0m30 0h0m2 0h0m2 0h0m4 0h0m2 0h0m1 0h0m-115 1h0m39 0h0m3 0h0m10 0h0m7 0h0m2 0h0m50 0h0m-112 1h0m11 0h0m3 0h0m3 0h0m4 0h0m9 0h0m3 0h0m1 0h0m9 0h0m14 0h0m2 0h0m8 0h0m13 0h0m2 0h0m25 0h0m3 0h0m1 0h0m5 0h0m-106 1h0m2 0h0m6 0h0m14 0h0m1 0h0m1 0h0m10 0h0m3 0h0m10 0h0m5 0h0m2 0h0m1 0h0m3 0h0m5 0h0m4 0h0m28 0h0m1 0h0m4 0h0m6 0h0m-101 1h0m7 0h0m3 0h0m7 0h0m3 0h0m2 0h0m1 0h0m6 0h0m4 0h0m1 0h0m5 0h0m7 0h0m11 0h0m23 0h0m10 0h0m1 0h0m-105 1h0m4 0h0m7 0h0m11 0h0m5 0h0m1 0h0m2 0h0m1 0h0m2 0h0m5 0h0m1 0h0m1 0h0m14 0h0m9 0h0m2 0h0m1 0h0m36 0h0m1 0h0m1 0h0m1 0h0m-126 1h0m21 0h0m2 0h0m10 0h0m2 0h0m3 0h0m9 0h0m6 0h0m4 0h0m12 0h0m2 0h0m6 0h0m4 0h0m5 0h0m1 0h0m6 0h0m3 0h0m-58 1h0m4 0h0m4 0h0m8 0h0m2 0h0m2 0h0m1 0h0m1 0h0m2 0h0m10 0h0m2 0h0m9 0h0m39 0h0m6 0h0m2 0h0m3 0h0m-131 1h0m33 0h0m1 0h0m7 0h0m1 0h0m1 0h0m3 0h0m1 0h0m1 0h0m1 0h0m2 0h0m1 0h0m9 0h0m1 0h0m2 0h0m3 0h0m8 0h0m3 0h0m49 0h0m5 0h0m1 0h0m1 0h0m2 0h0m-118 1h0m5 0h0m14 0h0m1 0h0m2 0h0m1 0h0m5 0h0m1 0h0m10 0h0m9 0h0m3 0h0m61 0h0m-107 1h0m8 0h0m5 0h0m3 0h0m1 0h0m4 0h0m4 0h0m2 0h0m10 0h0m3 0h0m4 0h0m9 0h0m8 0h0m38 0h0m7 0h0m6 0h0m-115 1h0m3 0h0m1 0h0m6 0h0m4 0h0m4 0h0m2 0h0m4 0h0m3 0h0m2 0h0m1 0h0m7 0h0m2 0h0m15 0h0m63 0h0m-116 1h0m6 0h0m2 0h0m4 0h0m2 0h0m2 0h0m1 0h0m2 0h0m1 0h0m5 0h0m2 0h0m3 0h0m1 0h0m2 0h0m1 0h0m4 0h0m1 0h0m1 0h0m2 0h0m2 0h0m4 0h0m1 0h0m1 0h0m1 0h0m3 0h0m13 0h0m33 0h0m1 0h0m2 0h0m2 0h0m1 0h0m-113 1h0m14 0h0m12 0h0m1 0h0m6 0h0m2 0h0m5 0h0m1 0h0m1 0h0m1 0h0m1 0h0m5 0h0m2 0h0m2 0h0m53 0h0m1 0h0m8 0h0m2 0h0m3 0h0m-113 1h0m4 0h0m1 0h0m1 0h0m7 0h0m2 0h0m3 0h0m1 0h0m7 0h0m1 0h0m2 0h0m1 0h0m1 0h0m1 0h0m1 0h0m1 0h0m1 0h0m14 0h0m1 0h0m3 0h0m52 0h0m4 0h0m3 0h0m1 0h0m-119 1h0m4 0h0m1 0h0m13 0h0m1 0h0m1 0h0m2 0h0m1 0h0m2 0h0m3 0h0m1 0h0m1 0h0m9 0h0m2 0h0m9 0h0m1 0h0m55 0h0m1 0h0m1 0h0m2 0h0m-126 1h0m21 0h0m2 0h0m3 0h0m3 0h0m1 0h0m6 0h0m1 0h0m1 0h0m1 0h0m2 0h0m1 0h0m1 0h0m1 0h0m1 0h0m2 0h0m1 0h0m1 0h0m1 0h0m3 0h0m5 0h0m3 0h0m2 0h0m3 0h0m1 0h0m57 0h0m6 0h0m4 0h0m2 0h0m-116 1h0m7 0h0m3 0h0m1 0h0m4 0h0m2 0h0m2 0h0m1 0h0m1 0h0m1 0h0m2 0h0m1 0h0m3 0h0m1 0h0m1 0h0m1 0h0m1 0h0m2 0h0m3 0h0m3 0h0m1 0h0m4 0h0m2 0h0m4 0h0m7 0h0m49 0h0m-127 1h0m23 0h0m1 0h0m4 0h0m3 0h0m4 0h0m3 0h0m2 0h0m1 0h0m1 0h0m2 0h0m1 0h0m1 0h0m1 0h0m3 0h0m2 0h0m4 0h0m2 0h0m4 0h0m10 0h0m60 0h0m3 0h0m1 0h0m-119 1h0m2 0h0m5 0h0m1 0h0m1 0h0m2 0h0m5 0h0m1 0h0m1 0h0m3 0h0m4 0h0m2 0h0m1 0h0m3 0h0m2 0h0m2 0h0m9 0h0m10 0h0m3 0h0m1 0h0m4 0h0m6 0h0m48 0h0m-121 1h0m2 0h0m8 0h0m2 0h0m3 0h0m4 0h0m1 0h0m1 0h0m2 0h0m1 0h0m2 0h0m1 0h0m1 0h0m1 0h0m2 0h0m1 0h0m2 0h0m1 0h0m1 0h0m6 0h0m3 0h0m1 0h0m1 0h0m1 0h0m2 0h0m19 0h0m2 0h0m42 0h0m2 0h0m1 0h0m4 0h0m-117 1h0m3 0h0m8 0h0m2 0h0m1 0h0m3 0h0m1 0h0m4 0h0m1 0h0m5 0h0m2 0h0m1 0h0m1 0h0m3 0h0m2 0h0m12 0h0m4 0h0m1 0h0m2 0h0m53 0h0m4 0h0m-103 1h0m3 0h0m1 0h0m1 0h0m2 0h0m1 0h0m1 0h0m1 0h0m3 0h0m1 0h0m3 0h0m3 0h0m1 0h0m1 0h0m1 0h0m3 0h0m2 0h0m3 0h0m1 0h0m5 0h0m10 0h0m11 0h0m37 0h0m-106 1h0m5 0h0m4 0h0m1 0h0m3 0h0m2 0h0m1 0h0m1 0h0m2 0h0m1 0h0m1 0h0m1 0h0m1 0h0m2 0h0m1 0h0m3 0h0m1 0h0m2 0h0m3 0h0m2 0h0m7 0h0m2 0h0m3 0h0m9 0h0m52 0h0m1 0h0m8 0h0m2 0h0m2 0h0m-121 1h0m3 0h0m1 0h0m3 0h0m1 0h0m1 0h0m1 0h0m1 0h0m4 0h0m1 0h0m1 0h0m2 0h0m3 0h0m1 0h0m2 0h0m1 0h0m3 0h0m4 0h0m1 0h0m2 0h0m1 0h0m5 0h0m22 0h0m22 0h0m24 0h0m6 0h0m1 0h0m-127 1h0m16 0h0m1 0h0m1 0h0m5 0h0m2 0h0m1 0h0m2 0h0m1 0h0m2 0h0m1 0h0m2 0h0m3 0h0m1 0h0m3 0h0m1 0h0m1 0h0m2 0h0m1 0h0m10 0h0m60 0h0m10 0h0m4 0h0m-138 1h0m11 0h0m4 0h0m1 0h0m7 0h0m1 0h0m2 0h0m2 0h0m5 0h0m1 0h0m2 0h0m1 0h0m3 0h0m1 0h0m1 0h0m1 0h0m2 0h0m2 0h0m3 0h0m2 0h0m3 0h0m3 0h0m68 0h0m-111 1h0m4 0h0m1 0h0m1 0h0m3 0h0m2 0h0m1 0h0m5 0h0m1 0h0m1 0h0m2 0h0m1 0h0m2 0h0m1 0h0m1 0h0m1 0h0m1 0h0m1 0h0m1 0h0m1 0h0m3 0h0m2 0h0m4 0h0m4 0h0m2 0h0m1 0h0m20 0h0m47 0h0m4 0h0m1 0h0m1 0h0m2 0h0m3 0h0m-133 1h0m10 0h0m4 0h0m1 0h0m5 0h0m3 0h0m1 0h0m1 0h0m1 0h0m3 0h0m1 0h0m2 0h0m2 0h0m4 0h0m1 0h0m1 0h0m2 0h0m3 0h0m2 0h0m10 0h0m11 0h0m1 0h0m54 0h0m8 0h0m-122 1h0m4 0h0m4 0h0m3 0h0m1 0h0m5 0h0m1 0h0m1 0h0m1 0h0m2 0h0m1 0h0m2 0h0m2 0h0m2 0h0m1 0h0m2 0h0m3 0h0m1 0h0m1 0h0m1 0h0m1 0h0m1 0h0m2 0h0m2 0h0m1 0h0m16 0h0m49 0h0m5 0h0m1 0h0m2 0h0m6 0h0m-116 1h0m1 0h0m1 0h0m1 0h0m2 0h0m2 0h0m2 0h0m1 0h0m1 0h0m3 0h0m1 0h0m1 0h0m1 0h0m5 0h0m1 0h0m1 0h0m2 0h0m1 0h0m2 0h0m2 0h0m1 0h0m9 0h0m58 0h0m1 0h0m3 0h0m1 0h0m6 0h0m3 0h0m-128 1h0m8 0h0m1 0h0m3 0h0m5 0h0m1 0h0m2 0h0m2 0h0m3 0h0m2 0h0m1 0h0m4 0h0m1 0h0m1 0h0m1 0h0m1 0h0m5 0h0m3 0h0m3 0h0m1 0h0m3 0h0m3 0h0m3 0h0m8 0h0m46 0h0m12 0h0m2 0h0m-122 1h0m3 0h0m2 0h0m5 0h0m2 0h0m1 0h0m3 0h0m1 0h0m1 0h0m2 0h0m1 0h0m1 0h0m2 0h0m1 0h0m2 0h0m1 0h0m1 0h0m4 0h0m4 0h0m1 0h0m3 0h0m76 0h0m4 0h0m1 0h0m1 0h0m1 0h0m-134 1h0m15 0h0m5 0h0m1 0h0m1 0h0m2 0h0m1 0h0m3 0h0m1 0h0m1 0h0m2 0h0m3 0h0m1 0h0m4 0h0m2 0h0m1 0h0m1 0h0m8 0h0m2 0h0m6 0h0m1 0h0m37 0h0m36 0h0m-112 1h0m1 0h0m3 0h0m1 0h0m1 0h0m2 0h0m2 0h0m2 0h0m1 0h0m1 0h0m2 0h0m4 0h0m1 0h0m2 0h0m3 0h0m1 0h0m9 0h0m4 0h0m61 0h0m3 0h0m1 0h0m1 0h0m4 0h0m1 0h0m2 0h0m-123 1h0m5 0h0m2 0h0m1 0h0m1 0h0m1 0h0m2 0h0m1 0h0m1 0h0m3 0h0m4 0h0m2 0h0m4 0h0m3 0h0m6 0h0m2 0h0m69 0h0m10 0h0m3 0h0m2 0h0m1 0h0m1 0h0m-133 1h0m8 0h0m6 0h0m3 0h0m3 0h0m2 0h0m1 0h0m1 0h0m3 0h0m1 0h0m3 0h0m1 0h0m2 0h0m3 0h0m1 0h0m5 0h0m4 0h0m4 0h0m80 0h0m1 0h0m1 0h0m1 0h0m-141 1h0m17 0h0m8 0h0m7 0h0m1 0h0m3 0h0m7 0h0m1 0h0m3 0h0m4 0h0m1 0h0m1 0h0m6 0h0m63 0h0m6 0h0m6 0h0m4 0h0m-137 1h0m10 0h0m11 0h0m1 0h0m4 0h0m4 0h0m8 0h0m2 0h0m3 0h0m2 0h0m2 0h0m1 0h0m4 0h0m1 0h0m6 0h0m59 0h0m11 0h0m8 0h0m2 0h0m-139 1h0m9 0h0m11 0h0m12 0h0m2 0h0m2 0h0m1 0h0m1 0h0m3 0h0m12 0h0m8 0h0m68 0h0m1 0h0m4 0h0m1 0h0m1 0h0m1 0h0m1 0h0m-137 1h0m6 0h0m8 0h0m7 0h0m2 0h0m3 0h0m1 0h0m1 0h0m1 0h0m1 0h0m2 0h0m3 0h0m4 0h0m1 0h0m1 0h0m2 0h0m3 0h0m1 0h0m3 0h0m83 0h0m2 0h0m2 0h0m-113 1h0m1 0h0m5 0h0m1 0h0m3 0h0m1 0h0m4 0h0m1 0h0m2 0h0m1 0h0m9 0h0m76 0h0m2 0h0m3 0h0m1 0h0m1 0h0m1 0h0m4 0h0m-130 1h0m7 0h0m2 0h0m2 0h0m1 0h0m2 0h0m6 0h0m3 0h0m1 0h0m2 0h0m2 0h0m5 0h0m18 0h0m8 0h0m51 0h0m13 0h0m1 0h0m1 0h0m1 0h0m2 0h0m1 0h0m1 0h0m-132 1h0m11 0h0m4 0h0m2 0h0m4 0h0m2 0h0m2 0h0m2 0h0m2 0h0m3 0h0m91 0h0m1 0h0m1 0h0m2 0h0m1 0h0m1 0h0m2 0h0m-135 1h0m8 0h0m13 0h0m5 0h0m3 0h0m6 0h0m9 0h0m3 0h0m5 0h0m2 0h0m66 0h0m1 0h0m8 0h0m2 0h0m1 0h0m1 0h0m1 0h0m1 0h0m-140 1h0m26 0h0m5 0h0m2 0h0m7 0h0m11 0h0m71 0h0m1 0h0m1 0h0m4 0h0m2 0h0m5 0h0m2 0h0m3 0h0m-108 1h0m9 0h0m4 0h0m1 0h0m7 0h0m76 0h0m3 0h0m1 0h0m1 0h0m1 0h0m1 0h0m-129 1h0m2 0h0m27 0h0m1 0h0m8 0h0m83 0h0m5 0h0m1 0h0m1 0h0m1 0h0m1 0h0m3 0h0m-127 1h0m16 0h0m2 0h0m11 0h0m1 0h0m12 0h0m4 0h0m65 0h0m6 0h0m4 0h0m1 0h0m2 0h0m1 0h0m-126 1h0m8 0h0m16 0h0m94 0h0m1 0h0m1 0h0m1 0h0m2 0h0m1 0h0m-120 1h0m4 0h0m6 0h0m8 0h0m10 0h0m9 0h0m72 0h0m1 0h0m2 0h0m2 0h0m1 0h0m3 0h0m1 0h0m1 0h0m1 0h0m1 0h0m-121 1h0m2 0h0m1 0h0m4 0h0m40 0h0m66 0h0m1 0h0m1 0h0m5 0h0m1 0h0m-118 1h0m5 0h0m6 0h0m92 0h0m6 0h0m2 0h0m1 0h0m7 0h0m1 0h0m-114 1h0m110 0h0m1 0h0m1 0h0m1 0h0m-14 1h0m4 0h0m5 0h0m1 0h0m3 0h0m1 0h0m-112 1h0m20 0h0m10 0h0m65 0h0m3 0h0m2 0h0m7 0h0m3 0h0m-3 1h0m2 0h0m-130 1h0m126 0h0m3 0h0m1 0h0m-127 1h0m3 0h0m10 0h0m103 0h0m1 0h0m11 0h0m-134 1h0m21 0h0m104 0h0m9 0h0m-124 1h0m109 0h0m8 0h0m2 0h0m1 0h0m1 0h0m3 0h0m-117 1h0m106 0h0m5 0h0m2 0h0m5 0h0m3 0h0m-16 1h0m14 0h0m1 0h0m-82 1h0m66 0h0m2 0h0m3 0h0m6 0h0m0 1h0m-125 1h0m122 0h0m-14 1h0m10 0h0m3 0h0m2 0h0m1 0h0m-129 1h0m117 0h0m10 0h0m2 0h0m-104 1h0m106 0h0m-114 1h0m40 0h0m60 0h0m5 0h0m7 0h0m2 0h0m-7 1h0m6 0h0m4 0h0m-12 1h0m13 0h0m-12 1h0m7 0h0m2 0h0m-103 1h0m25 0h0m66 0h0m3 0h0m-74 1h0m75 0h0m6 0h0"/>
</g>
<rect x="83" y="156.7" width="74.5" height="72.60000000000002" fill="none" stroke="#666" stroke-width="0.9"/>
<line x1="83" y1="229.3" x2="83" y2="230.5" stroke="#666" stroke-width="0.6"/>
<text x="82.6" y="234.5" font-size="3.4" text-anchor="middle" fill="#777">10<tspan font-size="2.3" dy="-1.3">0</tspan></text>
<line x1="81.8" y1="229.3" x2="83" y2="229.3" stroke="#666" stroke-width="0.6"/>
<text x="81.4" y="230.1" font-size="3.4" text-anchor="end" fill="#777">10<tspan font-size="2.3" dy="-1.3">0</tspan></text>
<line x1="101.62" y1="229.3" x2="101.62" y2="230.5" stroke="#666" stroke-width="0.6"/>
<text x="101.22" y="234.5" font-size="3.4" text-anchor="middle" fill="#777">10<tspan font-size="2.3" dy="-1.3">1</tspan></text>
<line x1="81.8" y1="211.15" x2="83" y2="211.15" stroke="#666" stroke-width="0.6"/>
<text x="81.4" y="211.95" font-size="3.4" text-anchor="end" fill="#777">10<tspan font-size="2.3" dy="-1.3">1</tspan></text>
<line x1="120.25" y1="229.3" x2="120.25" y2="230.5" stroke="#666" stroke-width="0.6"/>
<text x="119.85" y="234.5" font-size="3.4" text-anchor="middle" fill="#777">10<tspan font-size="2.3" dy="-1.3">2</tspan></text>
<line x1="81.8" y1="193" x2="83" y2="193" stroke="#666" stroke-width="0.6"/>
<text x="81.4" y="193.8" font-size="3.4" text-anchor="end" fill="#777">10<tspan font-size="2.3" dy="-1.3">2</tspan></text>
<line x1="138.88" y1="229.3" x2="138.88" y2="230.5" stroke="#666" stroke-width="0.6"/>
<text x="138.47" y="234.5" font-size="3.4" text-anchor="middle" fill="#777">10<tspan font-size="2.3" dy="-1.3">3</tspan></text>
<line x1="81.8" y1="174.85" x2="83" y2="174.85" stroke="#666" stroke-width="0.6"/>
<text x="81.4" y="175.65" font-size="3.4" text-anchor="end" fill="#777">10<tspan font-size="2.3" dy="-1.3">3</tspan></text>
<line x1="157.5" y1="229.3" x2="157.5" y2="230.5" stroke="#666" stroke-width="0.6"/>
<text x="157.1" y="234.5" font-size="3.4" text-anchor="middle" fill="#777">10<tspan font-size="2.3" dy="-1.3">4</tspan></text>
<line x1="81.8" y1="156.7" x2="83" y2="156.7" stroke="#666" stroke-width="0.6"/>
<text x="81.4" y="157.5" font-size="3.4" text-anchor="end" fill="#777">10<tspan font-size="2.3" dy="-1.3">4</tspan></text>
<polygon points="118.3,164.2 142.6,164.2 145.4,171.55 142.6,178.9 118.3,178.9" fill="none" stroke="#000" stroke-width="1.3"/>
<line x1="125.5" y1="156.7" x2="125.5" y2="164.2" stroke="#000" stroke-width="1"/>
<polygon points="146.6,163.5 156.7,163.5 156.7,180.2 151.64999999999998,182.2 146.6,180.2" fill="none" stroke="#000" stroke-width="1.3"/>
<polygon points="146.6,184.4 156.7,184.4 156.7,201.2 151.64999999999998,202.9 146.6,201.2" fill="none" stroke="#000" stroke-width="1.3"/>
<polygon points="146.6,204.5 156.7,204.5 156.7,222 151.64999999999998,224 146.6,222" fill="none" stroke="#000" stroke-width="1.3"/>
<text x="164" y="172.7" font-size="8.4" font-weight="normal" text-anchor="middle" fill="#000" stroke="#000" stroke-width="0.12" >II</text>
<text x="164" y="195.7" font-size="8.4" font-weight="normal" text-anchor="middle" fill="#000" stroke="#000" stroke-width="0.12" >III</text>
<text x="164" y="215.8" font-size="8.4" font-weight="normal" text-anchor="middle" fill="#000" stroke="#000" stroke-width="0.12" >IV</text>
<rect x="180.3" y="156.2" width="73.2" height="73" fill="#fff"/>
<g transform="scale(.5)" filter="url(#sb)">
<path fill="none" stroke="#000" stroke-opacity="0.5" stroke-width="1.6" stroke-linecap="square" d="M470 316h0m28 1h0m-118 2h0m70 6h0m10 0h0m4 0h0m28 0h0m-47 1h0m20 0h0m4 0h0m25 0h0m-46 1h0m11 0h0m7 0h0m17 0h0m-24 1h0m-14 1h0m22 0h0m30 0h0m-69 1h0m25 0h0m1 0h0m8 0h0m-18 1h0m10 0h0m8 0h0m5 0h0m4 0h0m-49 1h0m17 0h0m7 0h0m2 0h0m5 0h0m8 0h0m2 0h0m7 0h0m4 0h0m16 0h0m10 0h0m-67 1h0m1 0h0m16 0h0m9 0h0m1 0h0m4 0h0m9 0h0m15 0h0m5 0h0m6 0h0m-67 1h0m3 0h0m3 0h0m1 0h0m1 0h0m8 0h0m6 0h0m4 0h0m3 0h0m5 0h0m13 0h0m16 0h0m6 0h0m-90 1h0m9 0h0m21 0h0m6 0h0m2 0h0m1 0h0m2 0h0m1 0h0m4 0h0m2 0h0m21 0h0m7 0h0m3 0h0m2 0h0m2 0h0m-64 1h0m7 0h0m3 0h0m4 0h0m5 0h0m2 0h0m7 0h0m3 0h0m16 0h0m15 0h0m3 0h0m-54 1h0m3 0h0m2 0h0m3 0h0m2 0h0m3 0h0m2 0h0m1 0h0m5 0h0m2 0h0m4 0h0m3 0h0m9 0h0m-44 1h0m4 0h0m3 0h0m1 0h0m1 0h0m2 0h0m1 0h0m3 0h0m2 0h0m3 0h0m1 0h0m1 0h0m1 0h0m2 0h0m5 0h0m2 0h0m1 0h0m7 0h0m3 0h0m19 0h0m-73 1h0m8 0h0m3 0h0m1 0h0m2 0h0m1 0h0m2 0h0m4 0h0m2 0h0m3 0h0m4 0h0m1 0h0m1 0h0m5 0h0m1 0h0m1 0h0m2 0h0m9 0h0m17 0h0m1 0h0m7 0h0m-79 1h0m9 0h0m1 0h0m1 0h0m4 0h0m4 0h0m2 0h0m1 0h0m1 0h0m1 0h0m4 0h0m1 0h0m1 0h0m1 0h0m2 0h0m2 0h0m1 0h0m2 0h0m3 0h0m3 0h0m4 0h0m4 0h0m22 0h0m4 0h0m-72 1h0m2 0h0m13 0h0m1 0h0m1 0h0m1 0h0m4 0h0m4 0h0m1 0h0m2 0h0m1 0h0m1 0h0m1 0h0m2 0h0m3 0h0m1 0h0m2 0h0m1 0h0m1 0h0m5 0h0m20 0h0m1 0h0m2 0h0m5 0h0m-77 1h0m12 0h0m2 0h0m5 0h0m1 0h0m2 0h0m2 0h0m5 0h0m1 0h0m7 0h0m1 0h0m6 0h0m6 0h0m5 0h0m1 0h0m16 0h0m-63 1h0m7 0h0m2 0h0m4 0h0m1 0h0m4 0h0m4 0h0m1 0h0m2 0h0m3 0h0m1 0h0m4 0h0m3 0h0m10 0h0m5 0h0m5 0h0m-77 1h0m8 0h0m6 0h0m4 0h0m1 0h0m2 0h0m6 0h0m1 0h0m2 0h0m11 0h0m3 0h0m6 0h0m1 0h0m1 0h0m4 0h0m1 0h0m4 0h0m19 0h0m3 0h0m-123 1h0m39 0h0m14 0h0m10 0h0m4 0h0m4 0h0m2 0h0m1 0h0m2 0h0m5 0h0m4 0h0m2 0h0m9 0h0m1 0h0m1 0h0m1 0h0m2 0h0m4 0h0m12 0h0m7 0h0m-75 1h0m9 0h0m3 0h0m2 0h0m2 0h0m1 0h0m4 0h0m1 0h0m3 0h0m1 0h0m1 0h0m1 0h0m1 0h0m1 0h0m2 0h0m1 0h0m13 0h0m2 0h0m8 0h0m11 0h0m5 0h0m2 0h0m-66 1h0m6 0h0m2 0h0m1 0h0m1 0h0m5 0h0m2 0h0m1 0h0m3 0h0m1 0h0m2 0h0m2 0h0m1 0h0m2 0h0m3 0h0m3 0h0m8 0h0m16 0h0m-74 1h0m2 0h0m11 0h0m5 0h0m3 0h0m9 0h0m2 0h0m1 0h0m2 0h0m1 0h0m1 0h0m2 0h0m1 0h0m1 0h0m1 0h0m2 0h0m1 0h0m6 0h0m3 0h0m2 0h0m5 0h0m19 0h0m1 0h0m-72 1h0m2 0h0m8 0h0m1 0h0m1 0h0m2 0h0m4 0h0m3 0h0m1 0h0m1 0h0m2 0h0m3 0h0m4 0h0m1 0h0m9 0h0m9 0h0m1 0h0m-54 1h0m3 0h0m9 0h0m9 0h0m2 0h0m2 0h0m8 0h0m1 0h0m14 0h0m20 0h0m-79 1h0m12 0h0m23 0h0m3 0h0m5 0h0m23 0h0m20 0h0m-78 1h0m5 0h0m18 0h0m5 0h0m18 0h0m2 0h0m27 0h0m2 0h0m-73 1h0m10 0h0m7 0h0m1 0h0m6 0h0m5 0h0m41 0h0m-66 1h0m2 0h0m3 0h0m1 0h0m1 0h0m13 0h0m3 0h0m2 0h0m2 0h0m12 0h0m7 0h0m15 0h0m15 0h0m-83 1h0m5 0h0m6 0h0m1 0h0m4 0h0m17 0h0m8 0h0m-35 1h0m2 0h0m2 0h0m7 0h0m1 0h0m12 0h0m41 0h0m-121 1h0m29 0h0m14 0h0m21 0h0m6 0h0m1 0h0m5 0h0m-23 1h0m1 0h0m2 0h0m5 0h0m4 0h0m3 0h0m4 0h0m9 0h0m-32 1h0m4 0h0m11 0h0m1 0h0m4 0h0m3 0h0m17 0h0m-55 1h0m7 0h0m13 0h0m12 0h0m7 0h0m55 0h0m1 0h0m-111 1h0m17 0h0m8 0h0m8 0h0m2 0h0m1 0h0m13 0h0m4 0h0m18 0h0m-47 1h0m9 0h0m4 0h0m1 0h0m3 0h0m4 0h0m3 0h0m6 0h0m-29 1h0m7 0h0m1 0h0m7 0h0m1 0h0m1 0h0m6 0h0m1 0h0m1 0h0m7 0h0m9 0h0m2 0h0m9 0h0m-78 1h0m17 0h0m4 0h0m11 0h0m5 0h0m2 0h0m4 0h0m6 0h0m2 0h0m1 0h0m5 0h0m3 0h0m19 0h0m33 0h0m-90 1h0m12 0h0m3 0h0m8 0h0m1 0h0m1 0h0m4 0h0m2 0h0m22 0h0m6 0h0m-51 1h0m5 0h0m6 0h0m2 0h0m6 0h0m33 0h0m-56 1h0m1 0h0m20 0h0m60 0h0m-109 1h0m25 0h0m4 0h0m14 0h0m3 0h0m36 0h0m2 0h0m2 0h0m-44 1h0m1 0h0m6 0h0m2 0h0m11 0h0m13 0h0m5 0h0m3 0h0m2 0h0m-54 1h0m8 0h0m3 0h0m1 0h0m3 0h0m1 0h0m11 0h0m5 0h0m18 0h0m22 0h0m7 0h0m-94 1h0m10 0h0m7 0h0m4 0h0m1 0h0m1 0h0m1 0h0m1 0h0m3 0h0m2 0h0m1 0h0m3 0h0m1 0h0m2 0h0m23 0h0m1 0h0m1 0h0m10 0h0m2 0h0m-78 1h0m19 0h0m1 0h0m12 0h0m8 0h0m21 0h0m17 0h0m17 0h0m-76 1h0m2 0h0m8 0h0m1 0h0m1 0h0m2 0h0m4 0h0m24 0h0m6 0h0m-74 1h0m21 0h0m6 0h0m7 0h0m2 0h0m5 0h0m2 0h0m1 0h0m6 0h0m10 0h0m4 0h0m-39 1h0m3 0h0m17 0h0m5 0h0m1 0h0m4 0h0m9 0h0m3 0h0m8 0h0m29 0h0m-88 1h0m2 0h0m3 0h0m2 0h0m3 0h0m12 0h0m6 0h0m19 0h0m1 0h0m-40 1h0m3 0h0m3 0h0m2 0h0m18 0h0m6 0h0m5 0h0m5 0h0m17 0h0m-65 1h0m8 0h0m9 0h0m1 0h0m15 0h0m7 0h0m6 0h0m3 0h0m12 0h0m2 0h0m-59 1h0m2 0h0m7 0h0m3 0h0m1 0h0m1 0h0m3 0h0m4 0h0m14 0h0m3 0h0m21 0h0m-81 1h0m2 0h0m11 0h0m4 0h0m5 0h0m1 0h0m5 0h0m19 0h0m8 0h0m4 0h0m2 0h0m-49 1h0m1 0h0m4 0h0m4 0h0m4 0h0m6 0h0m1 0h0m9 0h0m3 0h0m4 0h0m14 0h0m12 0h0m-73 1h0m8 0h0m12 0h0m9 0h0m3 0h0m2 0h0m5 0h0m15 0h0m8 0h0m1 0h0m3 0h0m2 0h0m4 0h0m13 0h0m-71 1h0m3 0h0m6 0h0m1 0h0m3 0h0m4 0h0m11 0h0m13 0h0m2 0h0m5 0h0m-63 1h0m9 0h0m6 0h0m2 0h0m1 0h0m4 0h0m3 0h0m9 0h0m1 0h0m6 0h0m14 0h0m3 0h0m4 0h0m42 0h0m-101 1h0m6 0h0m5 0h0m2 0h0m1 0h0m5 0h0m2 0h0m2 0h0m1 0h0m2 0h0m1 0h0m1 0h0m6 0h0m3 0h0m2 0h0m4 0h0m8 0h0m10 0h0m-60 1h0m1 0h0m16 0h0m1 0h0m1 0h0m9 0h0m2 0h0m1 0h0m4 0h0m5 0h0m19 0h0m-48 1h0m1 0h0m1 0h0m1 0h0m5 0h0m4 0h0m2 0h0m2 0h0m2 0h0m3 0h0m-35 1h0m27 0h0m1 0h0m2 0h0m1 0h0m11 0h0m2 0h0m1 0h0m10 0h0m10 0h0m-61 1h0m5 0h0m2 0h0m1 0h0m1 0h0m7 0h0m3 0h0m3 0h0m4 0h0m1 0h0m5 0h0m23 0h0m8 0h0m-56 1h0m2 0h0m6 0h0m5 0h0m1 0h0m2 0h0m3 0h0m1 0h0m1 0h0m1 0h0m1 0h0m2 0h0m9 0h0m4 0h0m1 0h0m1 0h0m-40 1h0m1 0h0m3 0h0m1 0h0m2 0h0m3 0h0m2 0h0m2 0h0m1 0h0m1 0h0m6 0h0m4 0h0m1 0h0m1 0h0m2 0h0m9 0h0m7 0h0m7 0h0m3 0h0m39 0h0m-107 1h0m12 0h0m10 0h0m2 0h0m1 0h0m1 0h0m1 0h0m3 0h0m6 0h0m2 0h0m10 0h0m8 0h0m6 0h0m6 0h0m37 0h0m-101 1h0m6 0h0m1 0h0m2 0h0m4 0h0m2 0h0m2 0h0m1 0h0m1 0h0m4 0h0m1 0h0m4 0h0m1 0h0m1 0h0m2 0h0m1 0h0m12 0h0m-45 1h0m10 0h0m1 0h0m2 0h0m1 0h0m1 0h0m1 0h0m3 0h0m2 0h0m3 0h0m1 0h0m1 0h0m5 0h0m5 0h0m6 0h0m8 0h0m2 0h0m3 0h0m46 0h0m-98 1h0m6 0h0m5 0h0m1 0h0m2 0h0m2 0h0m1 0h0m3 0h0m2 0h0m1 0h0m2 0h0m1 0h0m3 0h0m3 0h0m4 0h0m-40 1h0m12 0h0m3 0h0m1 0h0m1 0h0m1 0h0m1 0h0m1 0h0m1 0h0m1 0h0m2 0h0m4 0h0m1 0h0m2 0h0m1 0h0m2 0h0m2 0h0m-33 1h0m1 0h0m5 0h0m2 0h0m1 0h0m1 0h0m2 0h0m1 0h0m2 0h0m1 0h0m1 0h0m3 0h0m1 0h0m3 0h0m2 0h0m5 0h0m8 0h0m1 0h0m1 0h0m2 0h0m-41 1h0m3 0h0m2 0h0m2 0h0m1 0h0m5 0h0m1 0h0m2 0h0m1 0h0m1 0h0m1 0h0m4 0h0m3 0h0m3 0h0m2 0h0m11 0h0m1 0h0m12 0h0m39 0h0m-97 1h0m3 0h0m1 0h0m4 0h0m2 0h0m1 0h0m1 0h0m1 0h0m1 0h0m1 0h0m1 0h0m2 0h0m11 0h0m4 0h0m1 0h0m4 0h0m1 0h0m4 0h0m1 0h0m55 0h0m-102 1h0m6 0h0m3 0h0m4 0h0m1 0h0m1 0h0m3 0h0m1 0h0m1 0h0m2 0h0m1 0h0m1 0h0m1 0h0m2 0h0m1 0h0m1 0h0m2 0h0m3 0h0m11 0h0m3 0h0m14 0h0m36 0h0m3 0h0m1 0h0m-96 1h0m1 0h0m3 0h0m1 0h0m3 0h0m1 0h0m1 0h0m1 0h0m1 0h0m1 0h0m2 0h0m1 0h0m1 0h0m1 0h0m1 0h0m1 0h0m4 0h0m1 0h0m5 0h0m2 0h0m1 0h0m7 0h0m2 0h0m2 0h0m25 0h0m-84 1h0m5 0h0m9 0h0m3 0h0m3 0h0m4 0h0m1 0h0m1 0h0m1 0h0m1 0h0m3 0h0m1 0h0m1 0h0m1 0h0m2 0h0m2 0h0m1 0h0m2 0h0m2 0h0m3 0h0m1 0h0m1 0h0m4 0h0m9 0h0m1 0h0m47 0h0m3 0h0m-96 1h0m1 0h0m1 0h0m1 0h0m1 0h0m2 0h0m1 0h0m1 0h0m1 0h0m3 0h0m2 0h0m2 0h0m1 0h0m2 0h0m6 0h0m1 0h0m4 0h0m1 0h0m1 0h0m5 0h0m16 0h0m-74 1h0m25 0h0m1 0h0m1 0h0m1 0h0m1 0h0m1 0h0m1 0h0m1 0h0m1 0h0m1 0h0m3 0h0m3 0h0m1 0h0m1 0h0m1 0h0m1 0h0m1 0h0m7 0h0m9 0h0m10 0h0m41 0h0m1 0h0m-113 1h0m11 0h0m3 0h0m13 0h0m1 0h0m1 0h0m2 0h0m1 0h0m4 0h0m1 0h0m4 0h0m2 0h0m10 0h0m65 0h0m-112 1h0m8 0h0m11 0h0m2 0h0m2 0h0m1 0h0m1 0h0m1 0h0m3 0h0m3 0h0m3 0h0m3 0h0m4 0h0m1 0h0m4 0h0m1 0h0m6 0h0m-52 1h0m4 0h0m4 0h0m1 0h0m4 0h0m4 0h0m2 0h0m2 0h0m1 0h0m3 0h0m2 0h0m2 0h0m2 0h0m3 0h0m1 0h0m3 0h0m1 0h0m1 0h0m1 0h0m10 0h0m6 0h0m50 0h0m-117 1h0m16 0h0m5 0h0m3 0h0m1 0h0m4 0h0m3 0h0m2 0h0m3 0h0m4 0h0m2 0h0m4 0h0m4 0h0m3 0h0m5 0h0m18 0h0m1 0h0m46 0h0m-120 1h0m4 0h0m3 0h0m16 0h0m6 0h0m1 0h0m1 0h0m1 0h0m1 0h0m1 0h0m1 0h0m2 0h0m3 0h0m2 0h0m2 0h0m2 0h0m9 0h0m3 0h0m-47 1h0m1 0h0m8 0h0m1 0h0m2 0h0m3 0h0m6 0h0m1 0h0m4 0h0m1 0h0m2 0h0m1 0h0m1 0h0m4 0h0m-54 1h0m25 0h0m2 0h0m1 0h0m5 0h0m3 0h0m2 0h0m1 0h0m1 0h0m2 0h0m3 0h0m1 0h0m1 0h0m3 0h0m1 0h0m1 0h0m1 0h0m2 0h0m6 0h0m-32 1h0m2 0h0m1 0h0m1 0h0m1 0h0m2 0h0m5 0h0m2 0h0m3 0h0m1 0h0m7 0h0m7 0h0m64 0h0m-109 1h0m3 0h0m5 0h0m3 0h0m8 0h0m1 0h0m3 0h0m1 0h0m1 0h0m3 0h0m2 0h0m1 0h0m15 0h0m53 0h0m12 0h0m-113 1h0m13 0h0m1 0h0m3 0h0m1 0h0m3 0h0m3 0h0m2 0h0m2 0h0m1 0h0m6 0h0m3 0h0m6 0h0m65 0h0m3 0h0m-98 1h0m5 0h0m1 0h0m3 0h0m2 0h0m1 0h0m1 0h0m2 0h0m2 0h0m1 0h0m2 0h0m13 0h0m4 0h0m53 0h0m-105 1h0m1 0h0m5 0h0m13 0h0m4 0h0m7 0h0m11 0h0m6 0h0m66 0h0m7 0h0m-110 1h0m3 0h0m5 0h0m2 0h0m3 0h0m2 0h0m3 0h0m7 0h0m4 0h0m60 0h0m7 0h0m4 0h0m1 0h0m-123 1h0m11 0h0m1 0h0m8 0h0m1 0h0m7 0h0m2 0h0m2 0h0m4 0h0m1 0h0m3 0h0m4 0h0m1 0h0m13 0h0m61 0h0m4 0h0m-105 1h0m2 0h0m12 0h0m2 0h0m13 0h0m17 0h0m55 0h0m1 0h0m1 0h0m-121 1h0m16 0h0m3 0h0m4 0h0m4 0h0m2 0h0m2 0h0m2 0h0m83 0h0m3 0h0m1 0h0m-118 1h0m20 0h0m4 0h0m5 0h0m1 0h0m1 0h0m1 0h0m23 0h0m59 0h0m1 0h0m3 0h0m1 0h0m1 0h0m2 0h0m-97 1h0m1 0h0m1 0h0m14 0h0m9 0h0m5 0h0m54 0h0m6 0h0m5 0h0m2 0h0m-125 1h0m27 0h0m1 0h0m4 0h0m8 0h0m20 0h0m58 0h0m2 0h0m1 0h0m1 0h0m-119 1h0m22 0h0m4 0h0m3 0h0m4 0h0m80 0h0m1 0h0m4 0h0m1 0h0m2 0h0m4 0h0m2 0h0m-118 1h0m8 0h0m7 0h0m2 0h0m8 0h0m5 0h0m76 0h0m1 0h0m4 0h0m4 0h0m3 0h0m-104 1h0m9 0h0m1 0h0m1 0h0m11 0h0m74 0h0m1 0h0m2 0h0m-112 1h0m12 0h0m5 0h0m6 0h0m22 0h0m60 0h0m3 0h0m1 0h0m1 0h0m2 0h0m1 0h0m-126 1h0m8 0h0m1 0h0m8 0h0m8 0h0m6 0h0m8 0h0m8 0h0m71 0h0m8 0h0m1 0h0m1 0h0m-69 1h0m57 0h0m1 0h0m2 0h0m2 0h0m2 0h0m-58 1h0m57 0h0m4 0h0m-6 1h0m5 0h0m2 0h0m-14 1h0m5 0h0m2 0h0m1 0h0m7 0h0m3 0h0m-103 1h0m18 0h0m34 0h0m24 0h0m18 0h0m1 0h0m1 0h0m6 0h0m-118 1h0m107 0h0m3 0h0m1 0h0m4 0h0m-100 1h0m90 0h0m3 0h0m3 0h0m2 0h0m1 0h0m-90 1h0m8 0h0m73 0h0m2 0h0m1 0h0m7 0h0m-131 1h0m32 0h0m83 0h0m3 0h0m2 0h0m9 0h0m1 0h0m-6 1h0m2 0h0m1 0h0m2 0h0m1 0h0m1 0h0m1 0h0m-92 1h0m86 0h0m3 0h0m3 0h0m-138 1h0m34 0h0m-4 1h0m97 0h0m1 0h0m-111 1h0m37 0h0m79 0h0m0 1h0m-64 1h0m5 1h0m65 0h0m-114 1h0m24 0h0m82 0h0m3 0h0m1 0h0m-129 1h0m11 1h0m111 0h0m1 1h0m-2 1h0m4 0h0m3 0h0m-118 1h0m25 0h0m21 0h0m-59 2h0m19 3h0"/>
<path fill="none" stroke="#000" stroke-opacity="0.5" stroke-width="1.6" stroke-linecap="square" d="M463 321h0m-5 1h0m-9 1h0m-31 1h0m39 0h0m15 1h0m-4 1h0m-28 2h0m26 0h0m-32 1h0m5 0h0m61 0h0m-64 1h0m1 0h0m26 0h0m10 0h0m24 0h0m-40 1h0m3 0h0m8 0h0m18 0h0m1 0h0m4 0h0m-42 1h0m5 0h0m2 0h0m5 0h0m3 0h0m5 0h0m1 0h0m21 0h0m-61 1h0m29 0h0m3 0h0m1 0h0m1 0h0m8 0h0m1 0h0m19 0h0m4 0h0m2 0h0m-52 1h0m4 0h0m4 0h0m1 0h0m1 0h0m11 0h0m1 0h0m26 0h0m-59 1h0m4 0h0m7 0h0m2 0h0m3 0h0m1 0h0m1 0h0m1 0h0m3 0h0m5 0h0m10 0h0m2 0h0m17 0h0m2 0h0m3 0h0m-74 1h0m6 0h0m3 0h0m3 0h0m4 0h0m1 0h0m3 0h0m5 0h0m4 0h0m3 0h0m3 0h0m2 0h0m9 0h0m5 0h0m6 0h0m17 0h0m-67 1h0m5 0h0m10 0h0m3 0h0m1 0h0m1 0h0m3 0h0m2 0h0m1 0h0m2 0h0m3 0h0m2 0h0m2 0h0m3 0h0m4 0h0m4 0h0m1 0h0m24 0h0m-60 1h0m2 0h0m1 0h0m2 0h0m4 0h0m2 0h0m1 0h0m1 0h0m8 0h0m4 0h0m7 0h0m4 0h0m3 0h0m2 0h0m9 0h0m3 0h0m1 0h0m-59 1h0m1 0h0m3 0h0m3 0h0m3 0h0m1 0h0m3 0h0m3 0h0m2 0h0m1 0h0m2 0h0m2 0h0m1 0h0m2 0h0m1 0h0m2 0h0m4 0h0m2 0h0m3 0h0m8 0h0m5 0h0m13 0h0m-70 1h0m5 0h0m3 0h0m3 0h0m1 0h0m4 0h0m1 0h0m1 0h0m2 0h0m5 0h0m2 0h0m1 0h0m1 0h0m1 0h0m3 0h0m1 0h0m1 0h0m9 0h0m3 0h0m12 0h0m4 0h0m5 0h0m-79 1h0m7 0h0m7 0h0m2 0h0m1 0h0m3 0h0m1 0h0m1 0h0m2 0h0m1 0h0m2 0h0m1 0h0m2 0h0m1 0h0m2 0h0m1 0h0m2 0h0m4 0h0m2 0h0m1 0h0m3 0h0m3 0h0m9 0h0m13 0h0m-68 1h0m17 0h0m4 0h0m1 0h0m2 0h0m1 0h0m1 0h0m1 0h0m4 0h0m1 0h0m5 0h0m1 0h0m1 0h0m3 0h0m1 0h0m13 0h0m14 0h0m-92 1h0m2 0h0m24 0h0m10 0h0m5 0h0m4 0h0m1 0h0m8 0h0m6 0h0m2 0h0m3 0h0m2 0h0m2 0h0m4 0h0m2 0h0m9 0h0m7 0h0m1 0h0m1 0h0m1 0h0m-61 1h0m2 0h0m1 0h0m1 0h0m1 0h0m1 0h0m1 0h0m1 0h0m7 0h0m5 0h0m1 0h0m4 0h0m3 0h0m2 0h0m3 0h0m27 0h0m6 0h0m3 0h0m-74 1h0m9 0h0m1 0h0m5 0h0m1 0h0m2 0h0m1 0h0m1 0h0m2 0h0m1 0h0m1 0h0m1 0h0m4 0h0m1 0h0m1 0h0m3 0h0m1 0h0m10 0h0m6 0h0m4 0h0m10 0h0m3 0h0m-85 1h0m1 0h0m4 0h0m16 0h0m2 0h0m3 0h0m1 0h0m1 0h0m2 0h0m1 0h0m3 0h0m2 0h0m3 0h0m1 0h0m4 0h0m6 0h0m3 0h0m3 0h0m1 0h0m25 0h0m1 0h0m1 0h0m-75 1h0m17 0h0m2 0h0m2 0h0m2 0h0m4 0h0m1 0h0m1 0h0m2 0h0m1 0h0m1 0h0m2 0h0m11 0h0m3 0h0m1 0h0m-95 1h0m50 0h0m11 0h0m1 0h0m3 0h0m3 0h0m3 0h0m2 0h0m1 0h0m1 0h0m3 0h0m5 0h0m3 0h0m7 0h0m-35 1h0m1 0h0m1 0h0m2 0h0m3 0h0m4 0h0m10 0h0m3 0h0m18 0h0m-51 1h0m2 0h0m1 0h0m1 0h0m1 0h0m2 0h0m8 0h0m16 0h0m4 0h0m1 0h0m5 0h0m6 0h0m12 0h0m12 0h0m-92 1h0m21 0h0m4 0h0m1 0h0m7 0h0m7 0h0m1 0h0m5 0h0m8 0h0m2 0h0m8 0h0m4 0h0m18 0h0m4 0h0m-97 1h0m24 0h0m3 0h0m3 0h0m1 0h0m1 0h0m1 0h0m1 0h0m3 0h0m9 0h0m2 0h0m12 0h0m5 0h0m2 0h0m1 0h0m6 0h0m15 0h0m4 0h0m1 0h0m3 0h0m1 0h0m1 0h0m-73 1h0m1 0h0m14 0h0m4 0h0m3 0h0m4 0h0m6 0h0m3 0h0m3 0h0m8 0h0m-91 1h0m50 0h0m1 0h0m2 0h0m3 0h0m2 0h0m7 0h0m10 0h0m3 0h0m1 0h0m3 0h0m-42 1h0m20 0h0m4 0h0m-14 1h0m1 0h0m1 0h0m9 0h0m1 0h0m-23 1h0m11 0h0m2 0h0m8 0h0m2 0h0m17 0h0m5 0h0m-51 1h0m4 0h0m14 0h0m9 0h0m4 0h0m50 0h0m-112 1h0m41 0h0m11 0h0m5 0h0m3 0h0m9 0h0m45 0h0m-87 1h0m7 0h0m1 0h0m10 0h0m2 0h0m7 0h0m2 0h0m1 0h0m5 0h0m16 0h0m5 0h0m-47 1h0m2 0h0m5 0h0m6 0h0m18 0h0m17 0h0m2 0h0m28 0h0m2 0h0m-73 1h0m5 0h0m5 0h0m1 0h0m31 0h0m-69 1h0m20 0h0m12 0h0m6 0h0m11 0h0m2 0h0m1 0h0m1 0h0m5 0h0m-30 1h0m14 0h0m1 0h0m4 0h0m18 0h0m2 0h0m5 0h0m29 0h0m-79 1h0m10 0h0m4 0h0m6 0h0m1 0h0m28 0h0m3 0h0m12 0h0m-75 1h0m6 0h0m14 0h0m6 0h0m2 0h0m3 0h0m-38 1h0m20 0h0m4 0h0m3 0h0m9 0h0m1 0h0m21 0h0m5 0h0m2 0h0m28 0h0m-86 1h0m16 0h0m1 0h0m2 0h0m14 0h0m5 0h0m19 0h0m2 0h0m15 0h0m10 0h0m-82 1h0m5 0h0m5 0h0m1 0h0m2 0h0m17 0h0m2 0h0m6 0h0m7 0h0m1 0h0m13 0h0m-59 1h0m2 0h0m4 0h0m9 0h0m5 0h0m4 0h0m8 0h0m8 0h0m7 0h0m3 0h0m3 0h0m6 0h0m5 0h0m-66 1h0m21 0h0m16 0h0m5 0h0m14 0h0m5 0h0m1 0h0m-80 1h0m21 0h0m5 0h0m23 0h0m9 0h0m16 0h0m32 0h0m-114 1h0m35 0h0m4 0h0m3 0h0m1 0h0m4 0h0m1 0h0m3 0h0m14 0h0m2 0h0m5 0h0m9 0h0m-59 1h0m11 0h0m6 0h0m1 0h0m1 0h0m1 0h0m9 0h0m4 0h0m3 0h0m1 0h0m5 0h0m1 0h0m8 0h0m11 0h0m-59 1h0m7 0h0m3 0h0m3 0h0m3 0h0m2 0h0m2 0h0m3 0h0m2 0h0m5 0h0m9 0h0m3 0h0m11 0h0m28 0h0m-95 1h0m1 0h0m14 0h0m1 0h0m12 0h0m1 0h0m2 0h0m27 0h0m2 0h0m8 0h0m2 0h0m13 0h0m-81 1h0m20 0h0m7 0h0m2 0h0m1 0h0m1 0h0m16 0h0m1 0h0m4 0h0m10 0h0m1 0h0m15 0h0m-60 1h0m4 0h0m2 0h0m4 0h0m2 0h0m36 0h0m13 0h0m25 0h0m-88 1h0m5 0h0m1 0h0m2 0h0m1 0h0m2 0h0m2 0h0m3 0h0m7 0h0m24 0h0m5 0h0m4 0h0m24 0h0m1 0h0m5 0h0m-97 1h0m16 0h0m1 0h0m8 0h0m1 0h0m1 0h0m2 0h0m4 0h0m58 0h0m-89 1h0m5 0h0m6 0h0m5 0h0m2 0h0m11 0h0m1 0h0m5 0h0m15 0h0m15 0h0m-64 1h0m13 0h0m6 0h0m3 0h0m2 0h0m3 0h0m3 0h0m20 0h0m2 0h0m1 0h0m32 0h0m-92 1h0m5 0h0m8 0h0m3 0h0m3 0h0m2 0h0m1 0h0m8 0h0m2 0h0m14 0h0m13 0h0m1 0h0m4 0h0m7 0h0m29 0h0m-91 1h0m6 0h0m9 0h0m1 0h0m4 0h0m23 0h0m9 0h0m35 0h0m-93 1h0m4 0h0m6 0h0m8 0h0m4 0h0m3 0h0m1 0h0m6 0h0m19 0h0m21 0h0m25 0h0m-104 1h0m14 0h0m12 0h0m4 0h0m9 0h0m1 0h0m23 0h0m15 0h0m35 0h0m-128 1h0m19 0h0m7 0h0m4 0h0m2 0h0m2 0h0m4 0h0m1 0h0m4 0h0m1 0h0m1 0h0m14 0h0m10 0h0m4 0h0m2 0h0m2 0h0m50 0h0m-105 1h0m9 0h0m3 0h0m2 0h0m9 0h0m3 0h0m8 0h0m9 0h0m3 0h0m4 0h0m16 0h0m29 0h0m-90 1h0m1 0h0m3 0h0m1 0h0m5 0h0m1 0h0m2 0h0m1 0h0m5 0h0m2 0h0m1 0h0m4 0h0m67 0h0m-93 1h0m1 0h0m5 0h0m1 0h0m1 0h0m2 0h0m2 0h0m2 0h0m4 0h0m7 0h0m7 0h0m9 0h0m4 0h0m-57 1h0m9 0h0m1 0h0m6 0h0m1 0h0m2 0h0m2 0h0m2 0h0m6 0h0m1 0h0m1 0h0m3 0h0m2 0h0m3 0h0m9 0h0m8 0h0m2 0h0m55 0h0m-125 1h0m19 0h0m5 0h0m1 0h0m2 0h0m6 0h0m6 0h0m1 0h0m1 0h0m5 0h0m4 0h0m4 0h0m29 0h0m22 0h0m9 0h0m-96 1h0m3 0h0m2 0h0m3 0h0m2 0h0m3 0h0m7 0h0m1 0h0m1 0h0m1 0h0m2 0h0m2 0h0m3 0h0m1 0h0m2 0h0m-25 1h0m1 0h0m3 0h0m2 0h0m1 0h0m1 0h0m1 0h0m8 0h0m3 0h0m4 0h0m1 0h0m1 0h0m16 0h0m1 0h0m-54 1h0m5 0h0m6 0h0m1 0h0m5 0h0m3 0h0m7 0h0m1 0h0m2 0h0m2 0h0m1 0h0m1 0h0m1 0h0m2 0h0m19 0h0m-73 1h0m29 0h0m1 0h0m2 0h0m1 0h0m1 0h0m3 0h0m1 0h0m1 0h0m3 0h0m1 0h0m2 0h0m3 0h0m1 0h0m3 0h0m7 0h0m2 0h0m18 0h0m1 0h0m-62 1h0m3 0h0m1 0h0m6 0h0m1 0h0m1 0h0m2 0h0m1 0h0m4 0h0m1 0h0m3 0h0m2 0h0m3 0h0m1 0h0m3 0h0m15 0h0m3 0h0m4 0h0m-61 1h0m1 0h0m8 0h0m4 0h0m2 0h0m3 0h0m1 0h0m4 0h0m2 0h0m1 0h0m1 0h0m1 0h0m1 0h0m3 0h0m1 0h0m1 0h0m1 0h0m1 0h0m1 0h0m12 0h0m1 0h0m64 0h0m-119 1h0m6 0h0m9 0h0m1 0h0m4 0h0m2 0h0m2 0h0m1 0h0m1 0h0m4 0h0m1 0h0m1 0h0m1 0h0m1 0h0m2 0h0m1 0h0m3 0h0m3 0h0m1 0h0m7 0h0m1 0h0m10 0h0m48 0h0m-121 1h0m19 0h0m4 0h0m3 0h0m1 0h0m5 0h0m2 0h0m1 0h0m3 0h0m1 0h0m2 0h0m1 0h0m1 0h0m1 0h0m3 0h0m1 0h0m3 0h0m4 0h0m5 0h0m2 0h0m8 0h0m3 0h0m-41 1h0m2 0h0m1 0h0m1 0h0m1 0h0m1 0h0m1 0h0m1 0h0m1 0h0m2 0h0m2 0h0m1 0h0m1 0h0m1 0h0m2 0h0m2 0h0m5 0h0m1 0h0m4 0h0m5 0h0m9 0h0m-70 1h0m13 0h0m1 0h0m6 0h0m2 0h0m4 0h0m4 0h0m2 0h0m1 0h0m3 0h0m1 0h0m1 0h0m1 0h0m1 0h0m3 0h0m3 0h0m14 0h0m-38 1h0m1 0h0m4 0h0m1 0h0m1 0h0m1 0h0m3 0h0m2 0h0m1 0h0m2 0h0m1 0h0m1 0h0m3 0h0m7 0h0m6 0h0m20 0h0m45 0h0m-104 1h0m4 0h0m1 0h0m3 0h0m1 0h0m1 0h0m1 0h0m1 0h0m7 0h0m1 0h0m2 0h0m1 0h0m1 0h0m3 0h0m1 0h0m1 0h0m5 0h0m2 0h0m-37 1h0m3 0h0m2 0h0m1 0h0m3 0h0m2 0h0m2 0h0m2 0h0m1 0h0m1 0h0m1 0h0m1 0h0m2 0h0m2 0h0m8 0h0m2 0h0m5 0h0m20 0h0m-53 1h0m2 0h0m5 0h0m1 0h0m3 0h0m2 0h0m4 0h0m2 0h0m3 0h0m1 0h0m1 0h0m1 0h0m2 0h0m9 0h0m13 0h0m49 0h0m-121 1h0m16 0h0m10 0h0m3 0h0m1 0h0m1 0h0m4 0h0m1 0h0m3 0h0m2 0h0m1 0h0m2 0h0m7 0h0m10 0h0m-46 1h0m6 0h0m9 0h0m2 0h0m1 0h0m2 0h0m1 0h0m1 0h0m6 0h0m4 0h0m1 0h0m1 0h0m3 0h0m2 0h0m7 0h0m2 0h0m3 0h0m48 0h0m-91 1h0m1 0h0m3 0h0m1 0h0m3 0h0m3 0h0m1 0h0m2 0h0m1 0h0m2 0h0m3 0h0m1 0h0m2 0h0m3 0h0m1 0h0m1 0h0m1 0h0m7 0h0m5 0h0m2 0h0m2 0h0m-57 1h0m5 0h0m7 0h0m2 0h0m1 0h0m1 0h0m1 0h0m1 0h0m1 0h0m1 0h0m3 0h0m1 0h0m1 0h0m1 0h0m3 0h0m1 0h0m1 0h0m1 0h0m1 0h0m3 0h0m1 0h0m3 0h0m10 0h0m-41 1h0m6 0h0m1 0h0m2 0h0m2 0h0m2 0h0m1 0h0m1 0h0m2 0h0m1 0h0m1 0h0m2 0h0m13 0h0m1 0h0m8 0h0m58 0h0m-100 1h0m1 0h0m2 0h0m1 0h0m1 0h0m2 0h0m1 0h0m1 0h0m2 0h0m1 0h0m1 0h0m1 0h0m2 0h0m1 0h0m1 0h0m1 0h0m1 0h0m6 0h0m2 0h0m5 0h0m1 0h0m7 0h0m56 0h0m-120 1h0m22 0h0m1 0h0m8 0h0m4 0h0m2 0h0m4 0h0m3 0h0m3 0h0m1 0h0m5 0h0m3 0h0m4 0h0m12 0h0m51 0h0m5 0h0m-111 1h0m3 0h0m3 0h0m2 0h0m9 0h0m1 0h0m5 0h0m2 0h0m5 0h0m4 0h0m65 0h0m1 0h0m13 0h0m-120 1h0m6 0h0m4 0h0m5 0h0m4 0h0m1 0h0m1 0h0m1 0h0m3 0h0m3 0h0m1 0h0m6 0h0m5 0h0m7 0h0m5 0h0m54 0h0m6 0h0m-108 1h0m8 0h0m3 0h0m1 0h0m1 0h0m3 0h0m3 0h0m1 0h0m7 0h0m1 0h0m2 0h0m1 0h0m2 0h0m1 0h0m3 0h0m12 0h0m6 0h0m46 0h0m2 0h0m7 0h0m-109 1h0m8 0h0m3 0h0m6 0h0m3 0h0m17 0h0m4 0h0m60 0h0m3 0h0m6 0h0m-119 1h0m5 0h0m1 0h0m6 0h0m11 0h0m5 0h0m2 0h0m1 0h0m5 0h0m2 0h0m4 0h0m2 0h0m6 0h0m59 0h0m6 0h0m3 0h0m3 0h0m-108 1h0m3 0h0m2 0h0m3 0h0m3 0h0m1 0h0m2 0h0m7 0h0m4 0h0m7 0h0m6 0h0m62 0h0m-94 1h0m16 0h0m10 0h0m8 0h0m59 0h0m3 0h0m4 0h0m-109 1h0m8 0h0m5 0h0m3 0h0m2 0h0m4 0h0m3 0h0m22 0h0m44 0h0m10 0h0m3 0h0m1 0h0m2 0h0m-118 1h0m13 0h0m7 0h0m4 0h0m3 0h0m3 0h0m10 0h0m8 0h0m4 0h0m61 0h0m1 0h0m3 0h0m1 0h0m1 0h0m-97 1h0m1 0h0m1 0h0m10 0h0m83 0h0m3 0h0m-113 1h0m9 0h0m1 0h0m4 0h0m4 0h0m3 0h0m81 0h0m2 0h0m2 0h0m1 0h0m3 0h0m2 0h0m2 0h0m1 0h0m1 0h0m-102 1h0m5 0h0m4 0h0m9 0h0m67 0h0m4 0h0m3 0h0m3 0h0m6 0h0m1 0h0m-102 1h0m85 0h0m4 0h0m2 0h0m3 0h0m1 0h0m2 0h0m-84 1h0m77 0h0m2 0h0m3 0h0m1 0h0m1 0h0m1 0h0m2 0h0m-119 1h0m28 0h0m4 0h0m74 0h0m7 0h0m-100 1h0m9 0h0m37 0h0m49 0h0m2 0h0m1 0h0m1 0h0m3 0h0m3 0h0m1 0h0m-89 1h0m76 0h0m7 0h0m2 0h0m-91 1h0m87 0h0m2 0h0m1 0h0m1 0h0m2 0h0m3 0h0m1 0h0m-92 1h0m12 0h0m6 0h0m59 0h0m8 0h0m6 0h0m-122 1h0m27 0h0m84 0h0m3 0h0m3 0h0m5 0h0m1 0h0m-137 1h0m47 0h0m3 0h0m74 0h0m3 0h0m1 0h0m2 0h0m9 0h0m-121 1h0m108 0h0m2 0h0m4 0h0m3 0h0m-106 1h0m5 0h0m92 0h0m3 0h0m2 0h0m1 0h0m2 0h0m2 0h0m-9 1h0m1 0h0m5 0h0m-10 2h0m3 0h0m1 0h0m1 0h0m1 0h0m4 0h0m-110 1h0m106 0h0m1 0h0m1 0h0m3 0h0m-113 1h0m18 0h0m87 0h0m3 0h0m2 0h0m-95 1h0m-2 3h0m10 1h0m86 0h0m6 1h0m-2 1h0m1 0h0m-5 2h0m-98 2h0m4 0h0m-19 1h0m5 1h0m38 0h0m-23 2h0"/>
<path fill="none" stroke="#000" stroke-opacity="0.5" stroke-width="1.6" stroke-linecap="square" d="M468 321h0m-38 1h0m-23 1h0m19 0h0m42 2h0m-5 2h0m-45 1h0m36 0h0m3 0h0m16 0h0m27 0h0m-72 1h0m5 0h0m1 0h0m2 0h0m19 0h0m39 1h0m3 0h0m-61 1h0m13 0h0m18 0h0m2 0h0m1 0h0m20 0h0m3 0h0m1 0h0m-58 1h0m10 0h0m15 0h0m-14 1h0m11 0h0m6 0h0m5 0h0m5 0h0m5 0h0m9 0h0m-54 1h0m1 0h0m6 0h0m5 0h0m3 0h0m1 0h0m13 0h0m4 0h0m-38 1h0m10 0h0m7 0h0m5 0h0m5 0h0m7 0h0m2 0h0m2 0h0m8 0h0m1 0h0m14 0h0m1 0h0m4 0h0m-71 1h0m13 0h0m1 0h0m19 0h0m1 0h0m4 0h0m8 0h0m3 0h0m14 0h0m1 0h0m3 0h0m3 0h0m1 0h0m-67 1h0m2 0h0m1 0h0m3 0h0m1 0h0m9 0h0m1 0h0m1 0h0m3 0h0m1 0h0m1 0h0m6 0h0m1 0h0m2 0h0m6 0h0m3 0h0m7 0h0m6 0h0m14 0h0m2 0h0m-78 1h0m10 0h0m11 0h0m1 0h0m2 0h0m1 0h0m1 0h0m3 0h0m3 0h0m2 0h0m3 0h0m2 0h0m2 0h0m3 0h0m3 0h0m4 0h0m4 0h0m2 0h0m3 0h0m13 0h0m3 0h0m1 0h0m-72 1h0m9 0h0m8 0h0m2 0h0m1 0h0m1 0h0m1 0h0m1 0h0m2 0h0m1 0h0m3 0h0m1 0h0m3 0h0m4 0h0m1 0h0m6 0h0m1 0h0m4 0h0m20 0h0m-62 1h0m2 0h0m3 0h0m1 0h0m1 0h0m2 0h0m6 0h0m1 0h0m1 0h0m1 0h0m2 0h0m6 0h0m2 0h0m2 0h0m9 0h0m2 0h0m3 0h0m7 0h0m7 0h0m-58 1h0m13 0h0m2 0h0m2 0h0m2 0h0m1 0h0m1 0h0m2 0h0m1 0h0m1 0h0m3 0h0m5 0h0m2 0h0m3 0h0m1 0h0m2 0h0m6 0h0m8 0h0m2 0h0m7 0h0m-74 1h0m1 0h0m13 0h0m1 0h0m1 0h0m2 0h0m1 0h0m1 0h0m3 0h0m2 0h0m3 0h0m1 0h0m1 0h0m3 0h0m4 0h0m2 0h0m1 0h0m1 0h0m7 0h0m11 0h0m-59 1h0m6 0h0m2 0h0m1 0h0m3 0h0m1 0h0m1 0h0m4 0h0m1 0h0m4 0h0m1 0h0m2 0h0m1 0h0m2 0h0m1 0h0m1 0h0m1 0h0m1 0h0m2 0h0m1 0h0m1 0h0m1 0h0m6 0h0m1 0h0m9 0h0m3 0h0m10 0h0m3 0h0m1 0h0m1 0h0m1 0h0m-66 1h0m3 0h0m1 0h0m3 0h0m6 0h0m7 0h0m1 0h0m1 0h0m4 0h0m3 0h0m3 0h0m1 0h0m5 0h0m9 0h0m4 0h0m-56 1h0m11 0h0m2 0h0m4 0h0m1 0h0m1 0h0m1 0h0m1 0h0m1 0h0m4 0h0m1 0h0m1 0h0m1 0h0m4 0h0m1 0h0m1 0h0m5 0h0m3 0h0m8 0h0m24 0h0m-63 1h0m4 0h0m2 0h0m2 0h0m1 0h0m1 0h0m1 0h0m1 0h0m2 0h0m1 0h0m1 0h0m2 0h0m5 0h0m3 0h0m2 0h0m5 0h0m1 0h0m2 0h0m3 0h0m12 0h0m1 0h0m-57 1h0m5 0h0m5 0h0m1 0h0m2 0h0m1 0h0m1 0h0m1 0h0m3 0h0m1 0h0m1 0h0m1 0h0m6 0h0m2 0h0m2 0h0m6 0h0m10 0h0m13 0h0m4 0h0m1 0h0m4 0h0m2 0h0m-80 1h0m12 0h0m10 0h0m5 0h0m1 0h0m4 0h0m1 0h0m2 0h0m1 0h0m2 0h0m1 0h0m5 0h0m4 0h0m18 0h0m-50 1h0m1 0h0m1 0h0m2 0h0m1 0h0m1 0h0m1 0h0m6 0h0m2 0h0m1 0h0m1 0h0m2 0h0m4 0h0m5 0h0m28 0h0m-73 1h0m5 0h0m4 0h0m4 0h0m1 0h0m2 0h0m6 0h0m2 0h0m1 0h0m5 0h0m2 0h0m3 0h0m11 0h0m10 0h0m2 0h0m15 0h0m-77 1h0m6 0h0m8 0h0m3 0h0m7 0h0m5 0h0m2 0h0m5 0h0m36 0h0m3 0h0m-102 1h0m22 0h0m11 0h0m4 0h0m1 0h0m5 0h0m7 0h0m5 0h0m4 0h0m8 0h0m5 0h0m6 0h0m1 0h0m18 0h0m4 0h0m-71 1h0m4 0h0m3 0h0m8 0h0m9 0h0m12 0h0m-68 1h0m32 0h0m2 0h0m4 0h0m4 0h0m1 0h0m3 0h0m6 0h0m3 0h0m31 0h0m22 0h0m-113 1h0m50 0h0m6 0h0m9 0h0m21 0h0m-66 1h0m17 0h0m1 0h0m6 0h0m6 0h0m9 0h0m13 0h0m3 0h0m35 0h0m-96 1h0m3 0h0m23 0h0m2 0h0m10 0h0m1 0h0m21 0h0m15 0h0m-42 1h0m1 0h0m1 0h0m4 0h0m17 0h0m4 0h0m3 0h0m32 0h0m7 0h0m-114 1h0m35 0h0m4 0h0m5 0h0m10 0h0m2 0h0m4 0h0m13 0h0m34 0h0m-78 1h0m12 0h0m58 0h0m-73 1h0m13 0h0m3 0h0m2 0h0m2 0h0m1 0h0m6 0h0m1 0h0m23 0h0m22 0h0m-66 1h0m15 0h0m7 0h0m1 0h0m7 0h0m-32 1h0m15 0h0m17 0h0m1 0h0m37 0h0m-68 1h0m12 0h0m1 0h0m3 0h0m1 0h0m1 0h0m9 0h0m1 0h0m12 0h0m1 0h0m2 0h0m3 0h0m25 0h0m-78 1h0m1 0h0m3 0h0m8 0h0m1 0h0m20 0h0m10 0h0m9 0h0m-59 1h0m18 0h0m5 0h0m10 0h0m30 0h0m-45 1h0m2 0h0m5 0h0m10 0h0m5 0h0m1 0h0m4 0h0m6 0h0m3 0h0m6 0h0m22 0h0m-54 1h0m7 0h0m2 0h0m2 0h0m5 0h0m17 0h0m-55 1h0m13 0h0m2 0h0m5 0h0m3 0h0m7 0h0m6 0h0m11 0h0m4 0h0m11 0h0m25 0h0m-76 1h0m7 0h0m3 0h0m2 0h0m11 0h0m24 0h0m-52 1h0m6 0h0m3 0h0m2 0h0m3 0h0m4 0h0m3 0h0m16 0h0m11 0h0m36 0h0m-102 1h0m21 0h0m4 0h0m4 0h0m18 0h0m22 0h0m4 0h0m-74 1h0m21 0h0m3 0h0m3 0h0m2 0h0m42 0h0m-70 1h0m1 0h0m1 0h0m11 0h0m7 0h0m6 0h0m7 0h0m4 0h0m3 0h0m4 0h0m5 0h0m2 0h0m2 0h0m11 0h0m1 0h0m7 0h0m-77 1h0m13 0h0m13 0h0m8 0h0m3 0h0m1 0h0m4 0h0m17 0h0m3 0h0m3 0h0m1 0h0m14 0h0m-70 1h0m2 0h0m3 0h0m16 0h0m1 0h0m1 0h0m1 0h0m3 0h0m1 0h0m2 0h0m10 0h0m8 0h0m42 0h0m4 0h0m-109 1h0m1 0h0m3 0h0m9 0h0m14 0h0m1 0h0m8 0h0m1 0h0m13 0h0m18 0h0m2 0h0m10 0h0m-98 1h0m43 0h0m2 0h0m1 0h0m1 0h0m5 0h0m2 0h0m2 0h0m5 0h0m1 0h0m4 0h0m6 0h0m7 0h0m14 0h0m-79 1h0m20 0h0m12 0h0m5 0h0m5 0h0m2 0h0m4 0h0m31 0h0m1 0h0m-64 1h0m2 0h0m9 0h0m12 0h0m2 0h0m6 0h0m2 0h0m7 0h0m3 0h0m1 0h0m8 0h0m2 0h0m2 0h0m-45 1h0m1 0h0m3 0h0m4 0h0m8 0h0m1 0h0m2 0h0m1 0h0m7 0h0m11 0h0m-44 1h0m4 0h0m1 0h0m2 0h0m5 0h0m4 0h0m1 0h0m7 0h0m2 0h0m14 0h0m-42 1h0m3 0h0m2 0h0m5 0h0m1 0h0m3 0h0m1 0h0m3 0h0m1 0h0m15 0h0m11 0h0m8 0h0m6 0h0m1 0h0m-57 1h0m3 0h0m4 0h0m2 0h0m10 0h0m5 0h0m6 0h0m16 0h0m7 0h0m1 0h0m37 0h0m2 0h0m1 0h0m-93 1h0m1 0h0m2 0h0m1 0h0m3 0h0m3 0h0m2 0h0m13 0h0m1 0h0m3 0h0m2 0h0m10 0h0m-41 1h0m20 0h0m2 0h0m6 0h0m15 0h0m9 0h0m6 0h0m-94 1h0m28 0h0m12 0h0m2 0h0m1 0h0m2 0h0m1 0h0m1 0h0m3 0h0m5 0h0m6 0h0m4 0h0m7 0h0m3 0h0m1 0h0m14 0h0m-57 1h0m2 0h0m1 0h0m2 0h0m2 0h0m4 0h0m7 0h0m2 0h0m6 0h0m9 0h0m4 0h0m9 0h0m-56 1h0m9 0h0m2 0h0m4 0h0m1 0h0m1 0h0m3 0h0m1 0h0m3 0h0m3 0h0m1 0h0m5 0h0m12 0h0m5 0h0m8 0h0m2 0h0m37 0h0m-95 1h0m1 0h0m3 0h0m4 0h0m2 0h0m12 0h0m1 0h0m1 0h0m2 0h0m4 0h0m1 0h0m11 0h0m4 0h0m4 0h0m51 0h0m-98 1h0m1 0h0m2 0h0m2 0h0m1 0h0m3 0h0m1 0h0m1 0h0m1 0h0m1 0h0m1 0h0m1 0h0m2 0h0m1 0h0m2 0h0m6 0h0m1 0h0m1 0h0m3 0h0m25 0h0m41 0h0m-97 1h0m1 0h0m7 0h0m2 0h0m1 0h0m2 0h0m1 0h0m5 0h0m1 0h0m3 0h0m4 0h0m4 0h0m6 0h0m9 0h0m16 0h0m-64 1h0m6 0h0m6 0h0m1 0h0m3 0h0m9 0h0m6 0h0m11 0h0m2 0h0m1 0h0m1 0h0m3 0h0m2 0h0m-62 1h0m10 0h0m5 0h0m1 0h0m4 0h0m1 0h0m1 0h0m3 0h0m7 0h0m1 0h0m4 0h0m13 0h0m6 0h0m1 0h0m-59 1h0m5 0h0m2 0h0m4 0h0m5 0h0m1 0h0m2 0h0m1 0h0m2 0h0m2 0h0m2 0h0m2 0h0m2 0h0m3 0h0m1 0h0m4 0h0m2 0h0m1 0h0m1 0h0m3 0h0m6 0h0m7 0h0m-48 1h0m4 0h0m3 0h0m2 0h0m1 0h0m5 0h0m2 0h0m2 0h0m1 0h0m1 0h0m3 0h0m6 0h0m2 0h0m3 0h0m12 0h0m9 0h0m42 0h0m-105 1h0m9 0h0m4 0h0m1 0h0m1 0h0m2 0h0m4 0h0m1 0h0m1 0h0m1 0h0m1 0h0m2 0h0m1 0h0m2 0h0m1 0h0m19 0h0m-50 1h0m8 0h0m6 0h0m5 0h0m1 0h0m1 0h0m2 0h0m6 0h0m2 0h0m2 0h0m2 0h0m1 0h0m3 0h0m4 0h0m7 0h0m4 0h0m9 0h0m41 0h0m-98 1h0m4 0h0m4 0h0m1 0h0m3 0h0m2 0h0m1 0h0m1 0h0m2 0h0m1 0h0m2 0h0m1 0h0m4 0h0m2 0h0m5 0h0m6 0h0m4 0h0m4 0h0m38 0h0m7 0h0m-109 1h0m18 0h0m4 0h0m4 0h0m1 0h0m3 0h0m1 0h0m2 0h0m1 0h0m2 0h0m1 0h0m3 0h0m5 0h0m3 0h0m1 0h0m1 0h0m1 0h0m64 0h0m-100 1h0m7 0h0m2 0h0m1 0h0m5 0h0m1 0h0m1 0h0m1 0h0m1 0h0m1 0h0m1 0h0m1 0h0m2 0h0m1 0h0m1 0h0m3 0h0m1 0h0m2 0h0m5 0h0m1 0h0m63 0h0m4 0h0m-121 1h0m16 0h0m8 0h0m5 0h0m1 0h0m1 0h0m1 0h0m1 0h0m3 0h0m1 0h0m1 0h0m1 0h0m1 0h0m2 0h0m1 0h0m5 0h0m5 0h0m4 0h0m2 0h0m2 0h0m-47 1h0m7 0h0m5 0h0m1 0h0m1 0h0m2 0h0m1 0h0m1 0h0m1 0h0m1 0h0m1 0h0m1 0h0m2 0h0m1 0h0m3 0h0m1 0h0m1 0h0m2 0h0m15 0h0m8 0h0m48 0h0m-103 1h0m3 0h0m2 0h0m1 0h0m2 0h0m1 0h0m1 0h0m1 0h0m1 0h0m1 0h0m1 0h0m2 0h0m3 0h0m2 0h0m1 0h0m1 0h0m5 0h0m2 0h0m2 0h0m2 0h0m10 0h0m3 0h0m13 0h0m43 0h0m-100 1h0m1 0h0m1 0h0m1 0h0m5 0h0m1 0h0m2 0h0m2 0h0m1 0h0m1 0h0m1 0h0m1 0h0m1 0h0m2 0h0m2 0h0m2 0h0m4 0h0m2 0h0m4 0h0m6 0h0m1 0h0m18 0h0m-68 1h0m5 0h0m2 0h0m8 0h0m1 0h0m4 0h0m2 0h0m2 0h0m1 0h0m2 0h0m1 0h0m1 0h0m1 0h0m1 0h0m1 0h0m1 0h0m11 0h0m1 0h0m-56 1h0m19 0h0m4 0h0m2 0h0m4 0h0m1 0h0m1 0h0m1 0h0m2 0h0m1 0h0m1 0h0m1 0h0m1 0h0m2 0h0m1 0h0m1 0h0m3 0h0m1 0h0m1 0h0m1 0h0m1 0h0m2 0h0m7 0h0m4 0h0m56 0h0m-120 1h0m18 0h0m5 0h0m3 0h0m1 0h0m2 0h0m3 0h0m3 0h0m6 0h0m1 0h0m5 0h0m3 0h0m1 0h0m15 0h0m49 0h0m-90 1h0m5 0h0m4 0h0m1 0h0m1 0h0m1 0h0m2 0h0m1 0h0m1 0h0m1 0h0m2 0h0m4 0h0m4 0h0m2 0h0m5 0h0m2 0h0m5 0h0m1 0h0m14 0h0m-59 1h0m2 0h0m1 0h0m3 0h0m2 0h0m2 0h0m2 0h0m1 0h0m1 0h0m2 0h0m1 0h0m1 0h0m5 0h0m4 0h0m5 0h0m2 0h0m3 0h0m2 0h0m7 0h0m47 0h0m-99 1h0m3 0h0m1 0h0m3 0h0m4 0h0m4 0h0m1 0h0m1 0h0m3 0h0m1 0h0m3 0h0m1 0h0m1 0h0m3 0h0m1 0h0m3 0h0m7 0h0m4 0h0m63 0h0m-98 1h0m2 0h0m2 0h0m5 0h0m4 0h0m1 0h0m2 0h0m3 0h0m4 0h0m2 0h0m5 0h0m15 0h0m45 0h0m6 0h0m-113 1h0m16 0h0m4 0h0m2 0h0m2 0h0m1 0h0m7 0h0m1 0h0m1 0h0m2 0h0m2 0h0m3 0h0m7 0h0m7 0h0m47 0h0m-85 1h0m2 0h0m3 0h0m9 0h0m3 0h0m1 0h0m1 0h0m8 0h0m4 0h0m12 0h0m1 0h0m4 0h0m48 0h0m2 0h0m-117 1h0m1 0h0m9 0h0m4 0h0m1 0h0m9 0h0m1 0h0m5 0h0m2 0h0m3 0h0m1 0h0m1 0h0m21 0h0m2 0h0m58 0h0m4 0h0m-115 1h0m14 0h0m2 0h0m1 0h0m2 0h0m6 0h0m3 0h0m1 0h0m6 0h0m3 0h0m3 0h0m1 0h0m61 0h0m1 0h0m1 0h0m5 0h0m-104 1h0m2 0h0m7 0h0m7 0h0m13 0h0m66 0h0m4 0h0m-100 1h0m8 0h0m5 0h0m4 0h0m2 0h0m1 0h0m1 0h0m3 0h0m1 0h0m3 0h0m15 0h0m55 0h0m2 0h0m7 0h0m-114 1h0m6 0h0m6 0h0m14 0h0m7 0h0m6 0h0m34 0h0m-65 1h0m5 0h0m2 0h0m4 0h0m1 0h0m2 0h0m7 0h0m9 0h0m68 0h0m1 0h0m1 0h0m1 0h0m1 0h0m1 0h0m1 0h0m3 0h0m-115 1h0m3 0h0m9 0h0m9 0h0m1 0h0m5 0h0m15 0h0m2 0h0m64 0h0m3 0h0m-113 1h0m11 0h0m3 0h0m3 0h0m3 0h0m1 0h0m3 0h0m5 0h0m1 0h0m11 0h0m22 0h0m43 0h0m1 0h0m1 0h0m6 0h0m5 0h0m-108 1h0m1 0h0m4 0h0m3 0h0m1 0h0m7 0h0m11 0h0m10 0h0m36 0h0m24 0h0m1 0h0m4 0h0m1 0h0m1 0h0m2 0h0m-118 1h0m18 0h0m6 0h0m2 0h0m3 0h0m77 0h0m3 0h0m3 0h0m1 0h0m3 0h0m2 0h0m1 0h0m-135 1h0m125 0h0m2 0h0m1 0h0m6 0h0m-112 1h0m13 0h0m3 0h0m1 0h0m2 0h0m16 0h0m71 0h0m1 0h0m3 0h0m1 0h0m-108 1h0m12 0h0m3 0h0m86 0h0m1 0h0m2 0h0m1 0h0m-6 1h0m2 0h0m3 0h0m1 0h0m2 0h0m-11 1h0m8 0h0m-77 1h0m74 0h0m1 0h0m1 0h0m1 0h0m2 0h0m2 0h0m1 0h0m2 0h0m-122 1h0m26 0h0m11 0h0m73 0h0m2 0h0m1 0h0m1 0h0m1 0h0m2 0h0m3 0h0m2 0h0m-116 1h0m109 0h0m1 0h0m1 0h0m1 0h0m1 0h0m1 0h0m-118 1h0m2 0h0m107 0h0m4 0h0m1 0h0m4 0h0m-88 1h0m82 0h0m1 0h0m1 0h0m1 0h0m1 0h0m-130 1h0m44 0h0m76 0h0m2 0h0m1 0h0m1 0h0m1 0h0m3 0h0m8 0h0m-9 1h0m1 0h0m3 0h0m-96 1h0m16 0h0m79 0h0m2 0h0m2 0h0m-120 1h0m2 0h0m108 0h0m1 0h0m1 0h0m2 0h0m2 0h0m-92 1h0m90 0h0m4 0h0m-12 1h0m6 0h0m2 0h0m-92 1h0m91 0h0m-5 2h0m2 0h0m-6 1h0m2 0h0m2 1h0m7 1h0m5 0h0m-105 1h0m98 0h0m-91 1h0m-8 1h0m19 1h0m80 0h0m3 0h0m-98 4h0m-10 1h0m21 1h0"/>
<path fill="none" stroke="#000" stroke-opacity="0.5" stroke-width="1.6" stroke-linecap="square" d="M457 314h0m8 2h0m1 1h0m-27 6h0m0 2h0m17 0h0m7 0h0m-17 1h0m34 0h0m-42 1h0m59 0h0m-53 2h0m3 0h0m1 0h0m6 0h0m8 0h0m16 0h0m20 0h0m-78 1h0m14 0h0m10 0h0m15 0h0m-11 1h0m9 0h0m3 0h0m3 0h0m2 0h0m1 0h0m3 0h0m12 0h0m-38 1h0m7 0h0m3 0h0m5 0h0m13 0h0m16 0h0m14 0h0m3 0h0m-55 1h0m2 0h0m3 0h0m11 0h0m10 0h0m3 0h0m3 0h0m-55 1h0m4 0h0m5 0h0m1 0h0m3 0h0m2 0h0m1 0h0m2 0h0m2 0h0m4 0h0m7 0h0m5 0h0m3 0h0m18 0h0m7 0h0m10 0h0m-83 1h0m18 0h0m4 0h0m3 0h0m1 0h0m8 0h0m2 0h0m15 0h0m3 0h0m17 0h0m3 0h0m-59 1h0m17 0h0m1 0h0m1 0h0m2 0h0m2 0h0m1 0h0m4 0h0m2 0h0m4 0h0m8 0h0m15 0h0m-47 1h0m2 0h0m1 0h0m3 0h0m2 0h0m6 0h0m1 0h0m3 0h0m1 0h0m1 0h0m4 0h0m5 0h0m5 0h0m2 0h0m10 0h0m5 0h0m3 0h0m-79 1h0m9 0h0m10 0h0m4 0h0m2 0h0m10 0h0m1 0h0m3 0h0m1 0h0m7 0h0m2 0h0m13 0h0m8 0h0m4 0h0m3 0h0m2 0h0m-98 1h0m27 0h0m10 0h0m5 0h0m1 0h0m6 0h0m4 0h0m1 0h0m2 0h0m3 0h0m1 0h0m1 0h0m4 0h0m2 0h0m1 0h0m1 0h0m28 0h0m-73 1h0m2 0h0m10 0h0m2 0h0m6 0h0m2 0h0m2 0h0m2 0h0m3 0h0m1 0h0m3 0h0m1 0h0m1 0h0m4 0h0m1 0h0m2 0h0m3 0h0m3 0h0m6 0h0m14 0h0m7 0h0m-105 1h0m30 0h0m16 0h0m1 0h0m3 0h0m1 0h0m5 0h0m1 0h0m2 0h0m3 0h0m4 0h0m2 0h0m3 0h0m6 0h0m10 0h0m11 0h0m2 0h0m10 0h0m-83 1h0m17 0h0m1 0h0m1 0h0m3 0h0m1 0h0m1 0h0m3 0h0m2 0h0m3 0h0m1 0h0m2 0h0m1 0h0m2 0h0m3 0h0m1 0h0m2 0h0m10 0h0m13 0h0m7 0h0m1 0h0m4 0h0m-69 1h0m3 0h0m3 0h0m1 0h0m6 0h0m1 0h0m2 0h0m2 0h0m3 0h0m1 0h0m1 0h0m2 0h0m2 0h0m1 0h0m2 0h0m1 0h0m1 0h0m2 0h0m3 0h0m8 0h0m5 0h0m10 0h0m2 0h0m-64 1h0m1 0h0m7 0h0m5 0h0m1 0h0m1 0h0m1 0h0m1 0h0m1 0h0m1 0h0m3 0h0m1 0h0m1 0h0m2 0h0m1 0h0m1 0h0m6 0h0m2 0h0m4 0h0m3 0h0m3 0h0m10 0h0m-67 1h0m10 0h0m2 0h0m2 0h0m3 0h0m3 0h0m4 0h0m1 0h0m1 0h0m1 0h0m9 0h0m9 0h0m1 0h0m4 0h0m3 0h0m2 0h0m5 0h0m6 0h0m10 0h0m-77 1h0m1 0h0m2 0h0m9 0h0m4 0h0m8 0h0m1 0h0m4 0h0m1 0h0m1 0h0m4 0h0m1 0h0m1 0h0m2 0h0m2 0h0m1 0h0m2 0h0m7 0h0m1 0h0m9 0h0m7 0h0m13 0h0m-76 1h0m3 0h0m5 0h0m8 0h0m2 0h0m4 0h0m1 0h0m1 0h0m1 0h0m2 0h0m3 0h0m1 0h0m6 0h0m5 0h0m5 0h0m-40 1h0m3 0h0m10 0h0m5 0h0m2 0h0m2 0h0m2 0h0m4 0h0m2 0h0m4 0h0m9 0h0m3 0h0m12 0h0m7 0h0m-68 1h0m4 0h0m2 0h0m12 0h0m1 0h0m3 0h0m1 0h0m7 0h0m1 0h0m6 0h0m7 0h0m1 0h0m24 0h0m-54 1h0m4 0h0m2 0h0m2 0h0m2 0h0m1 0h0m2 0h0m1 0h0m7 0h0m21 0h0m8 0h0m-71 1h0m5 0h0m4 0h0m2 0h0m8 0h0m6 0h0m2 0h0m3 0h0m1 0h0m18 0h0m6 0h0m1 0h0m-66 1h0m17 0h0m2 0h0m6 0h0m9 0h0m12 0h0m4 0h0m36 0h0m2 0h0m-74 1h0m2 0h0m5 0h0m1 0h0m11 0h0m8 0h0m9 0h0m30 0h0m4 0h0m6 0h0m-77 1h0m8 0h0m2 0h0m1 0h0m17 0h0m3 0h0m1 0h0m7 0h0m31 0h0m2 0h0m-78 1h0m9 0h0m2 0h0m4 0h0m4 0h0m14 0h0m17 0h0m7 0h0m13 0h0m10 0h0m-69 1h0m10 0h0m3 0h0m1 0h0m50 0h0m4 0h0m-87 1h0m14 0h0m4 0h0m1 0h0m3 0h0m9 0h0m-19 1h0m12 0h0m7 0h0m3 0h0m1 0h0m7 0h0m43 0h0m5 0h0m-107 1h0m31 0h0m3 0h0m2 0h0m4 0h0m11 0h0m27 0h0m-42 1h0m5 0h0m25 0h0m5 0h0m2 0h0m30 0h0m-73 1h0m1 0h0m5 0h0m1 0h0m13 0h0m7 0h0m7 0h0m12 0h0m-50 1h0m8 0h0m2 0h0m2 0h0m4 0h0m3 0h0m16 0h0m11 0h0m28 0h0m-78 1h0m4 0h0m12 0h0m8 0h0m1 0h0m2 0h0m1 0h0m24 0h0m-44 1h0m26 0h0m10 0h0m10 0h0m-44 1h0m1 0h0m12 0h0m1 0h0m24 0h0m5 0h0m29 0h0m-84 1h0m1 0h0m7 0h0m9 0h0m3 0h0m4 0h0m5 0h0m24 0h0m22 0h0m13 0h0m-81 1h0m7 0h0m2 0h0m2 0h0m3 0h0m2 0h0m21 0h0m-61 1h0m17 0h0m8 0h0m9 0h0m6 0h0m12 0h0m6 0h0m14 0h0m-61 1h0m6 0h0m13 0h0m3 0h0m2 0h0m7 0h0m1 0h0m2 0h0m2 0h0m14 0h0m9 0h0m3 0h0m2 0h0m-64 1h0m2 0h0m11 0h0m6 0h0m1 0h0m11 0h0m4 0h0m17 0h0m4 0h0m2 0h0m1 0h0m11 0h0m20 0h0m1 0h0m-93 1h0m9 0h0m9 0h0m4 0h0m5 0h0m1 0h0m1 0h0m1 0h0m17 0h0m12 0h0m2 0h0m2 0h0m3 0h0m2 0h0m1 0h0m21 0h0m-66 1h0m1 0h0m5 0h0m2 0h0m2 0h0m4 0h0m2 0h0m3 0h0m3 0h0m14 0h0m-65 1h0m30 0h0m7 0h0m8 0h0m5 0h0m15 0h0m8 0h0m3 0h0m21 0h0m-89 1h0m1 0h0m3 0h0m4 0h0m3 0h0m4 0h0m2 0h0m3 0h0m7 0h0m12 0h0m10 0h0m9 0h0m-54 1h0m11 0h0m7 0h0m9 0h0m3 0h0m15 0h0m6 0h0m19 0h0m-76 1h0m7 0h0m7 0h0m1 0h0m2 0h0m2 0h0m3 0h0m2 0h0m2 0h0m8 0h0m14 0h0m6 0h0m5 0h0m16 0h0m12 0h0m6 0h0m-111 1h0m29 0h0m3 0h0m7 0h0m11 0h0m23 0h0m3 0h0m31 0h0m-99 1h0m10 0h0m19 0h0m2 0h0m14 0h0m15 0h0m6 0h0m2 0h0m9 0h0m22 0h0m-82 1h0m4 0h0m9 0h0m6 0h0m1 0h0m7 0h0m1 0h0m14 0h0m-54 1h0m9 0h0m8 0h0m1 0h0m2 0h0m1 0h0m4 0h0m1 0h0m1 0h0m9 0h0m12 0h0m5 0h0m2 0h0m3 0h0m10 0h0m7 0h0m-74 1h0m18 0h0m4 0h0m2 0h0m2 0h0m2 0h0m2 0h0m11 0h0m1 0h0m2 0h0m4 0h0m-55 1h0m15 0h0m1 0h0m9 0h0m2 0h0m3 0h0m2 0h0m3 0h0m1 0h0m1 0h0m16 0h0m1 0h0m3 0h0m1 0h0m6 0h0m-53 1h0m5 0h0m7 0h0m3 0h0m5 0h0m15 0h0m6 0h0m8 0h0m1 0h0m2 0h0m-64 1h0m4 0h0m15 0h0m1 0h0m2 0h0m5 0h0m4 0h0m2 0h0m2 0h0m1 0h0m13 0h0m3 0h0m4 0h0m50 0h0m-91 1h0m2 0h0m3 0h0m4 0h0m1 0h0m3 0h0m6 0h0m4 0h0m4 0h0m5 0h0m7 0h0m10 0h0m-56 1h0m2 0h0m2 0h0m3 0h0m5 0h0m12 0h0m4 0h0m2 0h0m8 0h0m10 0h0m3 0h0m12 0h0m37 0h0m-118 1h0m5 0h0m20 0h0m2 0h0m5 0h0m2 0h0m4 0h0m10 0h0m7 0h0m5 0h0m8 0h0m2 0h0m-54 1h0m8 0h0m2 0h0m5 0h0m2 0h0m3 0h0m2 0h0m11 0h0m9 0h0m6 0h0m3 0h0m3 0h0m44 0h0m-106 1h0m4 0h0m16 0h0m4 0h0m2 0h0m1 0h0m1 0h0m2 0h0m5 0h0m6 0h0m2 0h0m10 0h0m4 0h0m50 0h0m-112 1h0m10 0h0m10 0h0m1 0h0m1 0h0m1 0h0m1 0h0m1 0h0m1 0h0m2 0h0m1 0h0m2 0h0m2 0h0m2 0h0m2 0h0m4 0h0m13 0h0m9 0h0m13 0h0m-67 1h0m1 0h0m10 0h0m1 0h0m2 0h0m1 0h0m1 0h0m2 0h0m2 0h0m1 0h0m1 0h0m2 0h0m4 0h0m7 0h0m5 0h0m8 0h0m18 0h0m-72 1h0m8 0h0m6 0h0m4 0h0m3 0h0m2 0h0m1 0h0m1 0h0m1 0h0m2 0h0m2 0h0m2 0h0m1 0h0m3 0h0m8 0h0m-35 1h0m8 0h0m2 0h0m1 0h0m2 0h0m1 0h0m1 0h0m4 0h0m1 0h0m5 0h0m2 0h0m1 0h0m1 0h0m2 0h0m-52 1h0m21 0h0m2 0h0m4 0h0m3 0h0m2 0h0m1 0h0m1 0h0m2 0h0m2 0h0m1 0h0m1 0h0m5 0h0m8 0h0m1 0h0m5 0h0m5 0h0m10 0h0m1 0h0m1 0h0m2 0h0m-69 1h0m17 0h0m2 0h0m4 0h0m1 0h0m1 0h0m1 0h0m2 0h0m1 0h0m3 0h0m1 0h0m1 0h0m1 0h0m2 0h0m2 0h0m1 0h0m4 0h0m3 0h0m4 0h0m4 0h0m4 0h0m2 0h0m1 0h0m11 0h0m-66 1h0m15 0h0m1 0h0m1 0h0m2 0h0m2 0h0m1 0h0m1 0h0m2 0h0m2 0h0m3 0h0m2 0h0m4 0h0m7 0h0m5 0h0m7 0h0m4 0h0m2 0h0m-52 1h0m1 0h0m1 0h0m3 0h0m3 0h0m1 0h0m3 0h0m1 0h0m1 0h0m1 0h0m1 0h0m2 0h0m2 0h0m1 0h0m7 0h0m1 0h0m1 0h0m1 0h0m8 0h0m1 0h0m8 0h0m-53 1h0m6 0h0m1 0h0m8 0h0m1 0h0m1 0h0m1 0h0m1 0h0m1 0h0m1 0h0m1 0h0m1 0h0m1 0h0m1 0h0m2 0h0m6 0h0m2 0h0m1 0h0m1 0h0m6 0h0m6 0h0m2 0h0m7 0h0m-60 1h0m1 0h0m2 0h0m4 0h0m4 0h0m1 0h0m2 0h0m2 0h0m1 0h0m4 0h0m1 0h0m1 0h0m1 0h0m1 0h0m1 0h0m1 0h0m1 0h0m2 0h0m6 0h0m1 0h0m4 0h0m5 0h0m-76 1h0m7 0h0m22 0h0m4 0h0m5 0h0m2 0h0m3 0h0m1 0h0m2 0h0m1 0h0m1 0h0m1 0h0m1 0h0m1 0h0m4 0h0m3 0h0m1 0h0m2 0h0m5 0h0m1 0h0m8 0h0m1 0h0m14 0h0m1 0h0m39 0h0m-94 1h0m4 0h0m1 0h0m2 0h0m2 0h0m3 0h0m1 0h0m2 0h0m1 0h0m1 0h0m1 0h0m1 0h0m3 0h0m1 0h0m2 0h0m5 0h0m3 0h0m3 0h0m1 0h0m3 0h0m2 0h0m-71 1h0m19 0h0m3 0h0m5 0h0m3 0h0m1 0h0m4 0h0m1 0h0m2 0h0m1 0h0m1 0h0m1 0h0m2 0h0m1 0h0m1 0h0m3 0h0m1 0h0m3 0h0m1 0h0m3 0h0m1 0h0m2 0h0m9 0h0m1 0h0m3 0h0m11 0h0m-60 1h0m5 0h0m3 0h0m6 0h0m1 0h0m3 0h0m1 0h0m2 0h0m1 0h0m3 0h0m1 0h0m1 0h0m1 0h0m1 0h0m2 0h0m3 0h0m1 0h0m2 0h0m4 0h0m-49 1h0m8 0h0m2 0h0m2 0h0m5 0h0m1 0h0m2 0h0m1 0h0m3 0h0m3 0h0m1 0h0m1 0h0m1 0h0m1 0h0m1 0h0m1 0h0m1 0h0m6 0h0m1 0h0m3 0h0m-50 1h0m5 0h0m6 0h0m2 0h0m14 0h0m2 0h0m1 0h0m1 0h0m1 0h0m1 0h0m2 0h0m1 0h0m1 0h0m3 0h0m4 0h0m8 0h0m4 0h0m2 0h0m55 0h0m-95 1h0m2 0h0m1 0h0m1 0h0m1 0h0m4 0h0m1 0h0m1 0h0m1 0h0m1 0h0m1 0h0m4 0h0m1 0h0m1 0h0m2 0h0m1 0h0m2 0h0m3 0h0m2 0h0m4 0h0m29 0h0m-75 1h0m12 0h0m1 0h0m2 0h0m6 0h0m1 0h0m4 0h0m1 0h0m1 0h0m2 0h0m5 0h0m1 0h0m1 0h0m1 0h0m2 0h0m1 0h0m1 0h0m3 0h0m2 0h0m9 0h0m-62 1h0m16 0h0m2 0h0m7 0h0m1 0h0m2 0h0m1 0h0m1 0h0m1 0h0m4 0h0m1 0h0m1 0h0m1 0h0m3 0h0m4 0h0m72 0h0m-98 1h0m1 0h0m1 0h0m1 0h0m1 0h0m2 0h0m2 0h0m1 0h0m1 0h0m2 0h0m1 0h0m1 0h0m1 0h0m1 0h0m1 0h0m2 0h0m1 0h0m2 0h0m1 0h0m1 0h0m1 0h0m1 0h0m2 0h0m11 0h0m-41 1h0m5 0h0m4 0h0m3 0h0m4 0h0m1 0h0m1 0h0m1 0h0m1 0h0m2 0h0m8 0h0m2 0h0m1 0h0m8 0h0m4 0h0m6 0h0m-50 1h0m3 0h0m4 0h0m1 0h0m1 0h0m1 0h0m3 0h0m1 0h0m1 0h0m1 0h0m1 0h0m3 0h0m1 0h0m1 0h0m4 0h0m1 0h0m8 0h0m63 0h0m3 0h0m-108 1h0m6 0h0m3 0h0m2 0h0m1 0h0m3 0h0m4 0h0m3 0h0m6 0h0m1 0h0m7 0h0m10 0h0m6 0h0m-63 1h0m12 0h0m1 0h0m4 0h0m2 0h0m3 0h0m2 0h0m3 0h0m2 0h0m1 0h0m6 0h0m3 0h0m2 0h0m11 0h0m53 0h0m9 0h0m-93 1h0m1 0h0m1 0h0m14 0h0m1 0h0m3 0h0m2 0h0m2 0h0m4 0h0m64 0h0m10 0h0m-116 1h0m3 0h0m9 0h0m7 0h0m1 0h0m2 0h0m1 0h0m3 0h0m5 0h0m6 0h0m68 0h0m10 0h0m-115 1h0m11 0h0m1 0h0m8 0h0m4 0h0m1 0h0m3 0h0m1 0h0m1 0h0m1 0h0m6 0h0m5 0h0m21 0h0m37 0h0m-93 1h0m6 0h0m6 0h0m1 0h0m1 0h0m5 0h0m10 0h0m5 0h0m65 0h0m5 0h0m-128 1h0m31 0h0m1 0h0m5 0h0m5 0h0m5 0h0m1 0h0m5 0h0m79 0h0m-136 1h0m21 0h0m2 0h0m8 0h0m1 0h0m9 0h0m4 0h0m2 0h0m3 0h0m8 0h0m7 0h0m3 0h0m6 0h0m55 0h0m4 0h0m2 0h0m-108 1h0m3 0h0m8 0h0m78 0h0m7 0h0m3 0h0m3 0h0m1 0h0m2 0h0m-102 1h0m2 0h0m5 0h0m5 0h0m6 0h0m3 0h0m9 0h0m63 0h0m1 0h0m2 0h0m4 0h0m5 0h0m5 0h0m-112 1h0m5 0h0m7 0h0m3 0h0m4 0h0m77 0h0m3 0h0m1 0h0m5 0h0m1 0h0m-123 1h0m17 0h0m1 0h0m11 0h0m4 0h0m8 0h0m10 0h0m59 0h0m3 0h0m3 0h0m3 0h0m1 0h0m3 0h0m-100 1h0m9 0h0m6 0h0m17 0h0m62 0h0m3 0h0m2 0h0m-104 1h0m10 0h0m6 0h0m3 0h0m77 0h0m2 0h0m3 0h0m4 0h0m3 0h0m-129 1h0m26 0h0m2 0h0m2 0h0m8 0h0m77 0h0m4 0h0m1 0h0m2 0h0m1 0h0m2 0h0m-97 1h0m27 0h0m65 0h0m1 0h0m1 0h0m2 0h0m1 0h0m-90 1h0m8 0h0m73 0h0m3 0h0m2 0h0m7 0h0m-111 1h0m16 0h0m1 0h0m1 0h0m19 0h0m65 0h0m2 0h0m7 0h0m-93 1h0m27 0h0m55 0h0m3 0h0m3 0h0m4 0h0m-12 1h0m3 0h0m3 0h0m2 0h0m-95 1h0m12 0h0m77 0h0m3 0h0m2 0h0m1 0h0m2 0h0m-110 1h0m6 0h0m15 0h0m79 0h0m2 0h0m1 0h0m2 0h0m9 0h0m-118 1h0m13 0h0m31 0h0m65 0h0m1 0h0m1 0h0m2 0h0m1 0h0m2 0h0m-11 1h0m1 0h0m2 0h0m2 0h0m4 0h0m1 0h0m2 0h0m-112 1h0m9 0h0m36 0h0m54 0h0m-78 1h0m2 0h0m79 0h0m2 0h0m3 0h0m-7 1h0m3 0h0m11 0h0m-119 1h0m17 0h0m90 0h0m2 0h0m6 0h0m1 0h0m2 0h0m-125 2h0m113 0h0m7 0h0m-81 1h0m76 0h0m3 0h0m-107 1h0m22 1h0m26 0h0m57 0h0m-117 3h0m120 0h0m-70 1h0m70 1h0m-95 1h0m24 0h0m67 0h0m4 0h0m-10 1h0m-91 1h0m40 0h0m-61 1h0m30 2h0m-28 1h0m11 0h0"/>
</g>
<rect x="180.3" y="156.2" width="73.19999999999999" height="73.0" fill="none" stroke="#666" stroke-width="0.9"/>
<line x1="180.3" y1="229.2" x2="180.3" y2="230.4" stroke="#666" stroke-width="0.6"/>
<text x="179.9" y="234.4" font-size="3.4" text-anchor="middle" fill="#777">10<tspan font-size="2.3" dy="-1.3">0</tspan></text>
<line x1="179.1" y1="229.2" x2="180.3" y2="229.2" stroke="#666" stroke-width="0.6"/>
<text x="178.7" y="230" font-size="3.4" text-anchor="end" fill="#777">10<tspan font-size="2.3" dy="-1.3">0</tspan></text>
<line x1="198.6" y1="229.2" x2="198.6" y2="230.4" stroke="#666" stroke-width="0.6"/>
<text x="198.2" y="234.4" font-size="3.4" text-anchor="middle" fill="#777">10<tspan font-size="2.3" dy="-1.3">1</tspan></text>
<line x1="179.1" y1="210.95" x2="180.3" y2="210.95" stroke="#666" stroke-width="0.6"/>
<text x="178.7" y="211.75" font-size="3.4" text-anchor="end" fill="#777">10<tspan font-size="2.3" dy="-1.3">1</tspan></text>
<line x1="216.9" y1="229.2" x2="216.9" y2="230.4" stroke="#666" stroke-width="0.6"/>
<text x="216.5" y="234.4" font-size="3.4" text-anchor="middle" fill="#777">10<tspan font-size="2.3" dy="-1.3">2</tspan></text>
<line x1="179.1" y1="192.7" x2="180.3" y2="192.7" stroke="#666" stroke-width="0.6"/>
<text x="178.7" y="193.5" font-size="3.4" text-anchor="end" fill="#777">10<tspan font-size="2.3" dy="-1.3">2</tspan></text>
<line x1="235.2" y1="229.2" x2="235.2" y2="230.4" stroke="#666" stroke-width="0.6"/>
<text x="234.8" y="234.4" font-size="3.4" text-anchor="middle" fill="#777">10<tspan font-size="2.3" dy="-1.3">3</tspan></text>
<line x1="179.1" y1="174.45" x2="180.3" y2="174.45" stroke="#666" stroke-width="0.6"/>
<text x="178.7" y="175.25" font-size="3.4" text-anchor="end" fill="#777">10<tspan font-size="2.3" dy="-1.3">3</tspan></text>
<line x1="253.5" y1="229.2" x2="253.5" y2="230.4" stroke="#666" stroke-width="0.6"/>
<text x="253.1" y="234.4" font-size="3.4" text-anchor="middle" fill="#777">10<tspan font-size="2.3" dy="-1.3">4</tspan></text>
<line x1="179.1" y1="156.2" x2="180.3" y2="156.2" stroke="#666" stroke-width="0.6"/>
<text x="178.7" y="157" font-size="3.4" text-anchor="end" fill="#777">10<tspan font-size="2.3" dy="-1.3">4</tspan></text>
<polygon points="213.4,163.8 238.1,163.8 240.6,171.60000000000002 238.1,179.4 213.4,179.4" fill="none" stroke="#000" stroke-width="1.3"/>
<line x1="221.8" y1="156.2" x2="221.8" y2="163.8" stroke="#000" stroke-width="1"/>
<polygon points="241.4,163.2 252,163.2 252,179.4 246.7,181.7 241.4,179.4" fill="none" stroke="#000" stroke-width="1.3"/>
<polygon points="241.4,184.3 252,184.3 252,200.6 246.7,202.9 241.4,200.6" fill="none" stroke="#000" stroke-width="1.3"/>
<polygon points="241.4,204.4 252,204.4 252,221 246.7,223.4 241.4,221" fill="none" stroke="#000" stroke-width="1.3"/>
<text x="260.5" y="172.5" font-size="8.4" font-weight="normal" text-anchor="middle" fill="#000" stroke="#000" stroke-width="0.12" >II</text>
<text x="260.5" y="195.4" font-size="8.4" font-weight="normal" text-anchor="middle" fill="#000" stroke="#000" stroke-width="0.12" >III</text>
<text x="260.5" y="215.8" font-size="8.4" font-weight="normal" text-anchor="middle" fill="#000" stroke="#000" stroke-width="0.12" >IV</text>
<text transform="translate(287.8,145.6) scale(0.93,1)" font-size="14" font-weight="bold" stroke="#000" stroke-width="0.3">D</text>
<line x1="320.2" y1="151" x2="320.2" y2="231.25" stroke="#000" stroke-width="1.3"/>
<line x1="317.4" y1="230.6" x2="320.2" y2="230.6" stroke="#000" stroke-width="1.2"/>
<text x="313.4" y="233.77" font-size="8.8" font-weight="bold" text-anchor="end" fill="#000" stroke="#000" stroke-width="0.2" >0</text>
<line x1="317.4" y1="217.45" x2="320.2" y2="217.45" stroke="#000" stroke-width="1.2"/>
<text x="313.4" y="220.62" font-size="8.8" font-weight="bold" text-anchor="end" fill="#000" stroke="#000" stroke-width="0.2" >1</text>
<line x1="317.4" y1="204.3" x2="320.2" y2="204.3" stroke="#000" stroke-width="1.2"/>
<text x="313.4" y="207.47" font-size="8.8" font-weight="bold" text-anchor="end" fill="#000" stroke="#000" stroke-width="0.2" >2</text>
<line x1="317.4" y1="191.15" x2="320.2" y2="191.15" stroke="#000" stroke-width="1.2"/>
<text x="313.4" y="194.32" font-size="8.8" font-weight="bold" text-anchor="end" fill="#000" stroke="#000" stroke-width="0.2" >3</text>
<line x1="317.4" y1="178" x2="320.2" y2="178" stroke="#000" stroke-width="1.2"/>
<text x="313.4" y="181.17" font-size="8.8" font-weight="bold" text-anchor="end" fill="#000" stroke="#000" stroke-width="0.2" >4</text>
<line x1="317.4" y1="164.85" x2="320.2" y2="164.85" stroke="#000" stroke-width="1.2"/>
<text x="313.4" y="168.02" font-size="8.8" font-weight="bold" text-anchor="end" fill="#000" stroke="#000" stroke-width="0.2" >5</text>
<line x1="317.4" y1="151.7" x2="320.2" y2="151.7" stroke="#000" stroke-width="1.2"/>
<text x="313.4" y="154.87" font-size="8.8" font-weight="bold" text-anchor="end" fill="#000" stroke="#000" stroke-width="0.2" >6</text>
<line x1="318.4" y1="230.6" x2="457.8" y2="230.6" stroke="#000" stroke-width="1.3"/>
<line x1="354.6" y1="230.6" x2="354.6" y2="232.9" stroke="#000" stroke-width="1"/>
<line x1="388.6" y1="230.6" x2="388.6" y2="232.9" stroke="#000" stroke-width="1"/>
<line x1="422.8" y1="230.6" x2="422.8" y2="232.9" stroke="#000" stroke-width="1"/>
<line x1="457.3" y1="230.6" x2="457.3" y2="232.9" stroke="#000" stroke-width="1"/>
<line x1="331.8" y1="181.94" x2="331.8" y2="164.85" stroke="#555" stroke-width="1.0"/>
<line x1="330.2" y1="164.85" x2="333.4" y2="164.85" stroke="#555" stroke-width="1.0"/>
<rect x="327.1" y="181.94" width="9.4" height="48.66" fill="#000" stroke="none" stroke-width="0"/>
<line x1="341.55" y1="215.48" x2="341.55" y2="211.53" stroke="#555" stroke-width="1.0"/>
<line x1="339.95" y1="211.53" x2="343.15" y2="211.53" stroke="#555" stroke-width="1.0"/>
<rect x="336.9" y="215.88" width="9.3" height="14.72" fill="#999999" stroke="#333" stroke-width="0.8"/>
<line x1="365.65" y1="214.16" x2="365.65" y2="208.25" stroke="#555" stroke-width="1.0"/>
<line x1="364.05" y1="208.25" x2="367.25" y2="208.25" stroke="#555" stroke-width="1.0"/>
<rect x="360.6" y="214.16" width="10.1" height="16.44" fill="#000" stroke="none" stroke-width="0"/>
<line x1="375.75" y1="224.03" x2="375.75" y2="222.97" stroke="#555" stroke-width="1.0"/>
<line x1="374.15" y1="222.97" x2="377.35" y2="222.97" stroke="#555" stroke-width="1.0"/>
<rect x="371.1" y="224.43" width="9.3" height="6.17" fill="#999999" stroke="#333" stroke-width="0.8"/>
<line x1="400.55" y1="224.68" x2="400.55" y2="223.37" stroke="#555" stroke-width="1.0"/>
<line x1="398.95" y1="223.37" x2="402.15" y2="223.37" stroke="#555" stroke-width="1.0"/>
<rect x="395.5" y="224.68" width="10.1" height="5.92" fill="#000" stroke="none" stroke-width="0"/>
<line x1="410.65" y1="227.31" x2="410.65" y2="226.66" stroke="#555" stroke-width="1.0"/>
<line x1="409.05" y1="226.66" x2="412.25" y2="226.66" stroke="#555" stroke-width="1.0"/>
<rect x="406" y="227.71" width="9.3" height="2.89" fill="#999999" stroke="#333" stroke-width="0.8"/>
<line x1="434.6" y1="217.45" x2="434.6" y2="215.48" stroke="#555" stroke-width="1.0"/>
<line x1="433" y1="215.48" x2="436.2" y2="215.48" stroke="#555" stroke-width="1.0"/>
<rect x="429.4" y="217.45" width="10.4" height="13.15" fill="#000" stroke="none" stroke-width="0"/>
<line x1="444.9" y1="229.02" x2="444.9" y2="228.63" stroke="#555" stroke-width="1.0"/>
<line x1="443.3" y1="228.63" x2="446.5" y2="228.63" stroke="#555" stroke-width="1.0"/>
<rect x="440.2" y="229.42" width="9.4" height="1.18" fill="#999999" stroke="#333" stroke-width="0.8"/>
<circle cx="332" cy="154.6" r="1.5" fill="#555"/>
<circle cx="365.9" cy="202.3" r="1.5" fill="#555"/>
<circle cx="434.4" cy="208.7" r="1.5" fill="#555"/>
<text x="336.4" y="243.6" font-size="7.6" font-weight="bold" text-anchor="middle" fill="#000" stroke="#000" stroke-width="0.2" >c-kit+</text>
<text x="371.1" y="243.6" font-size="7.6" font-weight="bold" text-anchor="middle" fill="#000" stroke="#000" stroke-width="0.2" >GMP</text>
<text x="406.6" y="243.6" font-size="7.6" font-weight="bold" text-anchor="middle" fill="#000" stroke="#000" stroke-width="0.2" >CMP</text>
<text x="441" y="243.6" font-size="7.6" font-weight="bold" text-anchor="middle" fill="#000" stroke="#000" stroke-width="0.2" >MEP</text>
<g transform="translate(296.4,189.8) rotate(-90)"><text x="0" y="0" font-size="7.4" font-weight="bold" text-anchor="middle" stroke="#000" stroke-width="0.2">Proportion of total</text></g>
<g transform="translate(304.9,189.4) rotate(-90)"><text x="0" y="0" font-size="7.4" font-weight="bold" text-anchor="middle" stroke="#000" stroke-width="0.2">bm cells (%)</text></g>
<text transform="translate(19.9,282) scale(0.93,1)" font-size="14" font-weight="bold" stroke="#000" stroke-width="0.3">E</text>
<line x1="33.4" y1="288.7" x2="33.4" y2="374.6" stroke="#000" stroke-width="1.8"/>
<line x1="30.9" y1="373.7" x2="33.4" y2="373.7" stroke="#000" stroke-width="1.1"/>
<text x="29.8" y="377.08" font-size="6.6" font-weight="bold" text-anchor="end" fill="#000" stroke="#000" stroke-width="0.2" >0</text>
<line x1="30.9" y1="356.9" x2="33.4" y2="356.9" stroke="#000" stroke-width="1.1"/>
<text x="29.8" y="360.28" font-size="6.6" font-weight="bold" text-anchor="end" fill="#000" stroke="#000" stroke-width="0.2" >2.0</text>
<line x1="30.9" y1="340.1" x2="33.4" y2="340.1" stroke="#000" stroke-width="1.1"/>
<text x="29.8" y="343.48" font-size="6.6" font-weight="bold" text-anchor="end" fill="#000" stroke="#000" stroke-width="0.2" >4.0</text>
<line x1="30.9" y1="323.3" x2="33.4" y2="323.3" stroke="#000" stroke-width="1.1"/>
<text x="29.8" y="326.68" font-size="6.6" font-weight="bold" text-anchor="end" fill="#000" stroke="#000" stroke-width="0.2" >6.0</text>
<line x1="30.9" y1="306.5" x2="33.4" y2="306.5" stroke="#000" stroke-width="1.1"/>
<text x="29.8" y="309.88" font-size="6.6" font-weight="bold" text-anchor="end" fill="#000" stroke="#000" stroke-width="0.2" >8.0</text>
<line x1="30.9" y1="289.7" x2="33.4" y2="289.7" stroke="#000" stroke-width="1.1"/>
<text x="29.8" y="293.08" font-size="6.6" font-weight="bold" text-anchor="end" fill="#000" stroke="#000" stroke-width="0.2" >10.0</text>
<line x1="32.5" y1="373.7" x2="148.8" y2="373.7" stroke="#000" stroke-width="1.8"/>
<circle cx="53.1" cy="318.1" r="0.85" fill="#1a1a1a"/>
<circle cx="53.2" cy="320.6" r="0.85" fill="#1a1a1a"/>
<circle cx="53.44" cy="322.5" r="0.85" fill="#1a1a1a"/>
<circle cx="52.94" cy="324.6" r="0.85" fill="#1a1a1a"/>
<circle cx="53.31" cy="326.2" r="0.85" fill="#1a1a1a"/>
<circle cx="53.22" cy="328" r="0.85" fill="#1a1a1a"/>
<circle cx="53.19" cy="329.2" r="0.85" fill="#1a1a1a"/>
<circle cx="52.9" cy="333" r="0.85" fill="#1a1a1a"/>
<circle cx="53.36" cy="334.2" r="0.85" fill="#1a1a1a"/>
<circle cx="53.12" cy="335.5" r="0.85" fill="#1a1a1a"/>
<circle cx="53.37" cy="336.6" r="0.85" fill="#1a1a1a"/>
<circle cx="53.54" cy="338.6" r="0.85" fill="#1a1a1a"/>
<circle cx="53.02" cy="341.3" r="0.85" fill="#1a1a1a"/>
<circle cx="53.24" cy="344.3" r="0.85" fill="#1a1a1a"/>
<circle cx="53.48" cy="345.9" r="0.85" fill="#1a1a1a"/>
<circle cx="53.48" cy="353.9" r="0.85" fill="#1a1a1a"/>
<circle cx="53.46" cy="359.9" r="0.85" fill="#1a1a1a"/>
<line x1="50.2" y1="331.8" x2="56.2" y2="331.8" stroke="#000" stroke-width="1.4"/>
<line x1="53.2" y1="328.3" x2="53.2" y2="335.3" stroke="#000" stroke-width="1.2"/>
<circle cx="71.96" cy="297" r="0.85" fill="#1a1a1a"/>
<circle cx="72.65" cy="300" r="0.85" fill="#1a1a1a"/>
<circle cx="72.33" cy="302.5" r="0.85" fill="#1a1a1a"/>
<circle cx="72.12" cy="307.7" r="0.85" fill="#1a1a1a"/>
<circle cx="72.46" cy="310" r="0.85" fill="#1a1a1a"/>
<circle cx="72.34" cy="313" r="0.85" fill="#1a1a1a"/>
<circle cx="72.15" cy="316" r="0.85" fill="#1a1a1a"/>
<line x1="69.2" y1="305" x2="75.2" y2="305" stroke="#000" stroke-width="1.4"/>
<line x1="72.2" y1="301.5" x2="72.2" y2="308.5" stroke="#000" stroke-width="1.2"/>
<circle cx="91.62" cy="296" r="0.85" fill="#1a1a1a"/>
<circle cx="91.91" cy="299" r="0.85" fill="#1a1a1a"/>
<circle cx="91.83" cy="301" r="0.85" fill="#1a1a1a"/>
<circle cx="92.15" cy="305" r="0.85" fill="#1a1a1a"/>
<circle cx="92.1" cy="309.7" r="0.85" fill="#1a1a1a"/>
<line x1="88.9" y1="303" x2="94.9" y2="303" stroke="#000" stroke-width="1.4"/>
<line x1="91.9" y1="299.5" x2="91.9" y2="306.5" stroke="#000" stroke-width="1.2"/>
<circle cx="110.86" cy="294.4" r="0.85" fill="#1a1a1a"/>
<circle cx="110.51" cy="298" r="0.85" fill="#1a1a1a"/>
<circle cx="110.36" cy="300" r="0.85" fill="#1a1a1a"/>
<circle cx="111.07" cy="304" r="0.85" fill="#1a1a1a"/>
<circle cx="110.49" cy="310.5" r="0.85" fill="#1a1a1a"/>
<line x1="107.8" y1="302" x2="113.8" y2="302" stroke="#000" stroke-width="1.4"/>
<line x1="110.8" y1="298.5" x2="110.8" y2="305.5" stroke="#000" stroke-width="1.2"/>
<text transform="translate(5.5,329.3) rotate(-90)" x="0" y="0" font-size="6.9" font-weight="bold" text-anchor="middle" dominant-baseline="central" fill="#000" stroke="#000" stroke-width="0.2">RBC e12/L</text>
<text x="48.7" y="386.3" font-size="6.8" font-weight="bold" text-anchor="middle" fill="#000" stroke="#000" stroke-width="0.2" >HOXA10</text>
<text x="48.7" y="395.4" font-size="6.8" font-weight="bold" text-anchor="middle" fill="#000" stroke="#000" stroke-width="0.2" >+doxy</text>
<text x="80.2" y="386.3" font-size="6.8" font-weight="bold" text-anchor="middle" fill="#000" stroke="#000" stroke-width="0.2" >HOXA10</text>
<text x="66.9" y="395.4" font-size="6.8" font-weight="bold" text-anchor="start" fill="#000" stroke="#000" stroke-width="0.2" >-doxy</text>
<text x="102.9" y="386.3" font-size="6.8" font-weight="bold" text-anchor="middle" fill="#000" stroke="#000" stroke-width="0.2" >Wt</text>
<text x="101.4" y="395.4" font-size="6.8" font-weight="bold" text-anchor="middle" fill="#000" stroke="#000" stroke-width="0.2" >+doxy</text>
<text x="124.4" y="386.3" font-size="6.8" font-weight="bold" text-anchor="middle" fill="#000" stroke="#000" stroke-width="0.2" >Wt</text>
<text x="124.4" y="395.4" font-size="6.8" font-weight="bold" text-anchor="middle" fill="#000" stroke="#000" stroke-width="0.2" >-doxy</text>
<line x1="164.8" y1="290.7" x2="164.8" y2="374.9" stroke="#000" stroke-width="1.8"/>
<line x1="162.3" y1="374" x2="164.8" y2="374" stroke="#000" stroke-width="1.1"/>
<text x="162.3" y="377.38" font-size="6.6" font-weight="bold" text-anchor="end" fill="#000" stroke="#000" stroke-width="0.2" >0</text>
<line x1="162.3" y1="363.74" x2="164.8" y2="363.74" stroke="#000" stroke-width="1.1"/>
<text x="162.3" y="367.12" font-size="6.6" font-weight="bold" text-anchor="end" fill="#000" stroke="#000" stroke-width="0.2" >20</text>
<line x1="162.3" y1="353.48" x2="164.8" y2="353.48" stroke="#000" stroke-width="1.1"/>
<text x="162.3" y="356.86" font-size="6.6" font-weight="bold" text-anchor="end" fill="#000" stroke="#000" stroke-width="0.2" >40</text>
<line x1="162.3" y1="343.22" x2="164.8" y2="343.22" stroke="#000" stroke-width="1.1"/>
<text x="162.3" y="346.6" font-size="6.6" font-weight="bold" text-anchor="end" fill="#000" stroke="#000" stroke-width="0.2" >60</text>
<line x1="162.3" y1="332.96" x2="164.8" y2="332.96" stroke="#000" stroke-width="1.1"/>
<text x="162.3" y="336.34" font-size="6.6" font-weight="bold" text-anchor="end" fill="#000" stroke="#000" stroke-width="0.2" >80</text>
<line x1="162.3" y1="322.7" x2="164.8" y2="322.7" stroke="#000" stroke-width="1.1"/>
<text x="162.3" y="326.08" font-size="6.6" font-weight="bold" text-anchor="end" fill="#000" stroke="#000" stroke-width="0.2" >100</text>
<line x1="162.3" y1="312.44" x2="164.8" y2="312.44" stroke="#000" stroke-width="1.1"/>
<text x="162.3" y="315.82" font-size="6.6" font-weight="bold" text-anchor="end" fill="#000" stroke="#000" stroke-width="0.2" >120</text>
<line x1="162.3" y1="302.18" x2="164.8" y2="302.18" stroke="#000" stroke-width="1.1"/>
<text x="162.3" y="305.56" font-size="6.6" font-weight="bold" text-anchor="end" fill="#000" stroke="#000" stroke-width="0.2" >140</text>
<line x1="162.3" y1="291.92" x2="164.8" y2="291.92" stroke="#000" stroke-width="1.1"/>
<text x="162.3" y="295.3" font-size="6.6" font-weight="bold" text-anchor="end" fill="#000" stroke="#000" stroke-width="0.2" >160</text>
<line x1="163.9" y1="374" x2="282.5" y2="374" stroke="#000" stroke-width="1.8"/>
<circle cx="185.28" cy="321.2" r="0.85" fill="#1a1a1a"/>
<circle cx="184.71" cy="323.5" r="0.85" fill="#1a1a1a"/>
<circle cx="184.85" cy="325.5" r="0.85" fill="#1a1a1a"/>
<circle cx="184.89" cy="327.5" r="0.85" fill="#1a1a1a"/>
<circle cx="184.53" cy="329.5" r="0.85" fill="#1a1a1a"/>
<circle cx="184.66" cy="331.5" r="0.85" fill="#1a1a1a"/>
<circle cx="185.18" cy="333.5" r="0.85" fill="#1a1a1a"/>
<circle cx="184.7" cy="338" r="0.85" fill="#1a1a1a"/>
<circle cx="184.8" cy="340" r="0.85" fill="#1a1a1a"/>
<circle cx="184.74" cy="342" r="0.85" fill="#1a1a1a"/>
<circle cx="184.59" cy="344" r="0.85" fill="#1a1a1a"/>
<circle cx="184.9" cy="346" r="0.85" fill="#1a1a1a"/>
<circle cx="185.21" cy="348" r="0.85" fill="#1a1a1a"/>
<circle cx="185.28" cy="351.5" r="0.85" fill="#1a1a1a"/>
<circle cx="184.59" cy="355" r="0.85" fill="#1a1a1a"/>
<circle cx="185.48" cy="360.4" r="0.85" fill="#1a1a1a"/>
<line x1="182" y1="335.8" x2="188" y2="335.8" stroke="#000" stroke-width="1.4"/>
<line x1="185" y1="332.3" x2="185" y2="339.3" stroke="#000" stroke-width="1.2"/>
<circle cx="204.47" cy="304" r="0.85" fill="#1a1a1a"/>
<circle cx="205.03" cy="307" r="0.85" fill="#1a1a1a"/>
<circle cx="204.39" cy="310" r="0.85" fill="#1a1a1a"/>
<circle cx="204.79" cy="315" r="0.85" fill="#1a1a1a"/>
<circle cx="204.87" cy="317.5" r="0.85" fill="#1a1a1a"/>
<circle cx="204.67" cy="320" r="0.85" fill="#1a1a1a"/>
<line x1="201.7" y1="312.5" x2="207.7" y2="312.5" stroke="#000" stroke-width="1.4"/>
<line x1="204.7" y1="309" x2="204.7" y2="316" stroke="#000" stroke-width="1.2"/>
<circle cx="224.13" cy="303" r="0.85" fill="#1a1a1a"/>
<circle cx="224.25" cy="306" r="0.85" fill="#1a1a1a"/>
<circle cx="224.01" cy="312" r="0.85" fill="#1a1a1a"/>
<circle cx="224.21" cy="315.7" r="0.85" fill="#1a1a1a"/>
<line x1="221.2" y1="309" x2="227.2" y2="309" stroke="#000" stroke-width="1.4"/>
<line x1="224.2" y1="305.5" x2="224.2" y2="312.5" stroke="#000" stroke-width="1.2"/>
<circle cx="243.37" cy="303.7" r="0.85" fill="#1a1a1a"/>
<circle cx="243.83" cy="306" r="0.85" fill="#1a1a1a"/>
<circle cx="244.1" cy="312" r="0.85" fill="#1a1a1a"/>
<circle cx="244.07" cy="315" r="0.85" fill="#1a1a1a"/>
<line x1="240.7" y1="309.5" x2="246.7" y2="309.5" stroke="#000" stroke-width="1.4"/>
<line x1="243.7" y1="306" x2="243.7" y2="313" stroke="#000" stroke-width="1.2"/>
<text transform="translate(141.4,333) rotate(-90)" x="0" y="0" font-size="6.9" font-weight="bold" text-anchor="middle" dominant-baseline="central" fill="#000" stroke="#000" stroke-width="0.2">Hgb g/L</text>
<text x="178.5" y="386.3" font-size="6.8" font-weight="bold" text-anchor="middle" fill="#000" stroke="#000" stroke-width="0.2" >HOXA10</text>
<text x="178.5" y="395.4" font-size="6.8" font-weight="bold" text-anchor="middle" fill="#000" stroke="#000" stroke-width="0.2" >+doxy</text>
<text x="210.7" y="386.3" font-size="6.8" font-weight="bold" text-anchor="middle" fill="#000" stroke="#000" stroke-width="0.2" >HOXA10</text>
<text x="197.5" y="395.4" font-size="6.8" font-weight="bold" text-anchor="start" fill="#000" stroke="#000" stroke-width="0.2" >-doxy</text>
<text x="233.2" y="386.3" font-size="6.8" font-weight="bold" text-anchor="middle" fill="#000" stroke="#000" stroke-width="0.2" >Wt</text>
<text x="231.6" y="395.4" font-size="6.8" font-weight="bold" text-anchor="middle" fill="#000" stroke="#000" stroke-width="0.2" >+doxy</text>
<text x="254.7" y="386.3" font-size="6.8" font-weight="bold" text-anchor="middle" fill="#000" stroke="#000" stroke-width="0.2" >Wt</text>
<text x="254.7" y="395.4" font-size="6.8" font-weight="bold" text-anchor="middle" fill="#000" stroke="#000" stroke-width="0.2" >-doxy</text>
<text transform="translate(294.8,281.7) scale(0.93,1)" font-size="14" font-weight="bold" stroke="#000" stroke-width="0.3">F</text>
<text x="344.6" y="297" font-size="8.2" font-weight="normal" text-anchor="middle" fill="#000" stroke="#000" stroke-width="0.25" >Wt</text>
<text x="468.4" y="297" font-size="8.4" font-weight="normal" text-anchor="middle" fill="#000" stroke="#000" stroke-width="0.25" >HOXA10</text>
<g clip-path="url(#cw)">
<rect x="297" y="300.5" width="101" height="77.5" fill="#c4b4c6"/>
<g filter="url(#b3)">
<ellipse cx="300" cy="308" rx="6" ry="10" fill="#c8aa96"/>
<ellipse cx="306" cy="334" rx="9" ry="12" fill="#b8b0b0"/>
<ellipse cx="311" cy="362" rx="15" ry="15" fill="#b4ae9c"/>
<ellipse cx="330" cy="378" rx="12" ry="3" fill="#b8b09c"/>
<ellipse cx="318" cy="372" rx="6" ry="6" fill="#aca0b4"/>
<ellipse cx="366" cy="309" rx="12" ry="8" fill="#a890b0"/>
<ellipse cx="319.5" cy="315" rx="11" ry="12" fill="#aa9ac0"/>
<ellipse cx="338.5" cy="329.5" rx="12" ry="16" fill="#9e8aba"/>
<ellipse cx="363" cy="331" rx="12" ry="14.5" fill="#a290bc"/>
<ellipse cx="343.5" cy="364" rx="12" ry="12" fill="#a08cba"/>
<ellipse cx="367" cy="361" rx="12" ry="12.5" fill="#a894b8"/>
<ellipse cx="386" cy="342" rx="9" ry="22" fill="#a8849c"/>
<ellipse cx="394" cy="318" rx="5" ry="17" fill="#b86a68"/>
<ellipse cx="394" cy="366" rx="5" ry="12" fill="#b8847c"/>
<ellipse cx="385" cy="301" rx="12" ry="3" fill="#a8889e"/>
</g><g filter="url(#b2)" opacity="0.95">
<path d="M329.5 300 Q331 325 330 352" stroke="#e2d8e2" stroke-width="4" fill="none"/>
<path d="M318 348 Q340 345 358 348 T388 349" stroke="#e2d8e2" stroke-width="4.5" fill="none"/>
<path d="M351.5 316 Q352 332 352 348" stroke="#e2d8e2" stroke-width="3.5" fill="none"/>
<path d="M345 300 Q349 308 351.5 316" stroke="#e2d8e2" stroke-width="3.5" fill="none"/>
<path d="M355 352 Q355 365 356 378" stroke="#d6cad6" stroke-width="2" fill="none"/>
</g>
<g transform="scale(.5)" filter="url(#sb2)">
<path fill="none" stroke="#ece2f0" stroke-opacity="0.45" stroke-width="2.8" stroke-linecap="square" d="M608 601h0m29 0h0m123 0h0m8 0h0m27 0h0m-174 1h0m15 0h0m69 0h0m1 0h0m28 0h0m46 0h0m-172 1h0m39 0h0m78 0h0m27 0h0m-154 1h0m88 0h0m11 0h0m3 0h0m9 0h0m10 0h0m65 0h0m-148 1h0m58 0h0m19 0h0m19 0h0m43 0h0m6 0h0m-183 1h0m135 0h0m26 0h0m28 0h0m-182 1h0m36 0h0m7 0h0m23 0h0m27 0h0m4 0h0m10 0h0m40 0h0m2 0h0m-144 1h0m21 0h0m149 0h0m9 0h0m-170 1h0m49 0h0m33 0h0m41 0h0m1 0h0m-102 1h0m-44 1h0m14 0h0m1 0h0m14 0h0m23 0h0m13 0h0m2 0h0m33 0h0m15 0h0m10 0h0m41 0h0m-161 1h0m120 0h0m32 0h0m-123 1h0m11 0h0m10 0h0m1 0h0m100 0h0m28 0h0m2 0h0m-186 1h0m1 0h0m28 0h0m101 0h0m8 0h0m-112 1h0m15 0h0m67 0h0m1 0h0m26 0h0m55 0h0m-143 1h0m18 0h0m16 0h0m84 0h0m-166 1h0m35 0h0m6 0h0m24 0h0m17 0h0m55 0h0m22 0h0m5 0h0m14 0h0m-165 1h0m126 0h0m22 0h0m21 0h0m-139 1h0m49 0h0m34 0h0m3 0h0m37 0h0m2 0h0m-164 1h0m40 0h0m7 0h0m31 0h0m13 0h0m11 0h0m73 0h0m7 0h0m-174 1h0m5 0h0m44 0h0m63 0h0m7 0h0m47 0h0m13 0h0m2 0h0m-188 1h0m8 0h0m37 0h0m30 0h0m23 0h0m5 0h0m39 0h0m2 0h0m8 0h0m16 0h0m20 0h0m-169 1h0m74 0h0m2 0h0m41 0h0m2 0h0m25 0h0m-156 1h0m30 0h0m19 0h0m4 0h0m89 0h0m1 0h0m6 0h0m9 0h0m-166 1h0m7 0h0m38 0h0m44 0h0m16 0h0m9 0h0m5 0h0m28 0h0m27 0h0m21 0h0m-201 1h0m78 0h0m32 0h0m45 0h0m-112 1h0m50 0h0m4 0h0m97 0h0m2 0h0m-168 1h0m54 0h0m18 0h0m39 0h0m9 0h0m-146 1h0m15 0h0m17 0h0m27 0h0m29 0h0m10 0h0m89 0h0m8 0h0m-184 1h0m12 0h0m3 0h0m21 0h0m5 0h0m22 0h0m34 0h0m5 0h0m21 0h0m13 0h0m33 0h0m-144 1h0m61 0h0m47 0h0m-86 1h0m5 0h0m24 0h0m38 0h0m11 0h0m2 0h0m24 0h0m32 0h0m-190 1h0m8 0h0m22 0h0m6 0h0m2 0h0m2 0h0m13 0h0m6 0h0m21 0h0m24 0h0m6 0h0m37 0h0m40 0h0m-176 1h0m37 0h0m31 0h0m28 0h0m31 0h0m-63 1h0m50 0h0m37 0h0m-127 1h0m14 0h0m64 0h0m3 0h0m15 0h0m31 0h0m28 0h0m-163 1h0m10 0h0m7 0h0m24 0h0m11 0h0m37 0h0m44 0h0m-166 1h0m40 0h0m41 0h0m6 0h0m21 0h0m21 0h0m4 0h0m9 0h0m23 0h0m28 0h0m-156 1h0m10 0h0m29 0h0m11 0h0m24 0h0m36 0h0m-134 1h0m10 0h0m35 0h0m63 0h0m22 0h0m2 0h0m-140 1h0m5 0h0m8 0h0m13 0h0m12 0h0m16 0h0m35 0h0m3 0h0m19 0h0m-97 1h0m37 0h0m111 0h0m-160 1h0m15 0h0m52 0h0m14 0h0m19 0h0m62 0h0m23 0h0m7 0h0m-185 1h0m16 0h0m15 0h0m31 0h0m57 0h0m3 0h0m14 0h0m20 0h0m27 0h0m1 0h0m-136 1h0m8 0h0m13 0h0m51 0h0m5 0h0m24 0h0m21 0h0m6 0h0m-181 1h0m1 0h0m17 0h0m4 0h0m5 0h0m88 0h0m20 0h0m19 0h0m29 0h0m-187 1h0m17 0h0m20 0h0m22 0h0m17 0h0m114 0h0m-191 1h0m29 0h0m15 0h0m2 0h0m23 0h0m50 0h0m-102 1h0m63 0h0m15 0h0m39 0h0m27 0h0m21 0h0m-131 1h0m38 0h0m10 0h0m53 0h0m-85 1h0m8 0h0m6 0h0m2 0h0m13 0h0m-93 1h0m49 0h0m83 0h0m38 0h0m-94 1h0m1 0h0m51 0h0m5 0h0m24 0h0m10 0h0m-163 1h0m97 0h0m79 0h0m7 0h0m-171 1h0m11 0h0m90 0h0m46 0h0m22 0h0m-135 1h0m16 0h0m31 0h0m83 0h0m-167 1h0m25 0h0m19 0h0m6 0h0m3 0h0m31 0h0m-93 1h0m33 0h0m40 0h0m4 0h0m39 0h0m4 0h0m7 0h0m-112 1h0m47 0h0m83 0h0m26 0h0m-174 1h0m19 0h0m22 0h0m32 0h0m20 0h0m18 0h0m80 0h0m-198 1h0m16 0h0m15 0h0m13 0h0m49 0h0m14 0h0m8 0h0m26 0h0m-133 1h0m95 0h0m33 0h0m25 0h0m39 0h0m-161 1h0m15 0h0m8 0h0m-60 1h0m32 0h0m39 0h0m43 0h0m68 0h0m13 0h0m-136 1h0m22 0h0m66 0h0m-149 1h0m54 0h0m2 0h0m19 0h0m23 0h0m39 0h0m63 0h0m-185 1h0m11 0h0m10 0h0m49 0h0m15 0h0m8 0h0m45 0h0m-119 1h0m10 0h0m10 0h0m49 0h0m45 0h0m35 0h0m14 0h0m-196 1h0m16 0h0m127 0h0m28 0h0m-72 1h0m43 0h0m-122 1h0m5 0h0m47 0h0m3 0h0m49 0h0m1 0h0m38 0h0m-164 1h0m6 0h0m71 0h0m4 0h0m45 0h0m31 0h0m23 0h0m-42 1h0m3 0h0m21 0h0m18 0h0m-172 1h0m30 0h0m5 0h0m83 0h0m-81 1h0m27 0h0m9 0h0m8 0h0m5 0h0m2 0h0m19 0h0m8 0h0m4 0h0m73 0h0m-199 1h0m4 0h0m8 0h0m1 0h0m4 0h0m37 0h0m21 0h0m28 0h0m1 0h0m22 0h0m-71 1h0m11 0h0m60 0h0m32 0h0m35 0h0m-189 1h0m60 0h0m14 0h0m32 0h0m36 0h0m-139 1h0m58 0h0m7 0h0m20 0h0m2 0h0m2 0h0m12 0h0m8 0h0m13 0h0m18 0h0m-148 1h0m34 0h0m15 0h0m1 0h0m8 0h0m-52 1h0m27 0h0m6 0h0m31 0h0m37 0h0m65 0h0m-95 1h0m44 0h0m56 0h0m3 0h0m13 0h0m-187 1h0m3 0h0m57 0h0m7 0h0m33 0h0m16 0h0m13 0h0m58 0h0m-125 1h0m76 0h0m28 0h0m1 0h0m7 0h0m-95 1h0m57 0h0m12 0h0m2 0h0m6 0h0m14 0h0m16 0h0m-164 1h0m4 0h0m1 0h0m56 0h0m102 0h0m-167 1h0m48 0h0m12 0h0m41 0h0m1 0h0m18 0h0m40 0h0m13 0h0m-184 1h0m3 0h0m37 0h0m9 0h0m119 0h0m-181 1h0m117 0h0m2 0h0m3 0h0m-111 1h0m1 0h0m44 0h0m13 0h0m3 0h0m27 0h0m5 0h0m43 0h0m18 0h0m26 0h0m9 0h0m-144 1h0m24 0h0m11 0h0m6 0h0m60 0h0m-129 1h0m2 0h0m25 0h0m86 0h0m30 0h0m14 0h0m5 0h0m5 0h0m-132 1h0m56 0h0m14 0h0m25 0h0m-152 1h0m18 0h0m8 0h0m21 0h0m35 0h0m42 0h0m15 0h0m13 0h0m34 0h0m-187 1h0m40 0h0m3 0h0m-47 1h0m12 0h0m1 0h0m54 0h0m5 0h0m12 0h0m47 0h0m36 0h0m19 0h0m2 0h0m-179 1h0m20 0h0m34 0h0m40 0h0m4 0h0m22 0h0m17 0h0m8 0h0m2 0h0m8 0h0m17 0h0m13 0h0m3 0h0m-168 1h0m20 0h0m5 0h0m41 0h0m79 0h0m7 0h0m-181 2h0m5 0h0m8 0h0m35 0h0m14 0h0m59 0h0m55 0h0m-138 1h0m55 0h0m26 0h0m30 0h0m-121 1h0m37 0h0m102 0h0m-112 1h0m63 0h0m9 0h0m5 0h0m53 0h0m9 0h0m-168 1h0m26 0h0m9 0h0m5 0h0m7 0h0m28 0h0m60 0h0m1 0h0m32 0h0m-194 1h0m14 0h0m45 0h0m16 0h0m1 0h0m48 0h0m41 0h0m3 0h0m24 0h0m8 0h0m-168 1h0m8 0h0m52 0h0m12 0h0m10 0h0m36 0h0m21 0h0m-166 1h0m28 0h0m22 0h0m24 0h0m23 0h0m36 0h0m1 0h0m53 0h0m-138 1h0m39 0h0m17 0h0m34 0h0m31 0h0m13 0h0m-178 1h0m7 0h0m48 0h0m36 0h0m5 0h0m1 0h0m49 0h0m41 0h0m-158 1h0m8 0h0m2 0h0m36 0h0m6 0h0m21 0h0m72 0h0m5 0h0m-191 1h0m30 0h0m86 0h0m43 0h0m13 0h0m-172 1h0m40 0h0m26 0h0m16 0h0m15 0h0m19 0h0m10 0h0m9 0h0m-128 1h0m6 0h0m16 0h0m25 0h0m41 0h0m76 0h0m18 0h0m-184 1h0m41 0h0m2 0h0m53 0h0m2 0h0m34 0h0m46 0h0m-167 1h0m8 0h0m9 0h0m16 0h0m44 0h0m41 0h0m53 0h0m7 0h0m-164 1h0m8 0h0m11 0h0m5 0h0m45 0h0m31 0h0m9 0h0m44 0h0m6 0h0m-177 1h0m73 0h0m22 0h0m27 0h0m36 0h0m23 0h0m3 0h0m-187 1h0m24 0h0m4 0h0m9 0h0m17 0h0m17 0h0m-13 1h0m13 0h0m32 0h0m67 0h0m-163 1h0m42 0h0m30 0h0m5 0h0m76 0h0m15 0h0m-167 1h0m12 0h0m8 0h0m4 0h0m53 0h0m74 0h0m4 0h0m2 0h0m2 0h0m24 0h0m-197 1h0m49 0h0m13 0h0m3 0h0m7 0h0m30 0h0m-78 1h0m28 0h0m75 0h0m21 0h0m23 0h0m8 0h0m-165 1h0m82 0h0m28 0h0m20 0h0m34 0h0m3 0h0m-78 1h0m26 0h0m46 0h0m-158 1h0m6 0h0m52 0h0m38 0h0m10 0h0m-122 1h0m1 0h0m5 0h0m30 0h0m21 0h0m5 0h0m1 0h0m64 0h0m32 0h0m-56 1h0m22 0h0m15 0h0m52 0h0m-171 1h0m25 0h0m8 0h0m25 0h0m62 0h0m3 0h0m-112 1h0m42 0h0m72 0h0m18 0h0m5 0h0m-137 1h0m2 0h0m1 0h0m29 0h0m30 0h0m42 0h0m28 0h0m23 0h0m-162 1h0m4 0h0m49 0h0m9 0h0m20 0h0m27 0h0m21 0h0m-158 1h0m69 0h0m20 0h0m83 0h0m5 0h0m-144 1h0m45 0h0m40 0h0m9 0h0m20 0h0m4 0h0m3 0h0m-153 1h0m13 0h0m26 0h0m5 0h0m17 0h0m35 0h0m26 0h0m75 0h0m-199 1h0m68 0h0m41 0h0m19 0h0m-7 1h0m46 0h0m-136 1h0m13 0h0m22 0h0m23 0h0m7 0h0m13 0h0m7 0h0m4 0h0m11 0h0m1 0h0m-120 1h0m4 0h0m20 0h0m4 0h0m142 0h0m-134 1h0m73 0h0m3 0h0m73 0h0m-194 1h0m65 0h0m24 0h0m49 0h0m10 0h0m21 0h0m22 0h0m-139 1h0m18 0h0m13 0h0m21 0h0m19 0h0m38 0h0m-162 1h0m8 0h0m33 0h0m3 0h0m43 0h0m20 0h0m39 0h0m-118 1h0m2 0h0m68 0h0m13 0h0m36 0h0m8 0h0m10 0h0m5 0h0m3 0h0m-142 1h0m1 0h0m83 0h0m43 0h0m11 0h0m3 0h0m10 0h0m-169 1h0m11 0h0m6 0h0m4 0h0m34 0h0m18 0h0m15 0h0m8 0h0m18 0h0m32 0h0m38 0h0m-189 1h0m52 0h0m18 0h0m10 0h0m17 0h0m39 0h0m9 0h0m15 0h0m-160 1h0m140 0h0m-129 1h0m24 0h0m9 0h0m45 0h0m14 0h0m46 0h0m7 0h0m10 0h0m18 0h0m4 0h0m-159 1h0m37 0h0m66 0h0m5 0h0m46 0h0m3 0h0m-169 1h0m17 0h0m21 0h0m17 0h0m17 0h0m58 0h0m31 0h0m-173 1h0m13 0h0m20 0h0m51 0h0m51 0h0m-149 1h0m11 0h0m19 0h0m77 0h0m20 0h0m-128 1h0m24 0h0m8 0h0m86 0h0m65 0h0m-122 1h0m8 0h0m16 0h0m24 0h0m90 0h0m-190 1h0m138 0h0m21 0h0"/>
</g>
<g transform="scale(.5)" filter="url(#sb3)">
<path fill="none" stroke="#5e4888" stroke-opacity="0.35" stroke-width="3.6" stroke-linecap="square" d="M719 602h0m24 1h0m-103 1h0m88 0h0m-94 1h0m82 0h0m12 0h0m1 0h0m-49 1h0m35 0h0m6 0h0m9 0h0m5 0h0m4 0h0m3 0h0m-107 1h0m2 0h0m12 0h0m64 0h0m7 0h0m7 0h0m6 0h0m15 0h0m-109 1h0m79 0h0m3 0h0m20 0h0m-109 1h0m97 0h0m5 0h0m3 0h0m-3 1h0m8 0h0m-104 1h0m19 0h0m59 0h0m6 0h0m4 0h0m11 0h0m-93 1h0m72 0h0m6 0h0m7 0h0m6 0h0m7 0h0m4 0h0m-108 1h0m4 0h0m73 0h0m6 0h0m2 0h0m2 0h0m5 0h0m5 0h0m2 0h0m1 0h0m3 0h0m6 0h0m1 0h0m-28 1h0m2 0h0m10 0h0m3 0h0m2 0h0m1 0h0m4 0h0m8 0h0m-116 1h0m12 0h0m5 0h0m3 0h0m73 0h0m5 0h0m2 0h0m2 0h0m8 0h0m2 0h0m-116 1h0m9 0h0m87 0h0m4 0h0m6 0h0m7 0h0m1 0h0m9 0h0m-122 1h0m7 0h0m4 0h0m5 0h0m70 0h0m1 0h0m4 0h0m7 0h0m4 0h0m1 0h0m4 0h0m2 0h0m8 0h0m4 0h0m-124 1h0m14 0h0m10 0h0m67 0h0m3 0h0m3 0h0m3 0h0m1 0h0m4 0h0m1 0h0m1 0h0m2 0h0m1 0h0m2 0h0m1 0h0m3 0h0m8 0h0m-124 1h0m5 0h0m1 0h0m2 0h0m8 0h0m7 0h0m21 0h0m48 0h0m5 0h0m2 0h0m3 0h0m1 0h0m2 0h0m2 0h0m1 0h0m3 0h0m1 0h0m12 0h0m-120 1h0m8 0h0m3 0h0m8 0h0m4 0h0m68 0h0m2 0h0m2 0h0m3 0h0m2 0h0m3 0h0m4 0h0m8 0h0m-109 1h0m5 0h0m21 0h0m56 0h0m2 0h0m6 0h0m5 0h0m3 0h0m2 0h0m2 0h0m2 0h0m6 0h0m1 0h0m-45 1h0m6 0h0m3 0h0m1 0h0m9 0h0m3 0h0m13 0h0m7 0h0m8 0h0m-137 1h0m20 0h0m5 0h0m16 0h0m50 0h0m5 0h0m1 0h0m5 0h0m7 0h0m8 0h0m1 0h0m4 0h0m9 0h0m1 0h0m-117 1h0m9 0h0m4 0h0m2 0h0m11 0h0m57 0h0m5 0h0m3 0h0m2 0h0m3 0h0m2 0h0m2 0h0m2 0h0m2 0h0m2 0h0m5 0h0m6 0h0m-114 1h0m1 0h0m1 0h0m5 0h0m2 0h0m1 0h0m85 0h0m4 0h0m10 0h0m-125 1h0m2 0h0m5 0h0m1 0h0m3 0h0m11 0h0m3 0h0m8 0h0m80 0h0m1 0h0m1 0h0m1 0h0m1 0h0m1 0h0m2 0h0m9 0h0m-127 1h0m9 0h0m4 0h0m1 0h0m11 0h0m1 0h0m8 0h0m2 0h0m66 0h0m1 0h0m2 0h0m4 0h0m3 0h0m2 0h0m-109 1h0m1 0h0m11 0h0m1 0h0m78 0h0m15 0h0m2 0h0m14 0h0m-125 1h0m5 0h0m2 0h0m1 0h0m6 0h0m1 0h0m1 0h0m8 0h0m5 0h0m8 0h0m65 0h0m1 0h0m2 0h0m13 0h0m-122 1h0m1 0h0m7 0h0m10 0h0m2 0h0m6 0h0m5 0h0m29 0h0m5 0h0m41 0h0m1 0h0m9 0h0m7 0h0m-113 1h0m7 0h0m2 0h0m4 0h0m1 0h0m4 0h0m2 0h0m1 0h0m7 0h0m72 0h0m3 0h0m6 0h0m-110 1h0m4 0h0m5 0h0m1 0h0m5 0h0m4 0h0m2 0h0m5 0h0m64 0h0m4 0h0m9 0h0m-104 1h0m4 0h0m8 0h0m1 0h0m2 0h0m1 0h0m4 0h0m4 0h0m4 0h0m11 0h0m57 0h0m-89 1h0m3 0h0m3 0h0m1 0h0m4 0h0m4 0h0m6 0h0m30 0h0m37 0h0m1 0h0m15 0h0m3 0h0m-118 1h0m3 0h0m1 0h0m4 0h0m1 0h0m2 0h0m1 0h0m15 0h0m12 0h0m20 0h0m-62 1h0m16 0h0m2 0h0m1 0h0m3 0h0m12 0h0m1 0h0m10 0h0m13 0h0m4 0h0m40 0h0m20 0h0m-99 1h0m11 0h0m-25 1h0m3 0h0m2 0h0m1 0h0m5 0h0m4 0h0m1 0h0m10 0h0m16 0h0m2 0h0m-38 1h0m4 0h0m10 0h0m16 0h0m44 0h0m8 0h0m4 0h0m3 0h0m-75 1h0m15 0h0m19 0h0m43 0h0m9 0h0m-93 1h0m6 0h0m4 0h0m9 0h0m5 0h0m19 0h0m8 0h0m41 0h0m-120 1h0m9 0h0m34 0h0m14 0h0m5 0h0m51 0h0m10 0h0m3 0h0m-93 1h0m9 0h0m19 0h0m1 0h0m18 0h0m38 0h0m14 0h0m-123 1h0m4 0h0m16 0h0m13 0h0m14 0h0m4 0h0m4 0h0m22 0h0m17 0h0m5 0h0m17 0h0m-94 1h0m1 0h0m7 0h0m1 0h0m3 0h0m18 0h0m4 0h0m8 0h0m1 0h0m34 0h0m2 0h0m3 0h0m7 0h0m-100 1h0m14 0h0m2 0h0m3 0h0m25 0h0m1 0h0m6 0h0m9 0h0m5 0h0m27 0h0m1 0h0m10 0h0m2 0h0m-104 1h0m3 0h0m14 0h0m2 0h0m7 0h0m9 0h0m5 0h0m3 0h0m1 0h0m12 0h0m20 0h0m-65 1h0m21 0h0m5 0h0m1 0h0m1 0h0m3 0h0m6 0h0m8 0h0m51 0h0m-104 1h0m3 0h0m35 0h0m2 0h0m40 0h0m6 0h0m8 0h0m-64 1h0m2 0h0m1 0h0m1 0h0m13 0h0m32 0h0m11 0h0m-65 1h0m1 0h0m4 0h0m5 0h0m5 0h0m1 0h0m5 0h0m12 0h0m28 0h0m8 0h0m7 0h0m-98 1h0m5 0h0m18 0h0m57 0h0m8 0h0m-66 1h0m12 0h0m45 0h0m2 0h0m4 0h0m7 0h0m1 0h0m-94 1h0m32 0h0m5 0h0m1 0h0m1 0h0m17 0h0m16 0h0m8 0h0m4 0h0m4 0h0m11 0h0m4 0h0m-72 1h0m5 0h0m1 0h0m1 0h0m4 0h0m1 0h0m1 0h0m29 0h0m3 0h0m10 0h0m1 0h0m1 0h0m2 0h0m-56 1h0m3 0h0m9 0h0m5 0h0m3 0h0m21 0h0m1 0h0m9 0h0m1 0h0m3 0h0m-65 1h0m1 0h0m4 0h0m5 0h0m3 0h0m9 0h0m1 0h0m3 0h0m4 0h0m11 0h0m12 0h0m6 0h0m4 0h0m-68 1h0m34 0h0m49 0h0m-80 1h0m7 0h0m2 0h0m14 0h0m1 0h0m14 0h0m4 0h0m22 0h0m2 0h0m13 0h0m-76 1h0m4 0h0m16 0h0m4 0h0m6 0h0m5 0h0m17 0h0m6 0h0m2 0h0m1 0h0m4 0h0m2 0h0m3 0h0m-55 1h0m13 0h0m14 0h0m14 0h0m7 0h0m5 0h0m7 0h0m1 0h0m-77 1h0m8 0h0m1 0h0m1 0h0m10 0h0m39 0h0m2 0h0m2 0h0m3 0h0m15 0h0m-90 1h0m4 0h0m10 0h0m1 0h0m2 0h0m6 0h0m6 0h0m25 0h0m9 0h0m4 0h0m2 0h0m8 0h0m1 0h0m3 0h0m-61 1h0m8 0h0m3 0h0m30 0h0m1 0h0m4 0h0m2 0h0m5 0h0m6 0h0m4 0h0m2 0h0m-76 1h0m16 0h0m9 0h0m4 0h0m9 0h0m19 0h0m8 0h0m1 0h0m1 0h0m-66 1h0m15 0h0m5 0h0m3 0h0m1 0h0m23 0h0m3 0h0m7 0h0m1 0h0m6 0h0m6 0h0m1 0h0m-72 1h0m53 0h0m8 0h0m11 0h0m8 0h0m-79 1h0m12 0h0m3 0h0m1 0h0m26 0h0m14 0h0m6 0h0m17 0h0m-83 1h0m30 0h0m29 0h0m10 0h0m-71 1h0m7 0h0m19 0h0m1 0h0m2 0h0m22 0h0m3 0h0m7 0h0m3 0h0m4 0h0m1 0h0m5 0h0m2 0h0m-65 1h0m7 0h0m2 0h0m2 0h0m5 0h0m29 0h0m2 0h0m11 0h0m13 0h0m-79 1h0m21 0h0m3 0h0m25 0h0m3 0h0m2 0h0m11 0h0m7 0h0m-62 1h0m1 0h0m24 0h0m19 0h0m7 0h0m4 0h0m4 0h0m11 0h0m-89 1h0m14 0h0m3 0h0m6 0h0m1 0h0m1 0h0m1 0h0m1 0h0m39 0h0m3 0h0m14 0h0m-76 1h0m12 0h0m4 0h0m-6 1h0m13 0h0m45 0h0m-63 1h0m2 0h0m5 0h0m17 0h0m15 0h0m19 0h0m3 0h0m8 0h0m-65 1h0m47 0h0m6 0h0m6 0h0m14 1h0m-68 1h0m9 0h0m49 0h0m5 0h0m11 0h0m-77 1h0m41 0h0m13 0h0m6 0h0m5 0h0m1 0h0m6 0h0m-41 1h0m14 0h0m3 0h0m6 0h0m4 0h0m2 0h0m-65 1h0m41 1h0m-50 1h0m5 0h0m60 0h0m-45 1h0m64 0h0m-69 1h0m17 0h0m31 0h0m8 0h0m19 0h0m-39 2h0m11 1h0m4 0h0m-6 2h0m14 1h0m1 1h0m-31 1h0m-16 1h0m54 1h0m-6 1h0m-16 2h0m16 0h0m-64 1h0m62 0h0m-5 3h0m1 0h0m16 0h0m-52 1h0m40 0h0m6 0h0m3 0h0m3 0h0m11 0h0m-38 1h0m15 0h0m-5 1h0m4 0h0m22 0h0m-28 1h0m16 0h0m-17 1h0m14 0h0m13 0h0m-77 1h0m15 0h0m34 0h0m6 0h0m1 0h0m8 0h0m2 0h0m4 0h0m10 0h0m-80 1h0m41 0h0m5 0h0m1 0h0m9 0h0m-41 1h0m12 0h0m15 0h0m1 0h0m14 0h0m2 0h0m6 0h0m1 0h0m-60 1h0m9 0h0m31 0h0m10 0h0m8 0h0m2 0h0m-69 1h0m15 0h0m5 0h0m30 0h0m6 0h0m2 0h0m3 0h0m2 0h0m2 0h0m3 0h0m3 0h0m2 0h0m1 0h0m-49 1h0m4 0h0m12 0h0m3 0h0m8 0h0m3 0h0m3 0h0m1 0h0m8 0h0m10 0h0m4 0h0m-80 1h0m2 0h0m8 0h0m6 0h0m4 0h0m2 0h0m1 0h0m18 0h0m16 0h0m3 0h0m1 0h0m5 0h0m-73 1h0m13 0h0m6 0h0m45 0h0m3 0h0m11 0h0m5 0h0m1 0h0m5 0h0m-65 1h0m23 0h0m4 0h0m14 0h0m1 0h0m1 0h0m2 0h0m1 0h0m4 0h0m3 0h0m3 0h0m-69 1h0m15 0h0m5 0h0m3 0h0m10 0h0m6 0h0m15 0h0m1 0h0m14 0h0m-74 1h0m10 0h0m2 0h0m9 0h0m8 0h0m7 0h0m2 0h0m10 0h0m6 0h0m2 0h0m9 0h0m1 0h0m2 0h0m2 0h0m-72 1h0m11 0h0m1 0h0m4 0h0m1 0h0m4 0h0m3 0h0m4 0h0m4 0h0m15 0h0m7 0h0m1 0h0m3 0h0m9 0h0m4 0h0m-61 1h0m3 0h0m7 0h0m4 0h0m5 0h0m28 0h0m11 0h0m4 0h0m10 0h0m7 0h0m-85 1h0m8 0h0m5 0h0m2 0h0m9 0h0m26 0h0m7 0h0m1 0h0m2 0h0m6 0h0m2 0h0m13 0h0m-84 1h0m7 0h0m13 0h0m8 0h0m17 0h0m19 0h0m7 0h0m-69 1h0m4 0h0m3 0h0m2 0h0m7 0h0m2 0h0m1 0h0m11 0h0m3 0h0m11 0h0m7 0h0m7 0h0m4 0h0m3 0h0m5 0h0m1 0h0m-61 1h0m2 0h0m1 0h0m1 0h0m8 0h0m2 0h0m1 0h0m4 0h0m27 0h0m4 0h0m4 0h0m20 0h0m-87 1h0m10 0h0m1 0h0m1 0h0m2 0h0m5 0h0m5 0h0m4 0h0m1 0h0m7 0h0m24 0h0m7 0h0m1 0h0m6 0h0m-60 1h0m1 0h0m4 0h0m5 0h0m5 0h0m4 0h0m3 0h0m11 0h0m6 0h0m5 0h0m13 0h0m5 0h0m-61 1h0m6 0h0m1 0h0m6 0h0m6 0h0m1 0h0m2 0h0m21 0h0m4 0h0m3 0h0m5 0h0m5 0h0m-72 1h0m4 0h0m6 0h0m3 0h0m3 0h0m1 0h0m17 0h0m4 0h0m7 0h0m11 0h0m9 0h0m6 0h0m5 0h0m1 0h0m-66 1h0m1 0h0m4 0h0m2 0h0m15 0h0m32 0h0m-58 1h0m5 0h0m3 0h0m4 0h0m36 0h0m1 0h0m13 0h0m1 0h0m6 0h0m-73 1h0m13 0h0m1 0h0m1 0h0m2 0h0m1 0h0m3 0h0m2 0h0m9 0h0m-34 1h0m7 0h0m1 0h0m2 0h0m2 0h0m7 0h0m2 0h0m36 0h0m2 0h0m5 0h0m10 0h0m-71 1h0m3 0h0m2 0h0m1 0h0m3 0h0m3 0h0m11 0h0m39 0h0m4 0h0m2 0h0m7 0h0m-79 1h0m14 0h0m4 0h0m17 0h0m30 0h0m19 0h0m-75 1h0m16 0h0m24 0h0m11 0h0m20 0h0m-74 1h0m3 0h0m1 0h0m11 0h0m1 0h0m2 0h0m40 0h0m1 0h0m6 0h0m-71 1h0m9 0h0m11 0h0m2 0h0m31 0h0m3 0h0m7 0h0m-60 1h0m2 0h0m6 0h0m3 0h0m5 0h0m23 0h0m17 0h0m-59 1h0m8 0h0m6 0h0m5 0h0m6 0h0m34 0h0m8 0h0m-64 1h0m2 0h0m20 0h0m4 0h0m-5 1h0m1 0h0m9 0h0m16 0h0m6 0h0m20 0h0m-64 1h0m14 0h0m12 0h0m-18 1h0m14 0h0m-16 1h0m13 0h0m38 0h0m-59 2h0m17 2h0m-8 1h0m1 0h0m-11 5h0"/>
</g>
<g transform="scale(.5)" filter="url(#sb2)">
<path fill="none" stroke="#5a4070" stroke-opacity="0.25" stroke-width="2.6" stroke-linecap="square" d="M669 601h0m9 0h0m-45 1h0m35 0h0m-62 1h0m3 0h0m65 0h0m47 0h0m-119 1h0m11 0h0m31 0h0m85 0h0m-109 1h0m167 0h0m-191 1h0m7 0h0m37 0h0m11 0h0m54 0h0m32 0h0m-130 2h0m24 1h0m26 0h0m10 0h0m28 0h0m-5 1h0m86 0h0m-144 1h0m88 0h0m-83 1h0m17 0h0m48 0h0m15 0h0m-37 1h0m22 0h0m26 0h0m-122 1h0m50 0h0m-44 1h0m13 0h0m169 0h0m-167 1h0m61 0h0m55 0h0m4 0h0m42 0h0m-91 1h0m-86 1h0m20 0h0m27 0h0m97 0h0m24 0h0m-155 1h0m2 0h0m24 0h0m64 0h0m17 0h0m25 0h0m-137 1h0m42 0h0m5 0h0m11 0h0m7 0h0m45 0h0m8 0h0m2 0h0m30 0h0m-148 1h0m99 0h0m37 0h0m-163 1h0m134 0h0m35 0h0m-22 1h0m17 0h0m-137 1h0m71 0h0m35 0h0m19 0h0m-4 1h0m-130 1h0m12 0h0m4 0h0m24 0h0m37 0h0m-68 1h0m12 0h0m32 1h0m123 0h0m-142 1h0m65 0h0m63 0h0m5 0h0m-39 1h0m33 0h0m4 0h0m-62 1h0m50 0h0m-147 1h0m50 0h0m80 0h0m21 0h0m-149 1h0m88 0h0m-86 1h0m5 0h0m21 0h0m11 0h0m30 0h0m45 0h0m4 0h0m3 0h0m10 0h0m-74 1h0m19 0h0m13 0h0m26 0h0m-109 1h0m14 0h0m2 0h0m61 0h0m55 0h0m-155 1h0m34 0h0m-11 1h0m46 0h0m20 0h0m22 0h0m19 0h0m7 0h0m48 0h0m-39 1h0m6 0h0m-143 1h0m39 0h0m56 0h0m2 0h0m75 0h0m1 0h0m-110 1h0m61 1h0m37 0h0m-117 1h0m5 0h0m55 0h0m50 0h0m-116 1h0m6 0h0m22 0h0m17 0h0m-71 1h0m-25 1h0m154 0h0m30 0h0m-150 1h0m19 0h0m22 0h0m-81 1h0m23 0h0m109 0h0m4 0h0m-29 1h0m23 0h0m-32 1h0m55 0h0m-74 1h0m10 1h0m26 2h0m63 0h0m-160 2h0m99 0h0m62 0h0m-150 1h0m20 0h0m2 0h0m-8 1h0m21 0h0m44 0h0m19 0h0m-54 1h0m5 0h0m41 0h0m3 0h0m7 0h0m31 1h0m-24 1h0m19 0h0m20 0h0m-130 1h0m89 0h0m-80 1h0m34 0h0m-8 1h0m8 0h0m13 0h0m47 0h0m-3 1h0m47 0h0m-42 1h0m20 0h0m4 0h0m-125 1h0m131 0h0m1 0h0m-154 1h0m57 0h0m11 0h0m92 0h0m7 0h0m-139 1h0m84 0h0m21 0h0m27 0h0m-185 1h0m18 0h0m23 0h0m86 0h0m41 0h0m-41 1h0m12 0h0m47 0h0m-128 1h0m29 0h0m80 0h0m-145 1h0m35 0h0m27 0h0m7 0h0m1 0h0m94 0h0m-131 1h0m3 0h0m64 0h0m3 0h0m34 0h0m-18 1h0m-66 1h0m28 0h0m63 0h0m2 0h0m-165 1h0m17 0h0m130 0h0m-150 1h0m73 0h0m15 0h0m8 0h0m49 0h0m-44 1h0m7 0h0m-57 1h0m12 0h0m4 0h0m34 0h0m80 0h0m-153 2h0m69 0h0m69 0h0m18 0h0m-64 1h0m74 0h0m-24 1h0m-94 1h0m100 1h0m7 0h0m9 0h0m-164 1h0m11 0h0m29 0h0m11 0h0m21 0h0m24 0h0m40 0h0m31 0h0m-142 1h0m5 0h0m-59 2h0m1 0h0m30 1h0m108 0h0m-132 1h0m40 0h0m53 0h0m23 0h0m8 0h0m47 0h0m11 0h0m-165 1h0m3 0h0m22 0h0m80 0h0m3 0h0m9 0h0m10 0h0m9 0h0m-33 1h0m56 0h0m-157 1h0m99 0h0m75 0h0m-195 1h0m89 0h0m31 0h0m6 0h0m21 0h0m30 0h0m-172 1h0m148 0h0m18 0h0m-64 1h0m64 0h0m-150 1h0m10 0h0m17 0h0m7 0h0m77 0h0m-52 1h0m4 0h0m39 0h0m-19 1h0m88 0h0m-135 1h0m22 0h0m108 0h0m-21 1h0m-128 1h0m14 0h0m94 0h0m-120 1h0m115 0h0m51 0h0m-100 1h0m7 1h0m42 0h0m-101 1h0m59 0h0m35 0h0m10 0h0m25 0h0m13 0h0m-167 1h0m21 0h0m32 0h0m34 0h0m24 0h0m34 0h0m-46 1h0m-22 1h0m48 0h0m-127 1h0m61 0h0m28 0h0m23 0h0m-120 1h0m21 0h0m8 0h0m57 0h0m-48 1h0m4 0h0m42 0h0m20 0h0m19 1h0m4 1h0m4 0h0m16 0h0m-27 1h0m-122 1h0m94 0h0m-36 1h0m20 0h0m8 0h0m21 0h0m-111 1h0m83 0h0m68 0h0m-156 1h0m9 0h0m84 0h0m31 0h0m-72 1h0m75 0h0m28 0h0m-9 1h0m-116 1h0m16 0h0m57 0h0m11 0h0m10 1h0m18 0h0m8 0h0m47 0h0m-123 1h0m96 0h0m-160 1h0m161 0h0m3 0h0m-59 1h0m39 0h0m-138 1h0m157 0h0m9 0h0m-130 1h0m6 0h0m40 1h0m99 0h0m-72 1h0m40 0h0m-106 1h0m26 0h0m6 0h0m3 0h0m-7 1h0m100 0h0m-166 1h0m-16 1h0m67 0h0m62 0h0m55 0h0m-175 1h0m28 0h0m49 0h0m58 0h0m7 0h0m24 0h0m5 0h0m-107 1h0m5 0h0m42 0h0m63 0h0m-182 1h0m69 0h0m44 0h0m9 0h0m17 0h0m-53 1h0m-78 1h0m7 0h0m35 0h0m44 0h0m5 0h0m71 0h0m21 0h0m-172 1h0m60 0h0m11 0h0m19 0h0m77 0h0m-188 1h0m29 0h0m93 0h0m10 1h0m34 0h0m-145 1h0m16 0h0m30 0h0m108 0h0m-149 1h0m3 0h0m24 0h0m28 0h0m61 0h0m44 0h0m-185 1h0m14 0h0m40 0h0m10 0h0m85 0h0m39 0h0m-137 1h0m5 0h0m43 0h0m16 0h0m18 0h0m9 0h0m33 0h0m4 0h0m-162 1h0m21 0h0m61 0h0m44 0h0m10 0h0m-84 1h0m115 0h0m-107 1h0m99 0h0m-174 1h0m26 0h0m8 0h0m57 0h0m-73 1h0m26 0h0m-12 1h0m110 0h0m4 0h0m-104 1h0m-47 1h0m34 0h0"/>
</g>
<path d="M297 366 Q300.5 371 302.5 378 L300.5 378 Q299 373 297 370Z" fill="#ece598"/>
<path d="M297 372 Q299 375 300 378 L297 378Z" fill="#222018"/>
</g>
<g clip-path="url(#ch)">
<rect x="413.6" y="300.1" width="105" height="77.8" fill="#dc9482"/>
<g filter="url(#b6)">
<ellipse cx="444" cy="323" rx="22" ry="18" fill="#f8cc9e" fill-opacity="0.85"/>
<ellipse cx="440" cy="312" rx="26" ry="10" fill="#eab094" fill-opacity="0.5"/>
<ellipse cx="505" cy="365" rx="20" ry="14" fill="#c8786c" fill-opacity="0.35"/>
<ellipse cx="418" cy="362" rx="8" ry="16" fill="#c87468" fill-opacity="0.5"/>
<ellipse cx="470" cy="378" rx="40" ry="4" fill="#c07068" fill-opacity="0.5"/>
</g>
<g transform="scale(.5)" filter="url(#sb2)">
<path fill="none" stroke="#fcc0a0" stroke-opacity="0.55" stroke-width="3.6" stroke-linecap="square" d="M836 600h0m50 0h0m20 0h0m47 0h0m-122 1h0m9 0h0m6 0h0m28 0h0m2 0h0m9 0h0m26 0h0m34 0h0m1 0h0m3 0h0m44 0h0m9 0h0m21 0h0m-135 1h0m23 0h0m16 0h0m19 0h0m4 0h0m3 0h0m10 0h0m24 0h0m-137 1h0m8 0h0m6 0h0m3 0h0m9 0h0m39 0h0m13 0h0m97 0h0m8 0h0m-176 1h0m24 0h0m14 0h0m56 0h0m12 0h0m23 0h0m-131 1h0m9 0h0m2 0h0m5 0h0m44 0h0m15 0h0m22 0h0m39 0h0m7 0h0m18 0h0m-154 1h0m31 0h0m10 0h0m17 0h0m9 0h0m20 0h0m8 0h0m35 0h0m2 0h0m1 0h0m34 0h0m5 0h0m-197 1h0m21 0h0m13 0h0m6 0h0m17 0h0m4 0h0m52 0h0m17 0h0m11 0h0m2 0h0m16 0h0m11 0h0m16 0h0m-191 1h0m9 0h0m10 0h0m17 0h0m35 0h0m19 0h0m22 0h0m17 0h0m15 0h0m8 0h0m13 0h0m3 0h0m12 0h0m-155 1h0m9 0h0m19 0h0m5 0h0m18 0h0m11 0h0m9 0h0m12 0h0m7 0h0m8 0h0m9 0h0m1 0h0m11 0h0m5 0h0m41 0h0m-191 1h0m1 0h0m27 0h0m2 0h0m75 0h0m2 0h0m50 0h0m16 0h0m3 0h0m8 0h0m12 0h0m-182 1h0m18 0h0m10 0h0m18 0h0m14 0h0m19 0h0m6 0h0m1 0h0m-96 1h0m3 0h0m2 0h0m26 0h0m5 0h0m26 0h0m15 0h0m85 0h0m20 0h0m5 0h0m-166 1h0m1 0h0m18 0h0m82 0h0m17 0h0m1 0h0m2 0h0m4 0h0m7 0h0m7 0h0m9 0h0m14 0h0m-178 1h0m17 0h0m15 0h0m10 0h0m6 0h0m3 0h0m3 0h0m54 0h0m65 0h0m11 0h0m5 0h0m-143 1h0m4 0h0m15 0h0m100 0h0m6 0h0m5 0h0m3 0h0m10 0h0m4 0h0m-187 1h0m27 0h0m6 0h0m26 0h0m51 0h0m-112 1h0m6 0h0m2 0h0m3 0h0m10 0h0m2 0h0m11 0h0m25 0h0m36 0h0m20 0h0m16 0h0m2 0h0m3 0h0m-136 1h0m18 0h0m3 0h0m27 0h0m8 0h0m2 0h0m27 0h0m22 0h0m2 0h0m27 0h0m10 0h0m-158 1h0m26 0h0m12 0h0m15 0h0m11 0h0m50 0h0m42 0h0m1 0h0m16 0h0m2 0h0m13 0h0m7 0h0m-187 1h0m19 0h0m17 0h0m14 0h0m7 0h0m35 0h0m27 0h0m15 0h0m51 0h0m7 0h0m-181 1h0m27 0h0m28 0h0m10 0h0m32 0h0m-100 1h0m24 0h0m19 0h0m18 0h0m5 0h0m32 0h0m28 0h0m12 0h0m44 0h0m6 0h0m-184 1h0m4 0h0m3 0h0m80 0h0m3 0h0m7 0h0m28 0h0m23 0h0m2 0h0m30 0h0m-199 1h0m45 0h0m21 0h0m59 0h0m7 0h0m19 0h0m2 0h0m29 0h0m-184 1h0m43 0h0m4 0h0m14 0h0m21 0h0m16 0h0m42 0h0m6 0h0m15 0h0m20 0h0m-184 1h0m3 0h0m9 0h0m24 0h0m2 0h0m10 0h0m27 0h0m50 0h0m18 0h0m7 0h0m1 0h0m3 0h0m25 0h0m6 0h0m14 0h0m-196 1h0m26 0h0m23 0h0m2 0h0m8 0h0m11 0h0m22 0h0m1 0h0m16 0h0m12 0h0m9 0h0m32 0h0m9 0h0m21 0h0m7 0h0m-202 1h0m9 0h0m32 0h0m31 0h0m9 0h0m25 0h0m18 0h0m5 0h0m22 0h0m1 0h0m19 0h0m4 0h0m16 0h0m3 0h0m-168 1h0m5 0h0m4 0h0m38 0h0m121 0h0m7 0h0m-191 1h0m25 0h0m31 0h0m5 0h0m10 0h0m13 0h0m89 0h0m9 0h0m6 0h0m-194 1h0m16 0h0m10 0h0m12 0h0m7 0h0m26 0h0m17 0h0m5 0h0m28 0h0m8 0h0m21 0h0m17 0h0m4 0h0m5 0h0m-135 1h0m23 0h0m37 0h0m17 0h0m12 0h0m19 0h0m1 0h0m9 0h0m14 0h0m3 0h0m2 0h0m6 0h0m5 0h0m5 0h0m-168 1h0m7 0h0m13 0h0m12 0h0m6 0h0m21 0h0m42 0h0m33 0h0m24 0h0m-158 1h0m21 0h0m2 0h0m3 0h0m2 0h0m7 0h0m50 0h0m1 0h0m69 0h0m-186 1h0m37 0h0m14 0h0m14 0h0m18 0h0m24 0h0m43 0h0m26 0h0m9 0h0m15 0h0m-198 1h0m8 0h0m8 0h0m38 0h0m1 0h0m30 0h0m19 0h0m56 0h0m12 0h0m-170 1h0m6 0h0m8 0h0m12 0h0m40 0h0m65 0h0m17 0h0m2 0h0m-106 1h0m1 0h0m2 0h0m3 0h0m29 0h0m10 0h0m5 0h0m57 0h0m6 0h0m8 0h0m23 0h0m10 0h0m-143 1h0m4 0h0m16 0h0m10 0h0m16 0h0m23 0h0m10 0h0m21 0h0m28 0h0m17 0h0m-202 1h0m11 0h0m30 0h0m59 0h0m3 0h0m48 0h0m-150 1h0m4 0h0m6 0h0m4 0h0m31 0h0m5 0h0m2 0h0m14 0h0m3 0h0m60 0h0m49 0h0m-126 1h0m9 0h0m13 0h0m17 0h0m9 0h0m11 0h0m2 0h0m17 0h0m20 0h0m24 0h0m-174 1h0m27 0h0m40 0h0m6 0h0m16 0h0m3 0h0m5 0h0m32 0h0m6 0h0m45 0h0m11 0h0m10 0h0m-194 1h0m1 0h0m57 0h0m24 0h0m4 0h0m19 0h0m7 0h0m3 0h0m14 0h0m28 0h0m-133 1h0m26 0h0m60 0h0m22 0h0m2 0h0m1 0h0m18 0h0m3 0h0m5 0h0m7 0h0m11 0h0m7 0h0m2 0h0m-192 1h0m2 0h0m16 0h0m4 0h0m18 0h0m6 0h0m12 0h0m5 0h0m12 0h0m11 0h0m15 0h0m33 0h0m7 0h0m4 0h0m4 0h0m-121 1h0m17 0h0m36 0h0m38 0h0m6 0h0m6 0h0m42 0h0m23 0h0m-182 1h0m13 0h0m19 0h0m46 0h0m7 0h0m14 0h0m54 0h0m5 0h0m11 0h0m-172 1h0m1 0h0m72 0h0m14 0h0m6 0h0m24 0h0m1 0h0m3 0h0m4 0h0m9 0h0m18 0h0m11 0h0m2 0h0m28 0h0m-187 1h0m19 0h0m1 0h0m39 0h0m26 0h0m23 0h0m37 0h0m5 0h0m-172 1h0m5 0h0m15 0h0m38 0h0m16 0h0m3 0h0m28 0h0m2 0h0m9 0h0m5 0h0m1 0h0m11 0h0m32 0h0m29 0h0m-176 1h0m19 0h0m7 0h0m15 0h0m1 0h0m33 0h0m17 0h0m35 0h0m31 0h0m9 0h0m2 0h0m-187 1h0m9 0h0m35 0h0m7 0h0m13 0h0m32 0h0m19 0h0m5 0h0m28 0h0m10 0h0m1 0h0m2 0h0m-127 1h0m1 0h0m4 0h0m24 0h0m7 0h0m5 0h0m16 0h0m18 0h0m42 0h0m26 0h0m-169 1h0m18 0h0m4 0h0m13 0h0m7 0h0m9 0h0m3 0h0m11 0h0m21 0h0m12 0h0m11 0h0m22 0h0m4 0h0m45 0h0m9 0h0m-170 1h0m9 0h0m24 0h0m14 0h0m8 0h0m8 0h0m75 0h0m17 0h0m10 0h0m-189 1h0m45 0h0m20 0h0m5 0h0m43 0h0m11 0h0m11 0h0m1 0h0m17 0h0m6 0h0m9 0h0m1 0h0m6 0h0m15 0h0m4 0h0m12 0h0m-200 1h0m1 0h0m8 0h0m11 0h0m1 0h0m10 0h0m35 0h0m6 0h0m1 0h0m38 0h0m4 0h0m3 0h0m1 0h0m9 0h0m17 0h0m4 0h0m1 0h0m-155 1h0m8 0h0m3 0h0m21 0h0m5 0h0m27 0h0m18 0h0m7 0h0m7 0h0m8 0h0m16 0h0m4 0h0m51 0h0m3 0h0m25 0h0m-205 1h0m1 0h0m78 0h0m8 0h0m8 0h0m41 0h0m2 0h0m4 0h0m7 0h0m24 0h0m15 0h0m3 0h0m2 0h0m-188 1h0m4 0h0m18 0h0m17 0h0m31 0h0m39 0h0m8 0h0m30 0h0m5 0h0m18 0h0m11 0h0m9 0h0m11 0h0m-192 1h0m6 0h0m30 0h0m6 0h0m9 0h0m36 0h0m30 0h0m41 0h0m23 0h0m-167 1h0m13 0h0m1 0h0m29 0h0m10 0h0m2 0h0m12 0h0m26 0h0m9 0h0m9 0h0m48 0h0m-176 1h0m23 0h0m21 0h0m1 0h0m10 0h0m6 0h0m5 0h0m12 0h0m21 0h0m1 0h0m20 0h0m11 0h0m64 0h0m-208 1h0m2 0h0m23 0h0m60 0h0m14 0h0m21 0h0m12 0h0m17 0h0m16 0h0m1 0h0m1 0h0m15 0h0m-182 1h0m31 0h0m4 0h0m40 0h0m3 0h0m2 0h0m52 0h0m26 0h0m12 0h0m12 0h0m-138 1h0m19 0h0m78 0h0m-106 1h0m17 0h0m28 0h0m10 0h0m1 0h0m2 0h0m32 0h0m54 0h0m-176 1h0m8 0h0m1 0h0m6 0h0m15 0h0m25 0h0m4 0h0m5 0h0m1 0h0m85 0h0m2 0h0m37 0h0m13 0h0m-190 1h0m42 0h0m11 0h0m56 0h0m37 0h0m3 0h0m19 0h0m-166 1h0m23 0h0m20 0h0m1 0h0m25 0h0m18 0h0m1 0h0m34 0h0m3 0h0m12 0h0m28 0h0m19 0h0m8 0h0m-209 1h0m4 0h0m8 0h0m2 0h0m36 0h0m20 0h0m2 0h0m26 0h0m90 0h0m3 0h0m7 0h0m7 0h0m-205 1h0m35 0h0m24 0h0m15 0h0m4 0h0m6 0h0m29 0h0m22 0h0m71 0h0m-203 1h0m36 0h0m23 0h0m8 0h0m48 0h0m-105 1h0m30 0h0m4 0h0m8 0h0m15 0h0m6 0h0m28 0h0m21 0h0m12 0h0m23 0h0m46 0h0m-204 1h0m32 0h0m4 0h0m19 0h0m5 0h0m9 0h0m1 0h0m22 0h0m22 0h0m4 0h0m42 0h0m1 0h0m18 0h0m24 0h0m-199 1h0m2 0h0m4 0h0m43 0h0m17 0h0m15 0h0m43 0h0m64 0h0m1 0h0m3 0h0m8 0h0m-177 1h0m16 0h0m1 0h0m6 0h0m37 0h0m28 0h0m29 0h0m21 0h0m11 0h0m19 0h0m2 0h0m-186 1h0m67 0h0m17 0h0m76 0h0m12 0h0m6 0h0m13 0h0m-164 1h0m44 0h0m6 0h0m39 0h0m4 0h0m6 0h0m1 0h0m5 0h0m12 0h0m37 0h0m7 0h0m-188 1h0m2 0h0m21 0h0m5 0h0m6 0h0m92 0h0m3 0h0m2 0h0m-129 1h0m57 0h0m38 0h0m2 0h0m20 0h0m1 0h0m9 0h0m12 0h0m1 0h0m26 0h0m13 0h0m3 0h0m2 0h0m-180 1h0m2 0h0m5 0h0m41 0h0m21 0h0m93 0h0m24 0h0m-178 1h0m35 0h0m4 0h0m5 0h0m43 0h0m5 0h0m6 0h0m9 0h0m27 0h0m2 0h0m36 0h0m5 0h0m-201 1h0m3 0h0m25 0h0m13 0h0m11 0h0m33 0h0m23 0h0m14 0h0m51 0h0m14 0h0m-158 1h0m32 0h0m57 0h0m42 0h0m7 0h0m1 0h0m4 0h0m-162 1h0m12 0h0m8 0h0m18 0h0m34 0h0m3 0h0m21 0h0m19 0h0m71 0h0m-200 1h0m69 0h0m7 0h0m30 0h0m17 0h0m12 0h0m14 0h0m9 0h0m9 0h0m5 0h0m11 0h0m-176 1h0m15 0h0m1 0h0m29 0h0m11 0h0m25 0h0m59 0h0m1 0h0m41 0h0m-172 1h0m37 0h0m132 0h0m-171 1h0m40 0h0m26 0h0m7 0h0m7 0h0m19 0h0m2 0h0m10 0h0m5 0h0m28 0h0m6 0h0m3 0h0m35 0h0m-190 1h0m4 0h0m6 0h0m10 0h0m17 0h0m29 0h0m16 0h0m2 0h0m38 0h0m59 0h0m2 0h0m6 0h0m-200 1h0m15 0h0m5 0h0m1 0h0m26 0h0m6 0h0m67 0h0m1 0h0m12 0h0m11 0h0m16 0h0m21 0h0m13 0h0m-180 1h0m23 0h0m17 0h0m12 0h0m15 0h0m16 0h0m48 0h0m12 0h0m1 0h0m11 0h0m-152 1h0m2 0h0m15 0h0m15 0h0m22 0h0m33 0h0m21 0h0m16 0h0m16 0h0m23 0h0m22 0h0m6 0h0m-209 1h0m5 0h0m16 0h0m3 0h0m36 0h0m8 0h0m15 0h0m30 0h0m-108 1h0m18 0h0m26 0h0m1 0h0m2 0h0m70 0h0m5 0h0m22 0h0m48 0h0m-186 1h0m12 0h0m31 0h0m10 0h0m27 0h0m76 0h0m14 0h0m11 0h0m-188 1h0m42 0h0m16 0h0m15 0h0m60 0h0m5 0h0m16 0h0m29 0h0m16 0h0m-163 1h0m12 0h0m57 0h0m17 0h0m2 0h0m23 0h0m14 0h0m3 0h0m5 0h0m29 0h0m6 0h0m-188 1h0m11 0h0m8 0h0m37 0h0m5 0h0m18 0h0m14 0h0m17 0h0m12 0h0m23 0h0m2 0h0m22 0h0m5 0h0m1 0h0m2 0h0m8 0h0m1 0h0m-184 1h0m14 0h0m11 0h0m45 0h0m10 0h0m15 0h0m24 0h0m5 0h0m12 0h0m40 0h0m10 0h0m-191 1h0m17 0h0m46 0h0m16 0h0m10 0h0m13 0h0m6 0h0m19 0h0m8 0h0m9 0h0m45 0h0m-199 1h0m12 0h0m50 0h0m2 0h0m11 0h0m14 0h0m17 0h0m4 0h0m23 0h0m40 0h0m12 0h0m10 0h0m-198 1h0m2 0h0m13 0h0m26 0h0m18 0h0m49 0h0m9 0h0m14 0h0m3 0h0m8 0h0m14 0h0m15 0h0m2 0h0m14 0h0m-172 1h0m6 0h0m31 0h0m6 0h0m2 0h0m23 0h0m11 0h0m20 0h0m7 0h0m10 0h0m23 0h0m-121 1h0m6 0h0m2 0h0m5 0h0m28 0h0m7 0h0m23 0h0m3 0h0m29 0h0m1 0h0m3 0h0m14 0h0m6 0h0m16 0h0m-139 1h0m12 0h0m16 0h0m22 0h0m7 0h0m17 0h0m6 0h0m2 0h0m8 0h0m6 0h0m11 0h0m14 0h0m15 0h0m-169 1h0m11 0h0m13 0h0m7 0h0m10 0h0m16 0h0m8 0h0m11 0h0m42 0h0m36 0h0m15 0h0m-152 1h0m8 0h0m5 0h0m7 0h0m15 0h0m3 0h0m22 0h0m9 0h0m12 0h0m8 0h0m38 0h0m50 0h0m-163 1h0m1 0h0m63 0h0m19 0h0m6 0h0m12 0h0m4 0h0m11 0h0m6 0h0m4 0h0m10 0h0m20 0h0m9 0h0m-170 1h0m18 0h0m12 0h0m11 0h0m16 0h0m12 0h0m4 0h0m13 0h0m39 0h0m43 0h0m-157 1h0m28 0h0m34 0h0m34 0h0m23 0h0m6 0h0m-155 1h0m6 0h0m36 0h0m13 0h0m24 0h0m38 0h0m53 0h0m14 0h0m-185 1h0m15 0h0m28 0h0m15 0h0m6 0h0m26 0h0m8 0h0m5 0h0m1 0h0m36 0h0m19 0h0m33 0h0m-199 1h0m2 0h0m11 0h0m46 0h0m23 0h0m54 0h0m16 0h0m14 0h0m12 0h0m-163 1h0m16 0h0m11 0h0m21 0h0m9 0h0m11 0h0m18 0h0m26 0h0m1 0h0m17 0h0m25 0h0m20 0h0m-197 1h0m165 0h0m30 0h0m-170 1h0m1 0h0m4 0h0m39 0h0m118 0h0m16 0h0m-204 1h0m24 0h0m38 0h0m23 0h0m75 0h0m3 0h0m37 0h0m-115 1h0m15 0h0m1 0h0m2 0h0m60 0h0m1 0h0m14 0h0m7 0h0m13 0h0m-198 1h0m28 0h0m44 0h0m6 0h0m8 0h0m45 0h0m40 0h0m10 0h0m5 0h0m2 0h0m3 0h0m13 0h0m-201 1h0m10 0h0m4 0h0m41 0h0m8 0h0m20 0h0m50 0h0m58 0h0m2 0h0m3 0h0m-178 1h0m11 0h0m19 0h0m13 0h0m7 0h0m62 0h0m5 0h0m34 0h0m17 0h0m10 0h0m-158 1h0m22 0h0m79 0h0m23 0h0m11 0h0m-164 1h0m18 0h0m9 0h0m65 0h0m8 0h0m5 0h0m42 0h0m3 0h0m24 0h0m-173 1h0m14 0h0m19 0h0m30 0h0m16 0h0m7 0h0m4 0h0m4 0h0m59 0h0m22 0h0m2 0h0m14 0h0m1 0h0m-162 1h0m29 0h0m15 0h0m22 0h0m93 0h0m-187 1h0m3 0h0m21 0h0m3 0h0m10 0h0m2 0h0m10 0h0m15 0h0m22 0h0m13 0h0m10 0h0m26 0h0m2 0h0m29 0h0m7 0h0m4 0h0m9 0h0m9 0h0m-197 1h0m3 0h0m19 0h0m1 0h0m9 0h0m1 0h0m4 0h0m4 0h0m11 0h0m8 0h0m8 0h0m1 0h0m17 0h0m29 0h0m4 0h0m10 0h0m7 0h0m17 0h0m26 0h0m-160 1h0m7 0h0m17 0h0m56 0h0m19 0h0m1 0h0m6 0h0m19 0h0m11 0h0m4 0h0m-115 1h0m40 0h0m1 0h0m11 0h0m5 0h0m20 0h0m7 0h0m10 0h0m22 0h0m-171 1h0m24 0h0m6 0h0m10 0h0m16 0h0m13 0h0m23 0h0m2 0h0m2 0h0m2 0h0m20 0h0m48 0h0m8 0h0m-161 1h0m83 0h0m25 0h0m24 0h0m33 0h0m-159 1h0m9 0h0m11 0h0m18 0h0m43 0h0m16 0h0m29 0h0m13 0h0m2 0h0m-151 1h0m13 0h0m22 0h0m3 0h0m5 0h0m94 0h0m25 0h0m12 0h0m-159 1h0m3 0h0m22 0h0m20 0h0m66 0h0m18 0h0m10 0h0m10 0h0m5 0h0m7 0h0m7 0h0m4 0h0m-151 1h0m23 0h0m41 0h0m6 0h0m20 0h0m6 0h0m13 0h0m12 0h0m21 0h0m-185 1h0m10 0h0m3 0h0m1 0h0m14 0h0m2 0h0m6 0h0m1 0h0m24 0h0m1 0h0m5 0h0m23 0h0m24 0h0m8 0h0m8 0h0m2 0h0m10 0h0m11 0h0m3 0h0m6 0h0m2 0h0m13 0h0m1 0h0m-157 1h0m25 0h0m15 0h0m32 0h0m65 0h0m2 0h0m9 0h0m8 0h0m5 0h0m12 0h0m2 0h0m-191 1h0m1 0h0m17 0h0m24 0h0m14 0h0m2 0h0m18 0h0m14 0h0m6 0h0m19 0h0m4 0h0m34 0h0m9 0h0m3 0h0m19 0h0m14 0h0m-205 1h0m5 0h0m11 0h0m46 0h0m10 0h0m2 0h0m5 0h0m5 0h0m4 0h0m21 0h0m1 0h0m20 0h0m37 0h0m4 0h0m22 0h0m-192 1h0m8 0h0m5 0h0m9 0h0m11 0h0m8 0h0m20 0h0m17 0h0m20 0h0m1 0h0m5 0h0m11 0h0m3 0h0m53 0h0m10 0h0m12 0h0m9 0h0m-198 1h0m41 0h0m15 0h0m6 0h0m14 0h0m43 0h0m9 0h0m7 0h0m3 0h0m29 0h0m18 0h0m9 0h0m-199 1h0m57 0h0m25 0h0m32 0h0m1 0h0m7 0h0m4 0h0m4 0h0m33 0h0m44 0h0m-161 1h0m47 0h0m46 0h0m22 0h0m-163 1h0m13 0h0m117 0h0m4 0h0m13 0h0m-133 1h0m6 0h0m5 0h0m23 0h0m15 0h0m39 0h0m62 0h0m13 0h0m15 0h0m1 0h0m-185 1h0m13 0h0m27 0h0m5 0h0m19 0h0m9 0h0m9 0h0m3 0h0m52 0h0m8 0h0m12 0h0m11 0h0m5 0h0m2 0h0m14 0h0m10 0h0m-156 1h0m8 0h0m3 0h0m14 0h0m22 0h0m66 0h0m10 0h0m17 0h0m16 0h0m-192 1h0m11 0h0m7 0h0m49 0h0m44 0h0m8 0h0m27 0h0m11 0h0m38 0h0m-203 1h0m8 0h0m3 0h0m6 0h0m3 0h0m10 0h0m8 0h0m24 0h0m10 0h0m4 0h0m13 0h0m1 0h0m1 0h0m74 0h0m36 0h0m-193 1h0m117 0h0m25 0h0m20 0h0m11 0h0m-154 1h0m30 0h0m29 0h0m13 0h0m32 0h0m14 0h0m20 0h0m12 0h0m17 0h0m-186 1h0m7 0h0m55 0h0m16 0h0m5 0h0m1 0h0m23 0h0m15 0h0m12 0h0m12 0h0m4 0h0m9 0h0m20 0h0m-102 1h0"/>
</g>
<g transform="scale(.5)" filter="url(#sb3)">
<path fill="none" stroke="#a85048" stroke-opacity="0.3" stroke-width="3.6" stroke-linecap="square" d="M866 601h0m21 0h0m31 0h0m4 0h0m10 0h0m71 0h0m23 0h0m9 0h0m-198 1h0m42 0h0m48 1h0m7 0h0m93 0h0m-155 1h0m92 0h0m-132 1h0m44 0h0m7 0h0m23 0h0m59 0h0m13 0h0m2 0h0m44 0h0m10 0h0m2 0h0m-196 1h0m18 0h0m20 0h0m1 0h0m8 0h0m15 0h0m116 0h0m4 0h0m-113 1h0m64 0h0m2 0h0m2 0h0m1 0h0m24 0h0m-153 1h0m6 0h0m9 0h0m29 0h0m9 0h0m98 0h0m30 0h0m-176 1h0m22 0h0m-12 1h0m25 0h0m83 0h0m39 0h0m3 0h0m2 0h0m-61 1h0m56 0h0m-129 1h0m3 0h0m79 0h0m19 0h0m-37 1h0m54 0h0m7 0h0m13 0h0m-183 1h0m89 0h0m18 0h0m29 0h0m2 0h0m62 0h0m-201 1h0m3 0h0m11 0h0m31 0h0m50 0h0m15 0h0m30 0h0m15 0h0m12 0h0m14 0h0m-100 1h0m65 0h0m2 0h0m1 0h0m2 0h0m27 0h0m3 0h0m-172 1h0m6 0h0m17 0h0m7 0h0m44 0h0m18 0h0m13 0h0m30 0h0m-116 1h0m50 0h0m3 0h0m8 0h0m1 0h0m12 0h0m-107 1h0m23 0h0m7 0h0m11 0h0m7 0h0m46 0h0m66 0h0m-130 1h0m6 0h0m34 0h0m57 0h0m59 0h0m-121 1h0m19 0h0m40 0h0m1 0h0m18 0h0m32 0h0m-159 1h0m9 0h0m44 0h0m2 0h0m96 0h0m33 0h0m-142 1h0m99 0h0m16 0h0m24 0h0m-180 1h0m42 0h0m1 0h0m4 0h0m18 0h0m41 0h0m46 0h0m19 0h0m18 0h0m-203 1h0m89 0h0m26 0h0m-96 1h0m33 0h0m51 0h0m14 0h0m31 0h0m-121 1h0m37 0h0m13 0h0m17 0h0m69 0h0m3 0h0m-170 1h0m17 0h0m34 0h0m30 0h0m5 0h0m11 0h0m3 0h0m18 0h0m35 0h0m6 0h0m13 0h0m-104 1h0m25 0h0m101 0h0m-190 1h0m2 0h0m24 0h0m11 0h0m7 0h0m4 0h0m34 0h0m37 0h0m12 0h0m34 0h0m17 0h0m11 0h0m9 0h0m-137 1h0m8 0h0m11 0h0m12 0h0m-101 1h0m82 0h0m29 0h0m60 0h0m-151 1h0m20 0h0m86 0h0m-112 1h0m19 0h0m34 0h0m112 0h0m25 0h0m-124 1h0m10 0h0m10 0h0m41 0h0m14 0h0m-94 1h0m26 0h0m44 0h0m-118 1h0m19 0h0m21 0h0m27 0h0m16 0h0m19 0h0m5 0h0m45 0h0m-119 1h0m6 0h0m41 0h0m73 0h0m12 0h0m11 0h0m3 0h0m-192 1h0m25 0h0m12 0h0m10 0h0m6 0h0m5 0h0m6 0h0m59 0h0m-77 1h0m24 0h0m23 0h0m4 0h0m9 0h0m30 0h0m7 0h0m16 0h0m5 0h0m20 0h0m15 0h0m7 0h0m-205 1h0m115 0h0m30 0h0m4 0h0m5 0h0m28 0h0m-120 1h0m12 0h0m26 0h0m-84 1h0m32 0h0m37 0h0m62 0h0m-125 1h0m11 0h0m33 0h0m22 0h0m65 0h0m-153 1h0m62 0h0m6 0h0m17 0h0m19 0h0m5 0h0m42 0h0m5 0h0m37 0h0m-189 1h0m45 0h0m9 0h0m29 0h0m33 0h0m32 0h0m19 0h0m6 0h0m-177 1h0m7 0h0m100 0h0m8 0h0m38 0h0m-36 1h0m33 0h0m12 0h0m4 0h0m29 0h0m-169 1h0m21 0h0m52 0h0m55 0h0m7 0h0m9 0h0m31 0h0m3 0h0m-163 1h0m16 0h0m4 0h0m29 0h0m26 0h0m13 0h0m5 0h0m42 0h0m-114 1h0m12 0h0m5 0h0m33 0h0m5 0h0m69 0h0m-137 1h0m6 0h0m18 0h0m5 0h0m5 0h0m8 0h0m1 0h0m18 0h0m30 0h0m55 0h0m-198 1h0m6 0h0m9 0h0m54 0h0m23 0h0m86 0h0m-155 1h0m34 0h0m25 0h0m29 0h0m1 0h0m51 0h0m46 0h0m-171 1h0m11 0h0m27 0h0m50 0h0m11 0h0m32 0h0m15 0h0m-140 1h0m1 0h0m77 0h0m4 0h0m17 0h0m25 0h0m14 0h0m-167 1h0m24 0h0m31 0h0m23 0h0m50 0h0m17 0h0m10 0h0m-151 1h0m57 0h0m42 0h0m1 0h0m47 0h0m34 0h0m-145 1h0m19 0h0m53 0h0m29 0h0m3 0h0m7 0h0m18 0h0m2 0h0m-151 1h0m35 0h0m12 0h0m56 0h0m40 0h0m2 0h0m5 0h0m16 0h0m-198 1h0m13 0h0m7 0h0m46 0h0m21 0h0m33 0h0m46 0h0m14 0h0m-171 1h0m38 0h0m13 0h0m38 0h0m7 0h0m14 0h0m10 0h0m39 0h0m-165 1h0m21 0h0m8 0h0m11 0h0m4 0h0m54 0h0m75 0h0m8 0h0m-171 1h0m23 0h0m45 0h0m13 0h0m2 0h0m6 0h0m17 0h0m35 0h0m7 0h0m2 0h0m22 0h0m21 0h0m-205 1h0m3 0h0m58 0h0m2 0h0m20 0h0m34 0h0m14 0h0m34 0h0m8 0h0m27 0h0m4 0h0m-180 1h0m18 0h0m3 0h0m31 0h0m4 0h0m29 0h0m9 0h0m21 0h0m16 0h0m21 0h0m5 0h0m18 0h0m-192 1h0m14 0h0m26 0h0m32 0h0m16 0h0m28 0h0m33 0h0m37 0h0m-182 1h0m3 0h0m21 0h0m23 0h0m32 0h0m60 0h0m4 1h0m1 0h0m-147 1h0m30 0h0m4 0h0m25 0h0m106 0h0m4 0h0m-175 1h0m85 0h0m12 0h0m87 0h0m-167 1h0m49 0h0m16 0h0m43 0h0m21 0h0m27 0h0m4 0h0m-179 1h0m137 0h0m40 0h0m16 0h0m1 0h0m7 0h0m-176 1h0m10 0h0m7 0h0m89 0h0m21 0h0m33 0h0m-116 1h0m5 0h0m7 0h0m57 0h0m28 0h0m17 0h0m-165 1h0m9 0h0m93 0h0m23 0h0m17 0h0m18 0h0m-164 1h0m22 0h0m59 0h0m100 0h0m-186 1h0m59 0h0m6 0h0m34 0h0m12 0h0m38 0h0m3 0h0m-151 1h0m4 0h0m6 0h0m10 0h0m39 0h0m3 0h0m81 0h0m7 0h0m27 0h0m-172 1h0m23 0h0m16 0h0m13 0h0m13 0h0m102 0h0m24 0h0m-166 1h0m19 0h0m24 0h0m20 0h0m7 0h0m25 0h0m-106 1h0m2 0h0m12 0h0m21 0h0m69 0h0m61 0h0m-143 2h0m111 0h0m20 0h0m-152 1h0m31 0h0m86 0h0m32 0h0m-134 1h0m14 0h0m5 0h0m8 0h0m54 0h0m32 0h0m26 0h0m18 0h0m-150 1h0m7 0h0m9 0h0m6 0h0m12 0h0m4 0h0m12 0h0m6 0h0m81 0h0m1 0h0m7 0h0m-176 1h0m124 0h0m42 0h0m-140 1h0m15 0h0m1 0h0m112 0h0m-169 1h0m15 0h0m31 0h0m8 0h0m40 0h0m19 0h0m10 0h0m16 0h0m19 0h0m19 0h0m23 0h0m-203 1h0m24 0h0m1 0h0m33 0h0m10 0h0m10 0h0m10 0h0m35 0h0m41 0h0m6 0h0m-154 1h0m25 0h0m17 0h0m43 0h0m3 0h0m84 0h0m-184 1h0m35 0h0m18 0h0m7 0h0m25 0h0m55 0h0m3 0h0m5 0h0m8 0h0m5 0h0m8 0h0m18 0h0m-188 1h0m2 0h0m12 0h0m10 0h0m20 0h0m20 0h0m11 0h0m7 0h0m6 0h0m4 0h0m4 0h0m68 0h0m6 0h0m1 0h0m-163 1h0m62 0h0m11 0h0m72 0h0m7 0h0m-137 1h0m56 0h0m14 0h0m11 0h0m6 0h0m17 0h0m-123 1h0m27 0h0m42 0h0m48 0h0m21 0h0m19 0h0m-152 1h0m26 0h0m6 0h0m7 0h0m35 0h0m29 0h0m9 0h0m63 0h0m11 0h0m3 0h0m-179 1h0m21 0h0m45 0h0m66 0h0m-157 1h0m10 0h0m33 0h0m9 0h0m64 0h0m14 0h0m34 0h0m39 0h0m-194 1h0m59 0h0m12 0h0m23 0h0m10 0h0m7 0h0m34 0h0m25 0h0m10 0h0m-175 1h0m33 0h0m31 0h0m5 0h0m6 0h0m31 0h0m16 0h0m-40 1h0m33 0h0m11 0h0m56 0h0m-177 1h0m31 0h0m57 0h0m-97 1h0m5 0h0m13 0h0m21 0h0m25 0h0m27 0h0m39 0h0m22 0h0m30 0h0m-163 1h0m28 0h0m85 0h0m47 0h0m-170 1h0m22 0h0m29 0h0m25 0h0m18 0h0m23 0h0m44 0h0m3 0h0m-165 1h0m20 0h0m32 0h0m25 0h0m22 0h0m76 0h0m-164 1h0m5 0h0m45 0h0m16 0h0m8 0h0m22 0h0m-125 1h0m16 0h0m55 0h0m5 0h0m31 0h0m5 0h0m92 0h0m-196 1h0m36 0h0m40 0h0m18 0h0m15 0h0m64 0h0m2 0h0m16 0h0m-202 1h0m14 0h0m10 0h0m21 0h0m5 0h0m29 0h0m18 0h0m6 1h0m-103 1h0m57 0h0m37 0h0m5 0h0m8 0h0m31 0h0m25 0h0m22 0h0m-177 1h0m5 0h0m45 0h0m4 0h0m1 0h0m5 0h0m12 0h0m41 0h0m67 0h0m13 0h0m-196 1h0m47 0h0m26 0h0m25 0h0m43 0h0m14 0h0m31 0h0m-156 1h0m141 0h0m-152 1h0m3 0h0m30 0h0m100 0h0m38 0h0m14 0h0m-138 1h0m8 0h0m32 0h0m8 0h0m23 0h0m55 0h0m-159 1h0m14 0h0m102 0h0m11 0h0m-155 1h0m6 0h0m66 0h0m41 0h0m11 0h0m75 0h0m-123 1h0m22 0h0m22 0h0m4 0h0m21 0h0m5 0h0m-70 1h0m7 0h0m25 0h0m69 0h0m10 0h0m-191 1h0m20 0h0m3 0h0m23 0h0m29 0h0m10 0h0m47 0h0m16 0h0m7 0h0m-4 1h0m13 0h0m6 0h0m-166 1h0m107 0h0m7 0h0m-118 1h0m8 0h0m54 0h0m15 0h0m28 0h0m11 0h0m10 0h0m27 0h0m-137 1h0m17 0h0m3 0h0m25 0h0m47 0h0m-90 1h0m3 0h0m24 0h0m60 0h0m26 0h0m13 0h0m21 0h0m19 0h0m7 0h0m-84 1h0m62 0h0m7 0h0m-174 1h0m145 0h0m11 0h0m18 0h0m-131 1h0m25 0h0m102 0h0m23 0h0m-114 1h0m40 0h0m34 0h0m-126 1h0m23 0h0m33 0h0m30 0h0m2 0h0m4 0h0m-86 1h0m7 0h0m32 0h0m19 0h0m38 0h0m11 0h0m-142 1h0m99 0h0m12 0h0m24 0h0m9 0h0m-140 1h0m7 0h0m18 0h0m2 0h0m28 0h0m25 0h0m54 0h0m4 0h0m-136 1h0m24 0h0m47 0h0m52 0h0m23 0h0m20 0h0m3 0h0m6 0h0m13 0h0m-200 1h0m4 0h0m7 0h0m6 0h0m46 0h0m75 0h0m37 0h0m11 0h0m1 0h0m-181 1h0m10 0h0m14 0h0m19 0h0m12 0h0m2 0h0m96 0h0m10 0h0m13 0h0m-108 1h0m29 0h0m-98 1h0m33 0h0m17 0h0m49 0h0m18 0h0m14 0h0m43 0h0m13 0h0m13 0h0m-142 1h0m17 0h0m41 0h0m15 0h0m3 0h0m45 0h0m-177 1h0m128 0h0m21 0h0m-150 1h0m10 0h0m57 0h0m23 0h0m2 0h0m4 0h0m25 0h0m19 0h0m-149 1h0m17 0h0m1 0h0m4 0h0m28 0h0m71 0h0m10 0h0m-121 1h0m6 0h0m22 0h0m14 0h0m27 0h0m30 0h0m5 0h0m12 0h0m-102 1h0m96 0h0m6 0h0m2 0h0m-99 1h0m74 0h0m34 0h0m29 0h0m6 0h0m-163 1h0m20 0h0m102 0h0m41 0h0m15 0h0m14 0h0m-200 1h0m22 0h0m29 0h0m8 0h0m6 0h0m44 0h0m11 0h0m82 0h0m-50 1h0m-114 1h0m79 0h0m2 0h0m51 0h0m17 0h0m-164 1h0m2 0h0m28 0h0m11 0h0m55 0h0m52 0h0m20 0h0m-183 1h0m3 0h0m28 0h0m12 0h0m65 0h0m37 0h0m5 0h0m1 0h0m20 0h0m-173 1h0m83 0h0m9 0h0m59 0h0"/>
</g>
</g>
</svg>
</body></html>
